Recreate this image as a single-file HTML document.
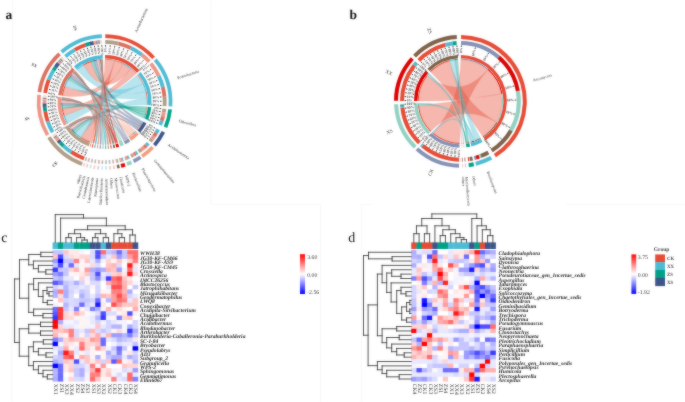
<!DOCTYPE html><html><head><meta charset="utf-8"><style>html,body{margin:0;padding:0;background:#fff;}svg{display:block;will-change:transform;}text{font-family:"Liberation Serif",serif;text-rendering:geometricPrecision;}</style></head><body><svg width="685" height="402" viewBox="0 0 685 402" font-family="Liberation Serif, serif">
<rect width="685" height="402" fill="#fff"/>
<defs><filter id="soft" x="-2%" y="-2%" width="104%" height="104%" color-interpolation-filters="sRGB"><feGaussianBlur in="SourceGraphic" stdDeviation="1" result="b"/><feComposite in="SourceGraphic" in2="b" operator="arithmetic" k1="0" k2="0.55" k3="0.45" k4="0"/></filter></defs>
<g filter="url(#soft)">
<rect width="685" height="402" fill="#fff"/>
<line x1="12.6" y1="0" x2="12.6" y2="150" stroke="#f7f7f7" stroke-width="1"/>
<line x1="11.8" y1="150" x2="11.8" y2="402" stroke="#f7f7f7" stroke-width="1"/>
<line x1="211" y1="0" x2="211" y2="204.3" stroke="#f7f7f7" stroke-width="1"/>
<line x1="211" y1="204.3" x2="320.6" y2="204.3" stroke="#f7f7f7" stroke-width="1"/>
<line x1="320.6" y1="204.3" x2="320.6" y2="402" stroke="#f7f7f7" stroke-width="1"/>
<line x1="361.3" y1="204.3" x2="361.3" y2="402" stroke="#f7f7f7" stroke-width="1"/>
<line x1="361.3" y1="204.3" x2="372" y2="204.3" stroke="#f7f7f7" stroke-width="1"/>
<line x1="566" y1="204.3" x2="685" y2="204.3" stroke="#f7f7f7" stroke-width="1"/>
<path d="M105.04,59.70A42.300000000000004,42.300000000000004 0 0 1 114.48,60.87Q104.60,102.00 90.20,141.77A42.300000000000004,42.300000000000004 0 0 1 81.05,137.14Q104.60,102.00 105.04,59.70Z" fill="#E64B35" fill-opacity="0.4" stroke="#E64B35" stroke-width="0.35" stroke-opacity="0.4"/>
<path d="M130.77,68.77A42.300000000000004,42.300000000000004 0 0 1 136.04,73.70Q104.60,102.00 64.57,115.67A42.300000000000004,42.300000000000004 0 0 1 62.81,108.53Q104.60,102.00 130.77,68.77Z" fill="#E64B35" fill-opacity="0.4" stroke="#E64B35" stroke-width="0.35" stroke-opacity="0.4"/>
<path d="M114.48,60.87A42.300000000000004,42.300000000000004 0 0 1 123.09,63.95Q104.60,102.00 62.78,95.67A42.300000000000004,42.300000000000004 0 0 1 65.29,86.38Q104.60,102.00 114.48,60.87Z" fill="#E64B35" fill-opacity="0.4" stroke="#E64B35" stroke-width="0.35" stroke-opacity="0.4"/>
<path d="M123.09,63.95A42.300000000000004,42.300000000000004 0 0 1 130.77,68.77Q104.60,102.00 83.65,65.25A42.300000000000004,42.300000000000004 0 0 1 91.13,61.90Q104.60,102.00 123.09,63.95Z" fill="#E64B35" fill-opacity="0.4" stroke="#E64B35" stroke-width="0.35" stroke-opacity="0.4"/>
<path d="M146.74,98.28A42.300000000000004,42.300000000000004 0 0 1 146.80,104.88Q104.60,102.00 81.05,137.14A42.300000000000004,42.300000000000004 0 0 1 75.62,132.81Q104.60,102.00 146.74,98.28Z" fill="#4DBBD5" fill-opacity="0.4" stroke="#4DBBD5" stroke-width="0.35" stroke-opacity="0.4"/>
<path d="M137.10,74.92A42.300000000000004,42.300000000000004 0 0 1 142.78,83.79Q104.60,102.00 68.04,123.28A42.300000000000004,42.300000000000004 0 0 1 64.57,115.67Q104.60,102.00 137.10,74.92Z" fill="#4DBBD5" fill-opacity="0.4" stroke="#4DBBD5" stroke-width="0.35" stroke-opacity="0.4"/>
<path d="M145.56,91.43A42.300000000000004,42.300000000000004 0 0 1 146.74,98.28Q104.60,102.00 65.29,86.38A42.300000000000004,42.300000000000004 0 0 1 68.60,79.79Q104.60,102.00 145.56,91.43Z" fill="#4DBBD5" fill-opacity="0.4" stroke="#4DBBD5" stroke-width="0.35" stroke-opacity="0.4"/>
<path d="M142.78,83.79A42.300000000000004,42.300000000000004 0 0 1 145.56,91.43Q104.60,102.00 77.02,69.93A42.300000000000004,42.300000000000004 0 0 1 83.65,65.25Q104.60,102.00 142.78,83.79Z" fill="#4DBBD5" fill-opacity="0.4" stroke="#4DBBD5" stroke-width="0.35" stroke-opacity="0.4"/>
<path d="M146.64,106.72A42.300000000000004,42.300000000000004 0 0 1 146.28,109.24Q104.60,102.00 75.62,132.81A42.300000000000004,42.300000000000004 0 0 1 73.33,130.49Q104.60,102.00 146.64,106.72Z" fill="#00A087" fill-opacity="0.4" stroke="#00A087" stroke-width="0.35" stroke-opacity="0.4"/>
<path d="M146.28,109.24A42.300000000000004,42.300000000000004 0 0 1 145.65,112.21Q104.60,102.00 62.81,108.53A42.300000000000004,42.300000000000004 0 0 1 62.44,105.40Q104.60,102.00 146.28,109.24Z" fill="#00A087" fill-opacity="0.4" stroke="#00A087" stroke-width="0.35" stroke-opacity="0.4"/>
<path d="M145.65,112.21A42.300000000000004,42.300000000000004 0 0 1 144.79,115.20Q104.60,102.00 68.60,79.79A42.300000000000004,42.300000000000004 0 0 1 70.09,77.55Q104.60,102.00 145.65,112.21Z" fill="#00A087" fill-opacity="0.4" stroke="#00A087" stroke-width="0.35" stroke-opacity="0.4"/>
<path d="M144.79,115.20A42.300000000000004,42.300000000000004 0 0 1 143.68,118.19Q104.60,102.00 91.13,61.90A42.300000000000004,42.300000000000004 0 0 1 93.91,61.07Q104.60,102.00 144.79,115.20Z" fill="#00A087" fill-opacity="0.4" stroke="#00A087" stroke-width="0.35" stroke-opacity="0.4"/>
<path d="M137.92,128.06A42.300000000000004,42.300000000000004 0 0 1 136.57,129.70Q104.60,102.00 73.33,130.49A42.300000000000004,42.300000000000004 0 0 1 71.96,128.91Q104.60,102.00 137.92,128.06Z" fill="#3C5488" fill-opacity="0.4" stroke="#3C5488" stroke-width="0.35" stroke-opacity="0.4"/>
<path d="M139.39,126.06A42.300000000000004,42.300000000000004 0 0 1 137.92,128.06Q104.60,102.00 62.44,105.40A42.300000000000004,42.300000000000004 0 0 1 62.31,102.90Q104.60,102.00 139.39,126.06Z" fill="#3C5488" fill-opacity="0.4" stroke="#3C5488" stroke-width="0.35" stroke-opacity="0.4"/>
<path d="M140.92,123.68A42.300000000000004,42.300000000000004 0 0 1 139.39,126.06Q104.60,102.00 70.09,77.55A42.300000000000004,42.300000000000004 0 0 1 72.21,74.79Q104.60,102.00 140.92,123.68Z" fill="#3C5488" fill-opacity="0.4" stroke="#3C5488" stroke-width="0.35" stroke-opacity="0.4"/>
<path d="M142.29,121.20A42.300000000000004,42.300000000000004 0 0 1 140.92,123.68Q104.60,102.00 93.91,61.07A42.300000000000004,42.300000000000004 0 0 1 96.95,60.40Q104.60,102.00 142.29,121.20Z" fill="#3C5488" fill-opacity="0.4" stroke="#3C5488" stroke-width="0.35" stroke-opacity="0.4"/>
<path d="M130.47,135.46A42.300000000000004,42.300000000000004 0 0 1 128.62,136.82Q104.60,102.00 71.96,128.91A42.300000000000004,42.300000000000004 0 0 1 70.72,127.33Q104.60,102.00 130.47,135.46Z" fill="#F39B7F" fill-opacity="0.4" stroke="#F39B7F" stroke-width="0.35" stroke-opacity="0.4"/>
<path d="M132.45,133.84A42.300000000000004,42.300000000000004 0 0 1 130.47,135.46Q104.60,102.00 62.31,102.90A42.300000000000004,42.300000000000004 0 0 1 62.31,100.97Q104.60,102.00 132.45,133.84Z" fill="#F39B7F" fill-opacity="0.4" stroke="#F39B7F" stroke-width="0.35" stroke-opacity="0.4"/>
<path d="M133.95,132.46A42.300000000000004,42.300000000000004 0 0 1 132.45,133.84Q104.60,102.00 72.21,74.79A42.300000000000004,42.300000000000004 0 0 1 73.00,73.88Q104.60,102.00 133.95,132.46Z" fill="#F39B7F" fill-opacity="0.4" stroke="#F39B7F" stroke-width="0.35" stroke-opacity="0.4"/>
<path d="M135.38,131.01A42.300000000000004,42.300000000000004 0 0 1 133.95,132.46Q104.60,102.00 96.95,60.40A42.300000000000004,42.300000000000004 0 0 1 98.53,60.14Q104.60,102.00 135.38,131.01Z" fill="#F39B7F" fill-opacity="0.4" stroke="#F39B7F" stroke-width="0.35" stroke-opacity="0.4"/>
<path d="M124.35,139.41A42.300000000000004,42.300000000000004 0 0 1 123.14,140.02Q104.60,102.00 70.72,127.33A42.300000000000004,42.300000000000004 0 0 1 70.31,126.77Q104.60,102.00 124.35,139.41Z" fill="#8491B4" fill-opacity="0.52" stroke="#8491B4" stroke-width="0.35" stroke-opacity="0.52"/>
<path d="M125.33,138.87A42.300000000000004,42.300000000000004 0 0 1 124.35,139.41Q104.60,102.00 62.31,100.97A42.300000000000004,42.300000000000004 0 0 1 62.33,100.32Q104.60,102.00 125.33,138.87Z" fill="#8491B4" fill-opacity="0.52" stroke="#8491B4" stroke-width="0.35" stroke-opacity="0.52"/>
<path d="M126.50,138.19A42.300000000000004,42.300000000000004 0 0 1 125.33,138.87Q104.60,102.00 73.00,73.88A42.300000000000004,42.300000000000004 0 0 1 73.72,73.10Q104.60,102.00 126.50,138.19Z" fill="#8491B4" fill-opacity="0.52" stroke="#8491B4" stroke-width="0.35" stroke-opacity="0.52"/>
<path d="M127.64,137.48A42.300000000000004,42.300000000000004 0 0 1 126.50,138.19Q104.60,102.00 98.53,60.14A42.300000000000004,42.300000000000004 0 0 1 99.83,59.97Q104.60,102.00 127.64,137.48Z" fill="#8491B4" fill-opacity="0.52" stroke="#8491B4" stroke-width="0.35" stroke-opacity="0.52"/>
<path d="M119.66,141.53A42.300000000000004,42.300000000000004 0 0 1 118.93,141.80Q104.60,102.00 70.31,126.77A42.300000000000004,42.300000000000004 0 0 1 70.11,126.48Q104.60,102.00 119.66,141.53Z" fill="#91D1C2" fill-opacity="0.52" stroke="#91D1C2" stroke-width="0.35" stroke-opacity="0.52"/>
<path d="M120.38,141.25A42.300000000000004,42.300000000000004 0 0 1 119.66,141.53Q104.60,102.00 62.33,100.32A42.300000000000004,42.300000000000004 0 0 1 62.36,99.75Q104.60,102.00 120.38,141.25Z" fill="#91D1C2" fill-opacity="0.52" stroke="#91D1C2" stroke-width="0.35" stroke-opacity="0.52"/>
<path d="M121.09,140.95A42.300000000000004,42.300000000000004 0 0 1 120.38,141.25Q104.60,102.00 73.72,73.10A42.300000000000004,42.300000000000004 0 0 1 74.11,72.68Q104.60,102.00 121.09,140.95Z" fill="#91D1C2" fill-opacity="0.52" stroke="#91D1C2" stroke-width="0.35" stroke-opacity="0.52"/>
<path d="M121.80,140.64A42.300000000000004,42.300000000000004 0 0 1 121.09,140.95Q104.60,102.00 99.83,59.97A42.300000000000004,42.300000000000004 0 0 1 100.40,59.91Q104.60,102.00 121.80,140.64Z" fill="#91D1C2" fill-opacity="0.52" stroke="#91D1C2" stroke-width="0.35" stroke-opacity="0.52"/>
<path d="M115.76,142.80A42.300000000000004,42.300000000000004 0 0 1 115.12,142.97Q104.60,102.00 70.11,126.48A42.300000000000004,42.300000000000004 0 0 1 69.91,126.20Q104.60,102.00 115.76,142.80Z" fill="#DC0000" fill-opacity="0.52" stroke="#DC0000" stroke-width="0.35" stroke-opacity="0.52"/>
<path d="M116.40,142.62A42.300000000000004,42.300000000000004 0 0 1 115.76,142.80Q104.60,102.00 62.36,99.75A42.300000000000004,42.300000000000004 0 0 1 62.38,99.39Q104.60,102.00 116.40,142.62Z" fill="#DC0000" fill-opacity="0.52" stroke="#DC0000" stroke-width="0.35" stroke-opacity="0.52"/>
<path d="M117.04,142.43A42.300000000000004,42.300000000000004 0 0 1 116.40,142.62Q104.60,102.00 74.11,72.68A42.300000000000004,42.300000000000004 0 0 1 74.35,72.43Q104.60,102.00 117.04,142.43Z" fill="#DC0000" fill-opacity="0.52" stroke="#DC0000" stroke-width="0.35" stroke-opacity="0.52"/>
<path d="M117.67,142.23A42.300000000000004,42.300000000000004 0 0 1 117.04,142.43Q104.60,102.00 100.40,59.91A42.300000000000004,42.300000000000004 0 0 1 100.84,59.87Q104.60,102.00 117.67,142.23Z" fill="#DC0000" fill-opacity="0.52" stroke="#DC0000" stroke-width="0.35" stroke-opacity="0.52"/>
<path d="M112.92,143.47A42.300000000000004,42.300000000000004 0 0 1 112.53,143.55Q104.60,102.00 69.91,126.20A42.300000000000004,42.300000000000004 0 0 1 69.75,125.97Q104.60,102.00 112.92,143.47Z" fill="#7E6148" fill-opacity="0.52" stroke="#7E6148" stroke-width="0.35" stroke-opacity="0.52"/>
<path d="M113.32,143.39A42.300000000000004,42.300000000000004 0 0 1 112.92,143.47Q104.60,102.00 62.38,99.39A42.300000000000004,42.300000000000004 0 0 1 62.40,99.04Q104.60,102.00 113.32,143.39Z" fill="#7E6148" fill-opacity="0.52" stroke="#7E6148" stroke-width="0.35" stroke-opacity="0.52"/>
<path d="M113.72,143.31A42.300000000000004,42.300000000000004 0 0 1 113.32,143.39Q104.60,102.00 74.35,72.43A42.300000000000004,42.300000000000004 0 0 1 74.55,72.23Q104.60,102.00 113.72,143.31Z" fill="#7E6148" fill-opacity="0.52" stroke="#7E6148" stroke-width="0.35" stroke-opacity="0.52"/>
<path d="M114.12,143.22A42.300000000000004,42.300000000000004 0 0 1 113.72,143.31Q104.60,102.00 100.84,59.87A42.300000000000004,42.300000000000004 0 0 1 101.20,59.84Q104.60,102.00 114.12,143.22Z" fill="#7E6148" fill-opacity="0.52" stroke="#7E6148" stroke-width="0.35" stroke-opacity="0.52"/>
<path d="M110.30,143.91A42.300000000000004,42.300000000000004 0 0 1 110.05,143.95Q104.60,102.00 69.75,125.97A42.300000000000004,42.300000000000004 0 0 1 69.65,125.83Q104.60,102.00 110.30,143.91Z" fill="#E64B35" fill-opacity="0.52" stroke="#E64B35" stroke-width="0.35" stroke-opacity="0.52"/>
<path d="M110.56,143.88A42.300000000000004,42.300000000000004 0 0 1 110.30,143.91Q104.60,102.00 62.40,99.04A42.300000000000004,42.300000000000004 0 0 1 62.42,98.86Q104.60,102.00 110.56,143.88Z" fill="#E64B35" fill-opacity="0.52" stroke="#E64B35" stroke-width="0.35" stroke-opacity="0.52"/>
<path d="M110.82,143.84A42.300000000000004,42.300000000000004 0 0 1 110.56,143.88Q104.60,102.00 74.55,72.23A42.300000000000004,42.300000000000004 0 0 1 74.68,72.10Q104.60,102.00 110.82,143.84Z" fill="#E64B35" fill-opacity="0.52" stroke="#E64B35" stroke-width="0.35" stroke-opacity="0.52"/>
<path d="M111.07,143.80A42.300000000000004,42.300000000000004 0 0 1 110.82,143.84Q104.60,102.00 101.20,59.84A42.300000000000004,42.300000000000004 0 0 1 101.38,59.82Q104.60,102.00 111.07,143.80Z" fill="#E64B35" fill-opacity="0.52" stroke="#E64B35" stroke-width="0.35" stroke-opacity="0.52"/>
<path d="M107.81,144.18A42.300000000000004,42.300000000000004 0 0 1 107.55,144.20Q104.60,102.00 69.65,125.83A42.300000000000004,42.300000000000004 0 0 1 69.55,125.68Q104.60,102.00 107.81,144.18Z" fill="#B09C85" fill-opacity="0.52" stroke="#B09C85" stroke-width="0.35" stroke-opacity="0.52"/>
<path d="M108.07,144.16A42.300000000000004,42.300000000000004 0 0 1 107.81,144.18Q104.60,102.00 62.42,98.86A42.300000000000004,42.300000000000004 0 0 1 62.43,98.68Q104.60,102.00 108.07,144.16Z" fill="#B09C85" fill-opacity="0.52" stroke="#B09C85" stroke-width="0.35" stroke-opacity="0.52"/>
<path d="M108.32,144.14A42.300000000000004,42.300000000000004 0 0 1 108.07,144.16Q104.60,102.00 74.68,72.10A42.300000000000004,42.300000000000004 0 0 1 74.80,71.98Q104.60,102.00 108.32,144.14Z" fill="#B09C85" fill-opacity="0.52" stroke="#B09C85" stroke-width="0.35" stroke-opacity="0.52"/>
<path d="M108.58,144.11A42.300000000000004,42.300000000000004 0 0 1 108.32,144.14Q104.60,102.00 101.38,59.82A42.300000000000004,42.300000000000004 0 0 1 101.56,59.81Q104.60,102.00 108.58,144.11Z" fill="#B09C85" fill-opacity="0.52" stroke="#B09C85" stroke-width="0.35" stroke-opacity="0.52"/>
<path d="M105.30,144.29A42.300000000000004,42.300000000000004 0 0 1 105.04,144.30Q104.60,102.00 69.55,125.68A42.300000000000004,42.300000000000004 0 0 1 69.45,125.54Q104.60,102.00 105.30,144.29Z" fill="#4DBBD5" fill-opacity="0.52" stroke="#4DBBD5" stroke-width="0.35" stroke-opacity="0.52"/>
<path d="M105.56,144.29A42.300000000000004,42.300000000000004 0 0 1 105.30,144.29Q104.60,102.00 62.43,98.68A42.300000000000004,42.300000000000004 0 0 1 62.45,98.50Q104.60,102.00 105.56,144.29Z" fill="#4DBBD5" fill-opacity="0.52" stroke="#4DBBD5" stroke-width="0.35" stroke-opacity="0.52"/>
<path d="M105.82,144.28A42.300000000000004,42.300000000000004 0 0 1 105.56,144.29Q104.60,102.00 74.80,71.98A42.300000000000004,42.300000000000004 0 0 1 74.93,71.85Q104.60,102.00 105.82,144.28Z" fill="#4DBBD5" fill-opacity="0.52" stroke="#4DBBD5" stroke-width="0.35" stroke-opacity="0.52"/>
<path d="M106.08,144.27A42.300000000000004,42.300000000000004 0 0 1 105.82,144.28Q104.60,102.00 101.56,59.81A42.300000000000004,42.300000000000004 0 0 1 101.74,59.80Q104.60,102.00 106.08,144.27Z" fill="#4DBBD5" fill-opacity="0.52" stroke="#4DBBD5" stroke-width="0.35" stroke-opacity="0.52"/>
<path d="M102.79,144.26A42.300000000000004,42.300000000000004 0 0 1 102.53,144.25Q104.60,102.00 69.45,125.54A42.300000000000004,42.300000000000004 0 0 1 69.36,125.39Q104.60,102.00 102.79,144.26Z" fill="#91D1C2" fill-opacity="0.52" stroke="#91D1C2" stroke-width="0.35" stroke-opacity="0.52"/>
<path d="M103.05,144.27A42.300000000000004,42.300000000000004 0 0 1 102.79,144.26Q104.60,102.00 62.45,98.50A42.300000000000004,42.300000000000004 0 0 1 62.46,98.32Q104.60,102.00 103.05,144.27Z" fill="#91D1C2" fill-opacity="0.52" stroke="#91D1C2" stroke-width="0.35" stroke-opacity="0.52"/>
<path d="M103.31,144.28A42.300000000000004,42.300000000000004 0 0 1 103.05,144.27Q104.60,102.00 74.93,71.85A42.300000000000004,42.300000000000004 0 0 1 75.06,71.73Q104.60,102.00 103.31,144.28Z" fill="#91D1C2" fill-opacity="0.52" stroke="#91D1C2" stroke-width="0.35" stroke-opacity="0.52"/>
<path d="M103.57,144.29A42.300000000000004,42.300000000000004 0 0 1 103.31,144.28Q104.60,102.00 101.74,59.80A42.300000000000004,42.300000000000004 0 0 1 101.92,59.78Q104.60,102.00 103.57,144.29Z" fill="#91D1C2" fill-opacity="0.52" stroke="#91D1C2" stroke-width="0.35" stroke-opacity="0.52"/>
<path d="M100.29,144.08A42.300000000000004,42.300000000000004 0 0 1 100.03,144.05Q104.60,102.00 69.36,125.39A42.300000000000004,42.300000000000004 0 0 1 69.26,125.25Q104.60,102.00 100.29,144.08Z" fill="#8491B4" fill-opacity="0.52" stroke="#8491B4" stroke-width="0.35" stroke-opacity="0.52"/>
<path d="M100.55,144.11A42.300000000000004,42.300000000000004 0 0 1 100.29,144.08Q104.60,102.00 62.46,98.32A42.300000000000004,42.300000000000004 0 0 1 62.48,98.14Q104.60,102.00 100.55,144.11Z" fill="#8491B4" fill-opacity="0.52" stroke="#8491B4" stroke-width="0.35" stroke-opacity="0.52"/>
<path d="M100.80,144.13A42.300000000000004,42.300000000000004 0 0 1 100.55,144.11Q104.60,102.00 75.06,71.73A42.300000000000004,42.300000000000004 0 0 1 75.18,71.60Q104.60,102.00 100.80,144.13Z" fill="#8491B4" fill-opacity="0.52" stroke="#8491B4" stroke-width="0.35" stroke-opacity="0.52"/>
<path d="M101.06,144.15A42.300000000000004,42.300000000000004 0 0 1 100.80,144.13Q104.60,102.00 101.92,59.78A42.300000000000004,42.300000000000004 0 0 1 102.10,59.77Q104.60,102.00 101.06,144.15Z" fill="#8491B4" fill-opacity="0.52" stroke="#8491B4" stroke-width="0.35" stroke-opacity="0.52"/>
<path d="M97.80,143.75A42.300000000000004,42.300000000000004 0 0 1 97.55,143.71Q104.60,102.00 69.26,125.25A42.300000000000004,42.300000000000004 0 0 1 69.17,125.10Q104.60,102.00 97.80,143.75Z" fill="#F39B7F" fill-opacity="0.52" stroke="#F39B7F" stroke-width="0.35" stroke-opacity="0.52"/>
<path d="M98.06,143.79A42.300000000000004,42.300000000000004 0 0 1 97.80,143.75Q104.60,102.00 62.48,98.14A42.300000000000004,42.300000000000004 0 0 1 62.49,97.97Q104.60,102.00 98.06,143.79Z" fill="#F39B7F" fill-opacity="0.52" stroke="#F39B7F" stroke-width="0.35" stroke-opacity="0.52"/>
<path d="M98.31,143.83A42.300000000000004,42.300000000000004 0 0 1 98.06,143.79Q104.60,102.00 75.18,71.60A42.300000000000004,42.300000000000004 0 0 1 75.31,71.48Q104.60,102.00 98.31,143.83Z" fill="#F39B7F" fill-opacity="0.52" stroke="#F39B7F" stroke-width="0.35" stroke-opacity="0.52"/>
<path d="M98.57,143.87A42.300000000000004,42.300000000000004 0 0 1 98.31,143.83Q104.60,102.00 102.10,59.77A42.300000000000004,42.300000000000004 0 0 1 102.28,59.76Q104.60,102.00 98.57,143.87Z" fill="#F39B7F" fill-opacity="0.52" stroke="#F39B7F" stroke-width="0.35" stroke-opacity="0.52"/>
<path d="M95.41,143.29A42.300000000000004,42.300000000000004 0 0 1 95.16,143.23Q104.60,102.00 69.17,125.10A42.300000000000004,42.300000000000004 0 0 1 69.07,124.96Q104.60,102.00 95.41,143.29Z" fill="#4DBBD5" fill-opacity="0.52" stroke="#4DBBD5" stroke-width="0.35" stroke-opacity="0.52"/>
<path d="M95.66,143.34A42.300000000000004,42.300000000000004 0 0 1 95.41,143.29Q104.60,102.00 62.49,97.97A42.300000000000004,42.300000000000004 0 0 1 62.51,97.79Q104.60,102.00 95.66,143.34Z" fill="#4DBBD5" fill-opacity="0.52" stroke="#4DBBD5" stroke-width="0.35" stroke-opacity="0.52"/>
<path d="M95.91,143.40A42.300000000000004,42.300000000000004 0 0 1 95.66,143.34Q104.60,102.00 75.31,71.48A42.300000000000004,42.300000000000004 0 0 1 75.44,71.36Q104.60,102.00 95.91,143.40Z" fill="#4DBBD5" fill-opacity="0.52" stroke="#4DBBD5" stroke-width="0.35" stroke-opacity="0.52"/>
<path d="M96.17,143.45A42.300000000000004,42.300000000000004 0 0 1 95.91,143.40Q104.60,102.00 102.28,59.76A42.300000000000004,42.300000000000004 0 0 1 102.47,59.75Q104.60,102.00 96.17,143.45Z" fill="#4DBBD5" fill-opacity="0.52" stroke="#4DBBD5" stroke-width="0.35" stroke-opacity="0.52"/>
<path d="M93.19,142.73A42.300000000000004,42.300000000000004 0 0 1 92.94,142.66Q104.60,102.00 69.07,124.96A42.300000000000004,42.300000000000004 0 0 1 68.98,124.81Q104.60,102.00 93.19,142.73Z" fill="#E64B35" fill-opacity="0.52" stroke="#E64B35" stroke-width="0.35" stroke-opacity="0.52"/>
<path d="M93.44,142.80A42.300000000000004,42.300000000000004 0 0 1 93.19,142.73Q104.60,102.00 62.51,97.79A42.300000000000004,42.300000000000004 0 0 1 62.53,97.61Q104.60,102.00 93.44,142.80Z" fill="#E64B35" fill-opacity="0.52" stroke="#E64B35" stroke-width="0.35" stroke-opacity="0.52"/>
<path d="M93.69,142.87A42.300000000000004,42.300000000000004 0 0 1 93.44,142.80Q104.60,102.00 75.44,71.36A42.300000000000004,42.300000000000004 0 0 1 75.57,71.24Q104.60,102.00 93.69,142.87Z" fill="#E64B35" fill-opacity="0.52" stroke="#E64B35" stroke-width="0.35" stroke-opacity="0.52"/>
<path d="M93.94,142.93A42.300000000000004,42.300000000000004 0 0 1 93.69,142.87Q104.60,102.00 102.47,59.75A42.300000000000004,42.300000000000004 0 0 1 102.65,59.75Q104.60,102.00 93.94,142.93Z" fill="#E64B35" fill-opacity="0.52" stroke="#E64B35" stroke-width="0.35" stroke-opacity="0.52"/>
<path d="M91.21,142.13A42.300000000000004,42.300000000000004 0 0 1 90.97,142.04Q104.60,102.00 68.98,124.81A42.300000000000004,42.300000000000004 0 0 1 68.88,124.67Q104.60,102.00 91.21,142.13Z" fill="#F39B7F" fill-opacity="0.52" stroke="#F39B7F" stroke-width="0.35" stroke-opacity="0.52"/>
<path d="M91.46,142.21A42.300000000000004,42.300000000000004 0 0 1 91.21,142.13Q104.60,102.00 62.53,97.61A42.300000000000004,42.300000000000004 0 0 1 62.55,97.43Q104.60,102.00 91.46,142.21Z" fill="#F39B7F" fill-opacity="0.52" stroke="#F39B7F" stroke-width="0.35" stroke-opacity="0.52"/>
<path d="M91.70,142.29A42.300000000000004,42.300000000000004 0 0 1 91.46,142.21Q104.60,102.00 75.57,71.24A42.300000000000004,42.300000000000004 0 0 1 75.70,71.11Q104.60,102.00 91.70,142.29Z" fill="#F39B7F" fill-opacity="0.52" stroke="#F39B7F" stroke-width="0.35" stroke-opacity="0.52"/>
<path d="M91.95,142.36A42.300000000000004,42.300000000000004 0 0 1 91.70,142.29Q104.60,102.00 102.65,59.75A42.300000000000004,42.300000000000004 0 0 1 102.83,59.74Q104.60,102.00 91.95,142.36Z" fill="#F39B7F" fill-opacity="0.52" stroke="#F39B7F" stroke-width="0.35" stroke-opacity="0.52"/>
<path d="M105.05,58.70A43.300000000000004,43.300000000000004 0 0 1 114.71,59.90L114.48,60.87A42.300000000000004,42.300000000000004 0 0 0 105.04,59.70Z" fill="#B09C85" />
<path d="M89.86,142.71A43.300000000000004,43.300000000000004 0 0 1 80.49,137.97L81.05,137.14A42.300000000000004,42.300000000000004 0 0 0 90.20,141.77Z" fill="#E64B35" />
<path d="M131.39,67.98A43.300000000000004,43.300000000000004 0 0 1 136.78,73.03L136.04,73.70A42.300000000000004,42.300000000000004 0 0 0 130.77,68.77Z" fill="#EC9585" />
<path d="M63.62,116.00A43.300000000000004,43.300000000000004 0 0 1 61.82,108.68L62.81,108.53A42.300000000000004,42.300000000000004 0 0 0 64.57,115.67Z" fill="#E64B35" />
<path d="M114.71,59.90A43.300000000000004,43.300000000000004 0 0 1 123.52,63.05L123.09,63.95A42.300000000000004,42.300000000000004 0 0 0 114.48,60.87Z" fill="#D9705E" />
<path d="M61.79,95.53A43.300000000000004,43.300000000000004 0 0 1 64.36,86.01L65.29,86.38A42.300000000000004,42.300000000000004 0 0 0 62.78,95.67Z" fill="#E64B35" />
<path d="M123.52,63.05A43.300000000000004,43.300000000000004 0 0 1 131.39,67.98L130.77,68.77A42.300000000000004,42.300000000000004 0 0 0 123.09,63.95Z" fill="#4DBBD5" />
<path d="M83.16,64.38A43.300000000000004,43.300000000000004 0 0 1 90.81,60.96L91.13,61.90A42.300000000000004,42.300000000000004 0 0 0 83.65,65.25Z" fill="#E64B35" />
<path d="M147.73,98.20A43.300000000000004,43.300000000000004 0 0 1 147.80,104.95L146.80,104.88A42.300000000000004,42.300000000000004 0 0 0 146.74,98.28Z" fill="#B09C85" />
<path d="M80.49,137.97A43.300000000000004,43.300000000000004 0 0 1 74.93,133.54L75.62,132.81A42.300000000000004,42.300000000000004 0 0 0 81.05,137.14Z" fill="#4DBBD5" />
<path d="M137.87,74.28A43.300000000000004,43.300000000000004 0 0 1 143.68,83.36L142.78,83.79A42.300000000000004,42.300000000000004 0 0 0 137.10,74.92Z" fill="#EC9585" />
<path d="M67.18,123.78A43.300000000000004,43.300000000000004 0 0 1 63.62,116.00L64.57,115.67A42.300000000000004,42.300000000000004 0 0 0 68.04,123.28Z" fill="#4DBBD5" />
<path d="M146.53,91.18A43.300000000000004,43.300000000000004 0 0 1 147.73,98.20L146.74,98.28A42.300000000000004,42.300000000000004 0 0 0 145.56,91.43Z" fill="#D9705E" />
<path d="M64.36,86.01A43.300000000000004,43.300000000000004 0 0 1 67.75,79.27L68.60,79.79A42.300000000000004,42.300000000000004 0 0 0 65.29,86.38Z" fill="#4DBBD5" />
<path d="M143.68,83.36A43.300000000000004,43.300000000000004 0 0 1 146.53,91.18L145.56,91.43A42.300000000000004,42.300000000000004 0 0 0 142.78,83.79Z" fill="#4DBBD5" />
<path d="M76.36,69.17A43.300000000000004,43.300000000000004 0 0 1 83.16,64.38L83.65,65.25A42.300000000000004,42.300000000000004 0 0 0 77.02,69.93Z" fill="#4DBBD5" />
<path d="M147.63,106.83A43.300000000000004,43.300000000000004 0 0 1 147.26,109.41L146.28,109.24A42.300000000000004,42.300000000000004 0 0 0 146.64,106.72Z" fill="#B09C85" />
<path d="M74.93,133.54A43.300000000000004,43.300000000000004 0 0 1 72.59,131.16L73.33,130.49A42.300000000000004,42.300000000000004 0 0 0 75.62,132.81Z" fill="#00A087" />
<path d="M147.26,109.41A43.300000000000004,43.300000000000004 0 0 1 146.62,112.45L145.65,112.21A42.300000000000004,42.300000000000004 0 0 0 146.28,109.24Z" fill="#EC9585" />
<path d="M61.82,108.68A43.300000000000004,43.300000000000004 0 0 1 61.44,105.48L62.44,105.40A42.300000000000004,42.300000000000004 0 0 0 62.81,108.53Z" fill="#00A087" />
<path d="M146.62,112.45A43.300000000000004,43.300000000000004 0 0 1 145.74,115.52L144.79,115.20A42.300000000000004,42.300000000000004 0 0 0 145.65,112.21Z" fill="#D9705E" />
<path d="M67.75,79.27A43.300000000000004,43.300000000000004 0 0 1 69.27,76.97L70.09,77.55A42.300000000000004,42.300000000000004 0 0 0 68.60,79.79Z" fill="#00A087" />
<path d="M145.74,115.52A43.300000000000004,43.300000000000004 0 0 1 144.60,118.57L143.68,118.19A42.300000000000004,42.300000000000004 0 0 0 144.79,115.20Z" fill="#4DBBD5" />
<path d="M90.81,60.96A43.300000000000004,43.300000000000004 0 0 1 93.65,60.11L93.91,61.07A42.300000000000004,42.300000000000004 0 0 0 91.13,61.90Z" fill="#00A087" />
<path d="M138.71,128.67A43.300000000000004,43.300000000000004 0 0 1 137.33,130.35L136.57,129.70A42.300000000000004,42.300000000000004 0 0 0 137.92,128.06Z" fill="#B09C85" />
<path d="M72.59,131.16A43.300000000000004,43.300000000000004 0 0 1 71.19,129.55L71.96,128.91A42.300000000000004,42.300000000000004 0 0 0 73.33,130.49Z" fill="#3C5488" />
<path d="M140.21,126.63A43.300000000000004,43.300000000000004 0 0 1 138.71,128.67L137.92,128.06A42.300000000000004,42.300000000000004 0 0 0 139.39,126.06Z" fill="#EC9585" />
<path d="M61.44,105.48A43.300000000000004,43.300000000000004 0 0 1 61.31,102.92L62.31,102.90A42.300000000000004,42.300000000000004 0 0 0 62.44,105.40Z" fill="#3C5488" />
<path d="M141.78,124.19A43.300000000000004,43.300000000000004 0 0 1 140.21,126.63L139.39,126.06A42.300000000000004,42.300000000000004 0 0 0 140.92,123.68Z" fill="#D9705E" />
<path d="M69.27,76.97A43.300000000000004,43.300000000000004 0 0 1 71.44,74.15L72.21,74.79A42.300000000000004,42.300000000000004 0 0 0 70.09,77.55Z" fill="#3C5488" />
<path d="M143.18,121.66A43.300000000000004,43.300000000000004 0 0 1 141.78,124.19L140.92,123.68A42.300000000000004,42.300000000000004 0 0 0 142.29,121.20Z" fill="#4DBBD5" />
<path d="M93.65,60.11A43.300000000000004,43.300000000000004 0 0 1 96.77,59.41L96.95,60.40A42.300000000000004,42.300000000000004 0 0 0 93.91,61.07Z" fill="#3C5488" />
<path d="M131.09,136.25A43.300000000000004,43.300000000000004 0 0 1 129.19,137.64L128.62,136.82A42.300000000000004,42.300000000000004 0 0 0 130.47,135.46Z" fill="#B09C85" />
<path d="M71.19,129.55A43.300000000000004,43.300000000000004 0 0 1 69.92,127.92L70.72,127.33A42.300000000000004,42.300000000000004 0 0 0 71.96,128.91Z" fill="#F39B7F" />
<path d="M133.10,134.60A43.300000000000004,43.300000000000004 0 0 1 131.09,136.25L130.47,135.46A42.300000000000004,42.300000000000004 0 0 0 132.45,133.84Z" fill="#EC9585" />
<path d="M61.31,102.92A43.300000000000004,43.300000000000004 0 0 1 61.31,100.94L62.31,100.97A42.300000000000004,42.300000000000004 0 0 0 62.31,102.90Z" fill="#F39B7F" />
<path d="M134.64,133.18A43.300000000000004,43.300000000000004 0 0 1 133.10,134.60L132.45,133.84A42.300000000000004,42.300000000000004 0 0 0 133.95,132.46Z" fill="#D9705E" />
<path d="M71.44,74.15A43.300000000000004,43.300000000000004 0 0 1 72.25,73.22L73.00,73.88A42.300000000000004,42.300000000000004 0 0 0 72.21,74.79Z" fill="#F39B7F" />
<path d="M136.11,131.70A43.300000000000004,43.300000000000004 0 0 1 134.64,133.18L133.95,132.46A42.300000000000004,42.300000000000004 0 0 0 135.38,131.01Z" fill="#4DBBD5" />
<path d="M96.77,59.41A43.300000000000004,43.300000000000004 0 0 1 98.39,59.15L98.53,60.14A42.300000000000004,42.300000000000004 0 0 0 96.95,60.40Z" fill="#F39B7F" />
<path d="M124.81,140.29A43.300000000000004,43.300000000000004 0 0 1 123.58,140.92L123.14,140.02A42.300000000000004,42.300000000000004 0 0 0 124.35,139.41Z" fill="#B09C85" />
<path d="M69.92,127.92A43.300000000000004,43.300000000000004 0 0 1 69.50,127.35L70.31,126.77A42.300000000000004,42.300000000000004 0 0 0 70.72,127.33Z" fill="#8491B4" />
<path d="M125.82,139.74A43.300000000000004,43.300000000000004 0 0 1 124.81,140.29L124.35,139.41A42.300000000000004,42.300000000000004 0 0 0 125.33,138.87Z" fill="#EC9585" />
<path d="M61.31,100.94A43.300000000000004,43.300000000000004 0 0 1 61.33,100.28L62.33,100.32A42.300000000000004,42.300000000000004 0 0 0 62.31,100.97Z" fill="#8491B4" />
<path d="M127.01,139.05A43.300000000000004,43.300000000000004 0 0 1 125.82,139.74L125.33,138.87A42.300000000000004,42.300000000000004 0 0 0 126.50,138.19Z" fill="#D9705E" />
<path d="M72.25,73.22A43.300000000000004,43.300000000000004 0 0 1 72.99,72.41L73.72,73.10A42.300000000000004,42.300000000000004 0 0 0 73.00,73.88Z" fill="#8491B4" />
<path d="M128.18,138.31A43.300000000000004,43.300000000000004 0 0 1 127.01,139.05L126.50,138.19A42.300000000000004,42.300000000000004 0 0 0 127.64,137.48Z" fill="#4DBBD5" />
<path d="M98.39,59.15A43.300000000000004,43.300000000000004 0 0 1 99.71,58.98L99.83,59.97A42.300000000000004,42.300000000000004 0 0 0 98.53,60.14Z" fill="#8491B4" />
<path d="M120.01,142.46A43.300000000000004,43.300000000000004 0 0 1 119.27,142.74L118.93,141.80A42.300000000000004,42.300000000000004 0 0 0 119.66,141.53Z" fill="#B09C85" />
<path d="M69.50,127.35A43.300000000000004,43.300000000000004 0 0 1 69.29,127.06L70.11,126.48A42.300000000000004,42.300000000000004 0 0 0 70.31,126.77Z" fill="#91D1C2" />
<path d="M120.75,142.18A43.300000000000004,43.300000000000004 0 0 1 120.01,142.46L119.66,141.53A42.300000000000004,42.300000000000004 0 0 0 120.38,141.25Z" fill="#EC9585" />
<path d="M61.33,100.28A43.300000000000004,43.300000000000004 0 0 1 61.36,99.70L62.36,99.75A42.300000000000004,42.300000000000004 0 0 0 62.33,100.32Z" fill="#91D1C2" />
<path d="M121.48,141.87A43.300000000000004,43.300000000000004 0 0 1 120.75,142.18L120.38,141.25A42.300000000000004,42.300000000000004 0 0 0 121.09,140.95Z" fill="#D9705E" />
<path d="M72.99,72.41A43.300000000000004,43.300000000000004 0 0 1 73.39,71.99L74.11,72.68A42.300000000000004,42.300000000000004 0 0 0 73.72,73.10Z" fill="#91D1C2" />
<path d="M122.21,141.56A43.300000000000004,43.300000000000004 0 0 1 121.48,141.87L121.09,140.95A42.300000000000004,42.300000000000004 0 0 0 121.80,140.64Z" fill="#4DBBD5" />
<path d="M99.71,58.98A43.300000000000004,43.300000000000004 0 0 1 100.30,58.91L100.40,59.91A42.300000000000004,42.300000000000004 0 0 0 99.83,59.97Z" fill="#91D1C2" />
<path d="M116.03,143.77A43.300000000000004,43.300000000000004 0 0 1 115.37,143.94L115.12,142.97A42.300000000000004,42.300000000000004 0 0 0 115.76,142.80Z" fill="#B09C85" />
<path d="M69.29,127.06A43.300000000000004,43.300000000000004 0 0 1 69.09,126.77L69.91,126.20A42.300000000000004,42.300000000000004 0 0 0 70.11,126.48Z" fill="#DC0000" />
<path d="M116.68,143.58A43.300000000000004,43.300000000000004 0 0 1 116.03,143.77L115.76,142.80A42.300000000000004,42.300000000000004 0 0 0 116.40,142.62Z" fill="#EC9585" />
<path d="M61.36,99.70A43.300000000000004,43.300000000000004 0 0 1 61.38,99.33L62.38,99.39A42.300000000000004,42.300000000000004 0 0 0 62.36,99.75Z" fill="#DC0000" />
<path d="M117.33,143.39A43.300000000000004,43.300000000000004 0 0 1 116.68,143.58L116.40,142.62A42.300000000000004,42.300000000000004 0 0 0 117.04,142.43Z" fill="#D9705E" />
<path d="M73.39,71.99A43.300000000000004,43.300000000000004 0 0 1 73.64,71.73L74.35,72.43A42.300000000000004,42.300000000000004 0 0 0 74.11,72.68Z" fill="#DC0000" />
<path d="M117.98,143.18A43.300000000000004,43.300000000000004 0 0 1 117.33,143.39L117.04,142.43A42.300000000000004,42.300000000000004 0 0 0 117.67,142.23Z" fill="#4DBBD5" />
<path d="M100.30,58.91A43.300000000000004,43.300000000000004 0 0 1 100.75,58.87L100.84,59.87A42.300000000000004,42.300000000000004 0 0 0 100.40,59.91Z" fill="#DC0000" />
<path d="M113.12,144.45A43.300000000000004,43.300000000000004 0 0 1 112.71,144.53L112.53,143.55A42.300000000000004,42.300000000000004 0 0 0 112.92,143.47Z" fill="#B09C85" />
<path d="M69.09,126.77A43.300000000000004,43.300000000000004 0 0 1 68.92,126.54L69.75,125.97A42.300000000000004,42.300000000000004 0 0 0 69.91,126.20Z" fill="#7E6148" />
<path d="M113.53,144.37A43.300000000000004,43.300000000000004 0 0 1 113.12,144.45L112.92,143.47A42.300000000000004,42.300000000000004 0 0 0 113.32,143.39Z" fill="#EC9585" />
<path d="M61.38,99.33A43.300000000000004,43.300000000000004 0 0 1 61.41,98.97L62.40,99.04A42.300000000000004,42.300000000000004 0 0 0 62.38,99.39Z" fill="#7E6148" />
<path d="M113.93,144.28A43.300000000000004,43.300000000000004 0 0 1 113.53,144.37L113.32,143.39A42.300000000000004,42.300000000000004 0 0 0 113.72,143.31Z" fill="#D9705E" />
<path d="M73.64,71.73A43.300000000000004,43.300000000000004 0 0 1 73.84,71.52L74.55,72.23A42.300000000000004,42.300000000000004 0 0 0 74.35,72.43Z" fill="#7E6148" />
<path d="M114.34,144.19A43.300000000000004,43.300000000000004 0 0 1 113.93,144.28L113.72,143.31A42.300000000000004,42.300000000000004 0 0 0 114.12,143.22Z" fill="#4DBBD5" />
<path d="M100.75,58.87A43.300000000000004,43.300000000000004 0 0 1 101.12,58.84L101.20,59.84A42.300000000000004,42.300000000000004 0 0 0 100.84,59.87Z" fill="#7E6148" />
<path d="M110.44,144.90A43.300000000000004,43.300000000000004 0 0 1 110.18,144.94L110.05,143.95A42.300000000000004,42.300000000000004 0 0 0 110.30,143.91Z" fill="#B09C85" />
<path d="M68.92,126.54A43.300000000000004,43.300000000000004 0 0 1 68.82,126.39L69.65,125.83A42.300000000000004,42.300000000000004 0 0 0 69.75,125.97Z" fill="#E64B35" />
<path d="M110.70,144.87A43.300000000000004,43.300000000000004 0 0 1 110.44,144.90L110.30,143.91A42.300000000000004,42.300000000000004 0 0 0 110.56,143.88Z" fill="#EC9585" />
<path d="M61.41,98.97A43.300000000000004,43.300000000000004 0 0 1 61.42,98.78L62.42,98.86A42.300000000000004,42.300000000000004 0 0 0 62.40,99.04Z" fill="#E64B35" />
<path d="M110.96,144.83A43.300000000000004,43.300000000000004 0 0 1 110.70,144.87L110.56,143.88A42.300000000000004,42.300000000000004 0 0 0 110.82,143.84Z" fill="#D9705E" />
<path d="M73.84,71.52A43.300000000000004,43.300000000000004 0 0 1 73.97,71.39L74.68,72.10A42.300000000000004,42.300000000000004 0 0 0 74.55,72.23Z" fill="#E64B35" />
<path d="M111.22,144.79A43.300000000000004,43.300000000000004 0 0 1 110.96,144.83L110.82,143.84A42.300000000000004,42.300000000000004 0 0 0 111.07,143.80Z" fill="#4DBBD5" />
<path d="M101.12,58.84A43.300000000000004,43.300000000000004 0 0 1 101.30,58.83L101.38,59.82A42.300000000000004,42.300000000000004 0 0 0 101.20,59.84Z" fill="#E64B35" />
<path d="M107.88,145.18A43.300000000000004,43.300000000000004 0 0 1 107.62,145.19L107.55,144.20A42.300000000000004,42.300000000000004 0 0 0 107.81,144.18Z" fill="#B09C85" />
<path d="M68.82,126.39A43.300000000000004,43.300000000000004 0 0 1 68.72,126.24L69.55,125.68A42.300000000000004,42.300000000000004 0 0 0 69.65,125.83Z" fill="#B09C85" />
<path d="M108.15,145.15A43.300000000000004,43.300000000000004 0 0 1 107.88,145.18L107.81,144.18A42.300000000000004,42.300000000000004 0 0 0 108.07,144.16Z" fill="#EC9585" />
<path d="M61.42,98.78A43.300000000000004,43.300000000000004 0 0 1 61.43,98.60L62.43,98.68A42.300000000000004,42.300000000000004 0 0 0 62.42,98.86Z" fill="#B09C85" />
<path d="M108.41,145.13A43.300000000000004,43.300000000000004 0 0 1 108.15,145.15L108.07,144.16A42.300000000000004,42.300000000000004 0 0 0 108.32,144.14Z" fill="#D9705E" />
<path d="M73.97,71.39A43.300000000000004,43.300000000000004 0 0 1 74.10,71.27L74.80,71.98A42.300000000000004,42.300000000000004 0 0 0 74.68,72.10Z" fill="#B09C85" />
<path d="M108.67,145.11A43.300000000000004,43.300000000000004 0 0 1 108.41,145.13L108.32,144.14A42.300000000000004,42.300000000000004 0 0 0 108.58,144.11Z" fill="#4DBBD5" />
<path d="M101.30,58.83A43.300000000000004,43.300000000000004 0 0 1 101.49,58.81L101.56,59.81A42.300000000000004,42.300000000000004 0 0 0 101.38,59.82Z" fill="#B09C85" />
<path d="M105.32,145.29A43.300000000000004,43.300000000000004 0 0 1 105.05,145.30L105.04,144.30A42.300000000000004,42.300000000000004 0 0 0 105.30,144.29Z" fill="#B09C85" />
<path d="M68.72,126.24A43.300000000000004,43.300000000000004 0 0 1 68.62,126.10L69.45,125.54A42.300000000000004,42.300000000000004 0 0 0 69.55,125.68Z" fill="#4DBBD5" />
<path d="M105.58,145.29A43.300000000000004,43.300000000000004 0 0 1 105.32,145.29L105.30,144.29A42.300000000000004,42.300000000000004 0 0 0 105.56,144.29Z" fill="#EC9585" />
<path d="M61.43,98.60A43.300000000000004,43.300000000000004 0 0 1 61.45,98.42L62.45,98.50A42.300000000000004,42.300000000000004 0 0 0 62.43,98.68Z" fill="#4DBBD5" />
<path d="M105.85,145.28A43.300000000000004,43.300000000000004 0 0 1 105.58,145.29L105.56,144.29A42.300000000000004,42.300000000000004 0 0 0 105.82,144.28Z" fill="#D9705E" />
<path d="M74.10,71.27A43.300000000000004,43.300000000000004 0 0 1 74.23,71.14L74.93,71.85A42.300000000000004,42.300000000000004 0 0 0 74.80,71.98Z" fill="#4DBBD5" />
<path d="M106.11,145.27A43.300000000000004,43.300000000000004 0 0 1 105.85,145.28L105.82,144.28A42.300000000000004,42.300000000000004 0 0 0 106.08,144.27Z" fill="#4DBBD5" />
<path d="M101.49,58.81A43.300000000000004,43.300000000000004 0 0 1 101.67,58.80L101.74,59.80A42.300000000000004,42.300000000000004 0 0 0 101.56,59.81Z" fill="#4DBBD5" />
<path d="M102.75,145.26A43.300000000000004,43.300000000000004 0 0 1 102.48,145.25L102.53,144.25A42.300000000000004,42.300000000000004 0 0 0 102.79,144.26Z" fill="#B09C85" />
<path d="M68.62,126.10A43.300000000000004,43.300000000000004 0 0 1 68.52,125.95L69.36,125.39A42.300000000000004,42.300000000000004 0 0 0 69.45,125.54Z" fill="#91D1C2" />
<path d="M103.01,145.27A43.300000000000004,43.300000000000004 0 0 1 102.75,145.26L102.79,144.26A42.300000000000004,42.300000000000004 0 0 0 103.05,144.27Z" fill="#EC9585" />
<path d="M61.45,98.42A43.300000000000004,43.300000000000004 0 0 1 61.46,98.23L62.46,98.32A42.300000000000004,42.300000000000004 0 0 0 62.45,98.50Z" fill="#91D1C2" />
<path d="M103.28,145.28A43.300000000000004,43.300000000000004 0 0 1 103.01,145.27L103.05,144.27A42.300000000000004,42.300000000000004 0 0 0 103.31,144.28Z" fill="#D9705E" />
<path d="M74.23,71.14A43.300000000000004,43.300000000000004 0 0 1 74.36,71.01L75.06,71.73A42.300000000000004,42.300000000000004 0 0 0 74.93,71.85Z" fill="#91D1C2" />
<path d="M103.54,145.29A43.300000000000004,43.300000000000004 0 0 1 103.28,145.28L103.31,144.28A42.300000000000004,42.300000000000004 0 0 0 103.57,144.29Z" fill="#4DBBD5" />
<path d="M101.67,58.80A43.300000000000004,43.300000000000004 0 0 1 101.86,58.79L101.92,59.78A42.300000000000004,42.300000000000004 0 0 0 101.74,59.80Z" fill="#91D1C2" />
<path d="M100.19,145.07A43.300000000000004,43.300000000000004 0 0 1 99.92,145.05L100.03,144.05A42.300000000000004,42.300000000000004 0 0 0 100.29,144.08Z" fill="#B09C85" />
<path d="M68.52,125.95A43.300000000000004,43.300000000000004 0 0 1 68.43,125.80L69.26,125.25A42.300000000000004,42.300000000000004 0 0 0 69.36,125.39Z" fill="#8491B4" />
<path d="M100.45,145.10A43.300000000000004,43.300000000000004 0 0 1 100.19,145.07L100.29,144.08A42.300000000000004,42.300000000000004 0 0 0 100.55,144.11Z" fill="#EC9585" />
<path d="M61.46,98.23A43.300000000000004,43.300000000000004 0 0 1 61.48,98.05L62.48,98.14A42.300000000000004,42.300000000000004 0 0 0 62.46,98.32Z" fill="#8491B4" />
<path d="M100.71,145.13A43.300000000000004,43.300000000000004 0 0 1 100.45,145.10L100.55,144.11A42.300000000000004,42.300000000000004 0 0 0 100.80,144.13Z" fill="#D9705E" />
<path d="M74.36,71.01A43.300000000000004,43.300000000000004 0 0 1 74.49,70.88L75.18,71.60A42.300000000000004,42.300000000000004 0 0 0 75.06,71.73Z" fill="#8491B4" />
<path d="M100.98,145.15A43.300000000000004,43.300000000000004 0 0 1 100.71,145.13L100.80,144.13A42.300000000000004,42.300000000000004 0 0 0 101.06,144.15Z" fill="#4DBBD5" />
<path d="M101.86,58.79A43.300000000000004,43.300000000000004 0 0 1 102.04,58.78L102.10,59.77A42.300000000000004,42.300000000000004 0 0 0 101.92,59.78Z" fill="#8491B4" />
<path d="M97.64,144.74A43.300000000000004,43.300000000000004 0 0 1 97.38,144.69L97.55,143.71A42.300000000000004,42.300000000000004 0 0 0 97.80,143.75Z" fill="#B09C85" />
<path d="M68.43,125.80A43.300000000000004,43.300000000000004 0 0 1 68.33,125.65L69.17,125.10A42.300000000000004,42.300000000000004 0 0 0 69.26,125.25Z" fill="#F39B7F" />
<path d="M97.90,144.78A43.300000000000004,43.300000000000004 0 0 1 97.64,144.74L97.80,143.75A42.300000000000004,42.300000000000004 0 0 0 98.06,143.79Z" fill="#EC9585" />
<path d="M61.48,98.05A43.300000000000004,43.300000000000004 0 0 1 61.50,97.87L62.49,97.97A42.300000000000004,42.300000000000004 0 0 0 62.48,98.14Z" fill="#F39B7F" />
<path d="M98.16,144.82A43.300000000000004,43.300000000000004 0 0 1 97.90,144.78L98.06,143.79A42.300000000000004,42.300000000000004 0 0 0 98.31,143.83Z" fill="#D9705E" />
<path d="M74.49,70.88A43.300000000000004,43.300000000000004 0 0 1 74.62,70.76L75.31,71.48A42.300000000000004,42.300000000000004 0 0 0 75.18,71.60Z" fill="#F39B7F" />
<path d="M98.42,144.86A43.300000000000004,43.300000000000004 0 0 1 98.16,144.82L98.31,143.83A42.300000000000004,42.300000000000004 0 0 0 98.57,143.87Z" fill="#4DBBD5" />
<path d="M102.04,58.78A43.300000000000004,43.300000000000004 0 0 1 102.23,58.76L102.28,59.76A42.300000000000004,42.300000000000004 0 0 0 102.10,59.77Z" fill="#F39B7F" />
<path d="M95.19,144.27A43.300000000000004,43.300000000000004 0 0 1 94.93,144.21L95.16,143.23A42.300000000000004,42.300000000000004 0 0 0 95.41,143.29Z" fill="#B09C85" />
<path d="M68.33,125.65A43.300000000000004,43.300000000000004 0 0 1 68.23,125.50L69.07,124.96A42.300000000000004,42.300000000000004 0 0 0 69.17,125.10Z" fill="#4DBBD5" />
<path d="M95.45,144.32A43.300000000000004,43.300000000000004 0 0 1 95.19,144.27L95.41,143.29A42.300000000000004,42.300000000000004 0 0 0 95.66,143.34Z" fill="#EC9585" />
<path d="M61.50,97.87A43.300000000000004,43.300000000000004 0 0 1 61.52,97.69L62.51,97.79A42.300000000000004,42.300000000000004 0 0 0 62.49,97.97Z" fill="#4DBBD5" />
<path d="M95.71,144.38A43.300000000000004,43.300000000000004 0 0 1 95.45,144.32L95.66,143.34A42.300000000000004,42.300000000000004 0 0 0 95.91,143.40Z" fill="#D9705E" />
<path d="M74.62,70.76A43.300000000000004,43.300000000000004 0 0 1 74.75,70.63L75.44,71.36A42.300000000000004,42.300000000000004 0 0 0 75.31,71.48Z" fill="#4DBBD5" />
<path d="M95.97,144.43A43.300000000000004,43.300000000000004 0 0 1 95.71,144.38L95.91,143.40A42.300000000000004,42.300000000000004 0 0 0 96.17,143.45Z" fill="#4DBBD5" />
<path d="M102.23,58.76A43.300000000000004,43.300000000000004 0 0 1 102.42,58.76L102.47,59.75A42.300000000000004,42.300000000000004 0 0 0 102.28,59.76Z" fill="#4DBBD5" />
<path d="M92.92,143.69A43.300000000000004,43.300000000000004 0 0 1 92.66,143.62L92.94,142.66A42.300000000000004,42.300000000000004 0 0 0 93.19,142.73Z" fill="#B09C85" />
<path d="M68.23,125.50A43.300000000000004,43.300000000000004 0 0 1 68.14,125.35L68.98,124.81A42.300000000000004,42.300000000000004 0 0 0 69.07,124.96Z" fill="#E64B35" />
<path d="M93.17,143.77A43.300000000000004,43.300000000000004 0 0 1 92.92,143.69L93.19,142.73A42.300000000000004,42.300000000000004 0 0 0 93.44,142.80Z" fill="#EC9585" />
<path d="M61.52,97.69A43.300000000000004,43.300000000000004 0 0 1 61.53,97.51L62.53,97.61A42.300000000000004,42.300000000000004 0 0 0 62.51,97.79Z" fill="#E64B35" />
<path d="M93.43,143.83A43.300000000000004,43.300000000000004 0 0 1 93.17,143.77L93.44,142.80A42.300000000000004,42.300000000000004 0 0 0 93.69,142.87Z" fill="#D9705E" />
<path d="M74.75,70.63A43.300000000000004,43.300000000000004 0 0 1 74.88,70.51L75.57,71.24A42.300000000000004,42.300000000000004 0 0 0 75.44,71.36Z" fill="#E64B35" />
<path d="M93.69,143.90A43.300000000000004,43.300000000000004 0 0 1 93.43,143.83L93.69,142.87A42.300000000000004,42.300000000000004 0 0 0 93.94,142.93Z" fill="#4DBBD5" />
<path d="M102.42,58.76A43.300000000000004,43.300000000000004 0 0 1 102.60,58.75L102.65,59.75A42.300000000000004,42.300000000000004 0 0 0 102.47,59.75Z" fill="#E64B35" />
<path d="M90.90,143.07A43.300000000000004,43.300000000000004 0 0 1 90.65,142.99L90.97,142.04A42.300000000000004,42.300000000000004 0 0 0 91.21,142.13Z" fill="#B09C85" />
<path d="M68.14,125.35A43.300000000000004,43.300000000000004 0 0 1 68.04,125.20L68.88,124.67A42.300000000000004,42.300000000000004 0 0 0 68.98,124.81Z" fill="#F39B7F" />
<path d="M91.15,143.16A43.300000000000004,43.300000000000004 0 0 1 90.90,143.07L91.21,142.13A42.300000000000004,42.300000000000004 0 0 0 91.46,142.21Z" fill="#EC9585" />
<path d="M61.53,97.51A43.300000000000004,43.300000000000004 0 0 1 61.55,97.32L62.55,97.43A42.300000000000004,42.300000000000004 0 0 0 62.53,97.61Z" fill="#F39B7F" />
<path d="M91.40,143.24A43.300000000000004,43.300000000000004 0 0 1 91.15,143.16L91.46,142.21A42.300000000000004,42.300000000000004 0 0 0 91.70,142.29Z" fill="#D9705E" />
<path d="M74.88,70.51A43.300000000000004,43.300000000000004 0 0 1 75.01,70.38L75.70,71.11A42.300000000000004,42.300000000000004 0 0 0 75.57,71.24Z" fill="#F39B7F" />
<path d="M91.65,143.32A43.300000000000004,43.300000000000004 0 0 1 91.40,143.24L91.70,142.29A42.300000000000004,42.300000000000004 0 0 0 91.95,142.36Z" fill="#4DBBD5" />
<path d="M102.60,58.75A43.300000000000004,43.300000000000004 0 0 1 102.79,58.74L102.83,59.74A42.300000000000004,42.300000000000004 0 0 0 102.65,59.75Z" fill="#F39B7F" />
<path d="M105.09,55.00A47.0,47.0 0 0 1 139.53,70.55L137.00,72.83A43.6,43.6 0 0 0 105.06,58.40Z" fill="#E64B35" />
<path d="M140.71,71.91A47.0,47.0 0 0 1 151.49,105.20L148.10,104.97A43.6,43.6 0 0 0 138.10,74.09Z" fill="#4DBBD5" />
<path d="M151.31,107.24A47.0,47.0 0 0 1 148.02,119.99L144.88,118.68A43.6,43.6 0 0 0 147.93,106.86Z" fill="#00A087" />
<path d="M146.48,123.34A47.0,47.0 0 0 1 140.13,132.77L137.56,130.55A43.6,43.6 0 0 0 143.45,121.79Z" fill="#3C5488" />
<path d="M138.81,134.23A47.0,47.0 0 0 1 131.29,140.69L129.36,137.89A43.6,43.6 0 0 0 136.33,131.90Z" fill="#F39B7F" />
<path d="M130.20,141.42A47.0,47.0 0 0 1 125.20,144.24L123.71,141.19A43.6,43.6 0 0 0 128.35,138.57Z" fill="#8491B4" />
<path d="M123.72,144.94A47.0,47.0 0 0 1 120.52,146.22L119.37,143.02A43.6,43.6 0 0 0 122.33,141.83Z" fill="#91D1C2" />
<path d="M119.12,146.70A47.0,47.0 0 0 1 116.29,147.52L115.44,144.23A43.6,43.6 0 0 0 118.07,143.47Z" fill="#DC0000" />
<path d="M115.17,147.80A47.0,47.0 0 0 1 113.41,148.17L112.77,144.83A43.6,43.6 0 0 0 114.41,144.48Z" fill="#7E6148" />
<path d="M111.79,148.45A47.0,47.0 0 0 1 110.65,148.61L110.22,145.24A43.6,43.6 0 0 0 111.27,145.09Z" fill="#E64B35" />
<path d="M109.02,148.79A47.0,47.0 0 0 1 107.88,148.89L107.64,145.49A43.6,43.6 0 0 0 108.70,145.41Z" fill="#B09C85" />
<path d="M106.24,148.97A47.0,47.0 0 0 1 105.09,149.00L105.06,145.60A43.6,43.6 0 0 0 106.12,145.57Z" fill="#4DBBD5" />
<path d="M103.45,148.99A47.0,47.0 0 0 1 102.30,148.94L102.47,145.55A43.6,43.6 0 0 0 103.53,145.59Z" fill="#91D1C2" />
<path d="M100.67,148.84A47.0,47.0 0 0 1 99.52,148.73L99.89,145.34A43.6,43.6 0 0 0 100.95,145.45Z" fill="#8491B4" />
<path d="M97.90,148.52A47.0,47.0 0 0 1 96.76,148.34L97.33,144.99A43.6,43.6 0 0 0 98.38,145.15Z" fill="#F39B7F" />
<path d="M95.23,148.06A47.0,47.0 0 0 1 94.11,147.81L94.87,144.50A43.6,43.6 0 0 0 95.91,144.72Z" fill="#4DBBD5" />
<path d="M92.75,147.48A47.0,47.0 0 0 1 91.65,147.18L92.58,143.91A43.6,43.6 0 0 0 93.61,144.19Z" fill="#E64B35" />
<path d="M90.55,146.85A47.0,47.0 0 0 1 89.45,146.49L90.55,143.27A43.6,43.6 0 0 0 91.56,143.60Z" fill="#F39B7F" />
<path d="M88.60,146.19A47.0,47.0 0 0 1 64.92,127.18L67.79,125.36A43.6,43.6 0 0 0 89.76,143.00Z" fill="#B09C85" />
<path d="M63.98,125.64A47.0,47.0 0 0 1 57.87,96.92L61.26,97.29A43.6,43.6 0 0 0 66.92,123.93Z" fill="#EC9585" />
<path d="M58.13,94.97A47.0,47.0 0 0 1 72.49,67.68L74.81,70.16A43.6,43.6 0 0 0 61.49,95.48Z" fill="#D9705E" />
<path d="M73.95,66.37A47.0,47.0 0 0 1 102.63,55.04L102.77,58.44A43.6,43.6 0 0 0 76.17,68.95Z" fill="#4DBBD5" />
<path d="M105.25,40.00A62.0,62.0 0 0 1 119.08,41.72L118.20,45.41A58.2,58.2 0 0 0 105.21,43.80Z" fill="#B09C85" />
<path d="M142.96,53.29A62.0,62.0 0 0 1 150.67,60.51L147.85,63.06A58.2,58.2 0 0 0 140.61,56.27Z" fill="#EC9585" />
<path d="M119.08,41.72A62.0,62.0 0 0 1 131.69,46.23L130.03,49.65A58.2,58.2 0 0 0 118.20,45.41Z" fill="#D9705E" />
<path d="M131.69,46.23A62.0,62.0 0 0 1 142.96,53.29L140.61,56.27A58.2,58.2 0 0 0 130.03,49.65Z" fill="#4DBBD5" />
<path d="M166.36,96.55A62.0,62.0 0 0 1 166.46,106.22L162.67,105.96A58.2,58.2 0 0 0 162.58,96.89Z" fill="#B09C85" />
<path d="M152.23,62.31A62.0,62.0 0 0 1 160.56,75.31L157.13,76.95A58.2,58.2 0 0 0 149.31,64.75Z" fill="#EC9585" />
<path d="M164.63,86.50A62.0,62.0 0 0 1 166.36,96.55L162.58,96.89A58.2,58.2 0 0 0 160.95,87.45Z" fill="#D9705E" />
<path d="M160.56,75.31A62.0,62.0 0 0 1 164.63,86.50L160.95,87.45A58.2,58.2 0 0 0 157.13,76.95Z" fill="#4DBBD5" />
<path d="M166.21,108.91A62.0,62.0 0 0 1 165.69,112.61L161.94,111.96A58.2,58.2 0 0 0 162.44,108.49Z" fill="#B09C85" />
<path d="M165.69,112.61A62.0,62.0 0 0 1 164.77,116.97L161.08,116.05A58.2,58.2 0 0 0 161.94,111.96Z" fill="#EC9585" />
<path d="M164.77,116.97A62.0,62.0 0 0 1 163.50,121.35L159.89,120.17A58.2,58.2 0 0 0 161.08,116.05Z" fill="#D9705E" />
<path d="M163.50,121.35A62.0,62.0 0 0 1 161.88,125.73L158.37,124.27A58.2,58.2 0 0 0 159.89,120.17Z" fill="#4DBBD5" />
<path d="M153.44,140.19A62.0,62.0 0 0 1 151.46,142.59L148.59,140.11A58.2,58.2 0 0 0 150.45,137.85Z" fill="#B09C85" />
<path d="M155.59,137.27A62.0,62.0 0 0 1 153.44,140.19L150.45,137.85A58.2,58.2 0 0 0 152.47,135.11Z" fill="#EC9585" />
<path d="M157.84,133.78A62.0,62.0 0 0 1 155.59,137.27L152.47,135.11A58.2,58.2 0 0 0 154.57,131.83Z" fill="#D9705E" />
<path d="M159.84,130.15A62.0,62.0 0 0 1 157.84,133.78L154.57,131.83A58.2,58.2 0 0 0 156.46,128.42Z" fill="#4DBBD5" />
<path d="M142.52,151.05A62.0,62.0 0 0 1 139.81,153.03L137.65,149.91A58.2,58.2 0 0 0 140.20,148.04Z" fill="#B09C85" />
<path d="M145.41,148.67A62.0,62.0 0 0 1 142.52,151.05L140.20,148.04A58.2,58.2 0 0 0 142.91,145.81Z" fill="#EC9585" />
<path d="M147.62,146.65A62.0,62.0 0 0 1 145.41,148.67L142.91,145.81A58.2,58.2 0 0 0 144.98,143.91Z" fill="#D9705E" />
<path d="M149.72,144.52A62.0,62.0 0 0 1 147.62,146.65L144.98,143.91A58.2,58.2 0 0 0 146.96,141.91Z" fill="#4DBBD5" />
<path d="M133.54,156.83A62.0,62.0 0 0 1 131.78,157.73L130.11,154.31A58.2,58.2 0 0 0 131.77,153.47Z" fill="#B09C85" />
<path d="M134.99,156.04A62.0,62.0 0 0 1 133.54,156.83L131.77,153.47A58.2,58.2 0 0 0 133.12,152.73Z" fill="#EC9585" />
<path d="M136.69,155.05A62.0,62.0 0 0 1 134.99,156.04L133.12,152.73A58.2,58.2 0 0 0 134.73,151.80Z" fill="#D9705E" />
<path d="M138.37,154.00A62.0,62.0 0 0 1 136.69,155.05L134.73,151.80A58.2,58.2 0 0 0 136.30,150.81Z" fill="#4DBBD5" />
<path d="M126.67,159.94A62.0,62.0 0 0 1 125.60,160.33L124.31,156.76A58.2,58.2 0 0 0 125.31,156.39Z" fill="#B09C85" />
<path d="M127.73,159.53A62.0,62.0 0 0 1 126.67,159.94L125.31,156.39A58.2,58.2 0 0 0 126.31,156.00Z" fill="#EC9585" />
<path d="M128.78,159.09A62.0,62.0 0 0 1 127.73,159.53L126.31,156.00A58.2,58.2 0 0 0 127.29,155.59Z" fill="#D9705E" />
<path d="M129.82,158.64A62.0,62.0 0 0 1 128.78,159.09L127.29,155.59A58.2,58.2 0 0 0 128.27,155.17Z" fill="#4DBBD5" />
<path d="M120.96,161.80A62.0,62.0 0 0 1 120.02,162.05L119.07,158.37A58.2,58.2 0 0 0 119.96,158.14Z" fill="#B09C85" />
<path d="M121.90,161.54A62.0,62.0 0 0 1 120.96,161.80L119.96,158.14A58.2,58.2 0 0 0 120.84,157.89Z" fill="#EC9585" />
<path d="M122.83,161.26A62.0,62.0 0 0 1 121.90,161.54L120.84,157.89A58.2,58.2 0 0 0 121.71,157.63Z" fill="#D9705E" />
<path d="M123.76,160.97A62.0,62.0 0 0 1 122.83,161.26L121.71,157.63A58.2,58.2 0 0 0 122.58,157.35Z" fill="#4DBBD5" />
<path d="M116.80,162.79A62.0,62.0 0 0 1 116.22,162.90L115.51,159.17A58.2,58.2 0 0 0 116.05,159.06Z" fill="#B09C85" />
<path d="M117.38,162.67A62.0,62.0 0 0 1 116.80,162.79L116.05,159.06A58.2,58.2 0 0 0 116.60,158.95Z" fill="#EC9585" />
<path d="M117.97,162.54A62.0,62.0 0 0 1 117.38,162.67L116.60,158.95A58.2,58.2 0 0 0 117.15,158.83Z" fill="#D9705E" />
<path d="M118.55,162.41A62.0,62.0 0 0 1 117.97,162.54L117.15,158.83A58.2,58.2 0 0 0 117.69,158.71Z" fill="#4DBBD5" />
<path d="M112.96,163.43A62.0,62.0 0 0 1 112.59,163.48L112.10,159.72A58.2,58.2 0 0 0 112.45,159.67Z" fill="#B09C85" />
<path d="M113.34,163.38A62.0,62.0 0 0 1 112.96,163.43L112.45,159.67A58.2,58.2 0 0 0 112.80,159.62Z" fill="#EC9585" />
<path d="M113.71,163.33A62.0,62.0 0 0 1 113.34,163.38L112.80,159.62A58.2,58.2 0 0 0 113.15,159.57Z" fill="#D9705E" />
<path d="M114.09,163.27A62.0,62.0 0 0 1 113.71,163.33L113.15,159.57A58.2,58.2 0 0 0 113.50,159.51Z" fill="#4DBBD5" />
<path d="M109.30,163.82A62.0,62.0 0 0 1 108.92,163.85L108.66,160.06A58.2,58.2 0 0 0 109.01,160.03Z" fill="#B09C85" />
<path d="M109.68,163.79A62.0,62.0 0 0 1 109.30,163.82L109.01,160.03A58.2,58.2 0 0 0 109.37,160.00Z" fill="#EC9585" />
<path d="M110.06,163.76A62.0,62.0 0 0 1 109.68,163.79L109.37,160.00A58.2,58.2 0 0 0 109.72,159.97Z" fill="#D9705E" />
<path d="M110.43,163.72A62.0,62.0 0 0 1 110.06,163.76L109.72,159.97A58.2,58.2 0 0 0 110.08,159.94Z" fill="#4DBBD5" />
<path d="M105.63,163.99A62.0,62.0 0 0 1 105.25,164.00L105.21,160.20A58.2,58.2 0 0 0 105.56,160.19Z" fill="#B09C85" />
<path d="M106.01,163.98A62.0,62.0 0 0 1 105.63,163.99L105.56,160.19A58.2,58.2 0 0 0 105.92,160.19Z" fill="#EC9585" />
<path d="M106.39,163.97A62.0,62.0 0 0 1 106.01,163.98L105.92,160.19A58.2,58.2 0 0 0 106.28,160.18Z" fill="#D9705E" />
<path d="M106.76,163.96A62.0,62.0 0 0 1 106.39,163.97L106.28,160.18A58.2,58.2 0 0 0 106.63,160.16Z" fill="#4DBBD5" />
<path d="M101.95,163.94A62.0,62.0 0 0 1 101.57,163.93L101.76,160.13A58.2,58.2 0 0 0 102.11,160.15Z" fill="#B09C85" />
<path d="M102.33,163.96A62.0,62.0 0 0 1 101.95,163.94L102.11,160.15A58.2,58.2 0 0 0 102.47,160.16Z" fill="#EC9585" />
<path d="M102.71,163.97A62.0,62.0 0 0 1 102.33,163.96L102.47,160.16A58.2,58.2 0 0 0 102.82,160.17Z" fill="#D9705E" />
<path d="M103.09,163.98A62.0,62.0 0 0 1 102.71,163.97L102.82,160.17A58.2,58.2 0 0 0 103.18,160.18Z" fill="#4DBBD5" />
<path d="M98.28,163.68A62.0,62.0 0 0 1 97.90,163.64L98.31,159.86A58.2,58.2 0 0 0 98.67,159.90Z" fill="#B09C85" />
<path d="M98.66,163.71A62.0,62.0 0 0 1 98.28,163.68L98.67,159.90A58.2,58.2 0 0 0 99.02,159.93Z" fill="#EC9585" />
<path d="M99.03,163.75A62.0,62.0 0 0 1 98.66,163.71L99.02,159.93A58.2,58.2 0 0 0 99.38,159.97Z" fill="#D9705E" />
<path d="M99.41,163.78A62.0,62.0 0 0 1 99.03,163.75L99.38,159.97A58.2,58.2 0 0 0 99.73,160.00Z" fill="#4DBBD5" />
<path d="M94.63,163.19A62.0,62.0 0 0 1 94.26,163.13L94.89,159.38A58.2,58.2 0 0 0 95.24,159.44Z" fill="#B09C85" />
<path d="M95.01,163.25A62.0,62.0 0 0 1 94.63,163.19L95.24,159.44A58.2,58.2 0 0 0 95.60,159.50Z" fill="#EC9585" />
<path d="M95.38,163.31A62.0,62.0 0 0 1 95.01,163.25L95.60,159.50A58.2,58.2 0 0 0 95.95,159.55Z" fill="#D9705E" />
<path d="M95.76,163.37A62.0,62.0 0 0 1 95.38,163.31L95.95,159.55A58.2,58.2 0 0 0 96.30,159.60Z" fill="#4DBBD5" />
<path d="M91.13,162.52A62.0,62.0 0 0 1 90.76,162.44L91.61,158.73A58.2,58.2 0 0 0 91.95,158.81Z" fill="#B09C85" />
<path d="M91.50,162.60A62.0,62.0 0 0 1 91.13,162.52L91.95,158.81A58.2,58.2 0 0 0 92.30,158.89Z" fill="#EC9585" />
<path d="M91.87,162.68A62.0,62.0 0 0 1 91.50,162.60L92.30,158.89A58.2,58.2 0 0 0 92.65,158.96Z" fill="#D9705E" />
<path d="M92.24,162.76A62.0,62.0 0 0 1 91.87,162.68L92.65,158.96A58.2,58.2 0 0 0 93.00,159.03Z" fill="#4DBBD5" />
<path d="M87.87,161.70A62.0,62.0 0 0 1 87.51,161.60L88.56,157.95A58.2,58.2 0 0 0 88.90,158.04Z" fill="#B09C85" />
<path d="M88.24,161.80A62.0,62.0 0 0 1 87.87,161.70L88.90,158.04A58.2,58.2 0 0 0 89.24,158.14Z" fill="#EC9585" />
<path d="M88.61,161.90A62.0,62.0 0 0 1 88.24,161.80L89.24,158.14A58.2,58.2 0 0 0 89.59,158.23Z" fill="#D9705E" />
<path d="M88.97,162.00A62.0,62.0 0 0 1 88.61,161.90L89.59,158.23A58.2,58.2 0 0 0 89.93,158.32Z" fill="#4DBBD5" />
<path d="M84.98,160.81A62.0,62.0 0 0 1 84.62,160.69L85.84,157.09A58.2,58.2 0 0 0 86.18,157.21Z" fill="#B09C85" />
<path d="M85.34,160.93A62.0,62.0 0 0 1 84.98,160.81L86.18,157.21A58.2,58.2 0 0 0 86.52,157.32Z" fill="#EC9585" />
<path d="M85.70,161.05A62.0,62.0 0 0 1 85.34,160.93L86.52,157.32A58.2,58.2 0 0 0 86.86,157.43Z" fill="#D9705E" />
<path d="M86.06,161.16A62.0,62.0 0 0 1 85.70,161.05L86.86,157.43A58.2,58.2 0 0 0 87.20,157.54Z" fill="#4DBBD5" />
<path d="M83.50,160.30A62.0,62.0 0 0 1 70.08,153.50L72.20,150.35A58.2,58.2 0 0 0 84.79,156.72Z" fill="#E64B35" />
<path d="M70.08,153.50A62.0,62.0 0 0 1 62.12,147.16L64.73,144.39A58.2,58.2 0 0 0 72.20,150.35Z" fill="#4DBBD5" />
<path d="M62.12,147.16A62.0,62.0 0 0 1 58.77,143.75L61.57,141.19A58.2,58.2 0 0 0 64.73,144.39Z" fill="#00A087" />
<path d="M58.77,143.75A62.0,62.0 0 0 1 56.76,141.44L59.70,139.03A58.2,58.2 0 0 0 61.57,141.19Z" fill="#3C5488" />
<path d="M56.76,141.44A62.0,62.0 0 0 1 54.94,139.12L57.98,136.84A58.2,58.2 0 0 0 59.70,139.03Z" fill="#F39B7F" />
<path d="M54.94,139.12A62.0,62.0 0 0 1 54.34,138.30L57.42,136.07A58.2,58.2 0 0 0 57.98,136.84Z" fill="#8491B4" />
<path d="M54.34,138.30A62.0,62.0 0 0 1 54.04,137.88L57.14,135.69A58.2,58.2 0 0 0 57.42,136.07Z" fill="#91D1C2" />
<path d="M54.04,137.88A62.0,62.0 0 0 1 53.75,137.47L56.86,135.29A58.2,58.2 0 0 0 57.14,135.69Z" fill="#DC0000" />
<path d="M53.75,137.47A62.0,62.0 0 0 1 53.52,137.13L56.65,134.98A58.2,58.2 0 0 0 56.86,135.29Z" fill="#7E6148" />
<path d="M53.52,137.13A62.0,62.0 0 0 1 53.37,136.92L56.51,134.78A58.2,58.2 0 0 0 56.65,134.98Z" fill="#F2C4BB" />
<path d="M53.37,136.92A62.0,62.0 0 0 1 53.23,136.71L56.38,134.58A58.2,58.2 0 0 0 56.51,134.78Z" fill="#F0C8BE" />
<path d="M53.23,136.71A62.0,62.0 0 0 1 53.09,136.50L56.24,134.39A58.2,58.2 0 0 0 56.38,134.58Z" fill="#BFE3EC" />
<path d="M53.09,136.50A62.0,62.0 0 0 1 52.94,136.29L56.11,134.19A58.2,58.2 0 0 0 56.24,134.39Z" fill="#C9E8EF" />
<path d="M52.94,136.29A62.0,62.0 0 0 1 52.80,136.08L55.98,133.99A58.2,58.2 0 0 0 56.11,134.19Z" fill="#D9C9D6" />
<path d="M52.80,136.08A62.0,62.0 0 0 1 52.66,135.86L55.85,133.79A58.2,58.2 0 0 0 55.98,133.99Z" fill="#F2C9C0" />
<path d="M52.66,135.86A62.0,62.0 0 0 1 52.53,135.65L55.72,133.59A58.2,58.2 0 0 0 55.85,133.79Z" fill="#C4E4EC" />
<path d="M52.53,135.65A62.0,62.0 0 0 1 52.39,135.44L55.59,133.39A58.2,58.2 0 0 0 55.72,133.59Z" fill="#EFC7BD" />
<path d="M52.39,135.44A62.0,62.0 0 0 1 52.25,135.22L55.46,133.19A58.2,58.2 0 0 0 55.59,133.39Z" fill="#F4CFC4" />
<path d="M45.93,122.04A62.0,62.0 0 0 1 43.34,111.56L47.10,110.98A58.2,58.2 0 0 0 49.52,120.81Z" fill="#E64B35" />
<path d="M51.01,133.19A62.0,62.0 0 0 1 45.93,122.04L49.52,120.81A58.2,58.2 0 0 0 54.30,131.28Z" fill="#4DBBD5" />
<path d="M43.34,111.56A62.0,62.0 0 0 1 42.80,106.98L46.59,106.68A58.2,58.2 0 0 0 47.10,110.98Z" fill="#00A087" />
<path d="M42.80,106.98A62.0,62.0 0 0 1 42.61,103.32L46.41,103.23A58.2,58.2 0 0 0 46.59,106.68Z" fill="#3C5488" />
<path d="M42.61,103.32A62.0,62.0 0 0 1 42.62,100.48L46.42,100.58A58.2,58.2 0 0 0 46.41,103.23Z" fill="#F39B7F" />
<path d="M42.62,100.48A62.0,62.0 0 0 1 42.65,99.54L46.45,99.69A58.2,58.2 0 0 0 46.42,100.58Z" fill="#8491B4" />
<path d="M42.65,99.54A62.0,62.0 0 0 1 42.69,98.70L46.48,98.90A58.2,58.2 0 0 0 46.45,99.69Z" fill="#91D1C2" />
<path d="M42.69,98.70A62.0,62.0 0 0 1 42.72,98.18L46.51,98.41A58.2,58.2 0 0 0 46.48,98.90Z" fill="#DC0000" />
<path d="M42.72,98.18A62.0,62.0 0 0 1 42.75,97.65L46.54,97.92A58.2,58.2 0 0 0 46.51,98.41Z" fill="#7E6148" />
<path d="M42.75,97.65A62.0,62.0 0 0 1 42.77,97.39L46.56,97.68A58.2,58.2 0 0 0 46.54,97.92Z" fill="#F2C4BB" />
<path d="M42.77,97.39A62.0,62.0 0 0 1 42.79,97.13L46.58,97.43A58.2,58.2 0 0 0 46.56,97.68Z" fill="#F0C8BE" />
<path d="M42.79,97.13A62.0,62.0 0 0 1 42.81,96.87L46.60,97.18A58.2,58.2 0 0 0 46.58,97.43Z" fill="#BFE3EC" />
<path d="M42.81,96.87A62.0,62.0 0 0 1 42.83,96.61L46.62,96.94A58.2,58.2 0 0 0 46.60,97.18Z" fill="#C9E8EF" />
<path d="M42.83,96.61A62.0,62.0 0 0 1 42.86,96.35L46.64,96.69A58.2,58.2 0 0 0 46.62,96.94Z" fill="#D9C9D6" />
<path d="M42.86,96.35A62.0,62.0 0 0 1 42.88,96.09L46.67,96.45A58.2,58.2 0 0 0 46.64,96.69Z" fill="#F2C9C0" />
<path d="M42.88,96.09A62.0,62.0 0 0 1 42.91,95.83L46.69,96.20A58.2,58.2 0 0 0 46.67,96.45Z" fill="#C4E4EC" />
<path d="M42.91,95.83A62.0,62.0 0 0 1 42.93,95.56L46.71,95.96A58.2,58.2 0 0 0 46.69,96.20Z" fill="#EFC7BD" />
<path d="M42.93,95.56A62.0,62.0 0 0 1 42.96,95.30L46.74,95.71A58.2,58.2 0 0 0 46.71,95.96Z" fill="#F4CFC4" />
<path d="M43.30,92.73A62.0,62.0 0 0 1 46.98,79.10L50.51,80.51A58.2,58.2 0 0 0 47.05,93.30Z" fill="#E64B35" />
<path d="M46.98,79.10A62.0,62.0 0 0 1 51.83,69.45L55.06,71.45A58.2,58.2 0 0 0 50.51,80.51Z" fill="#4DBBD5" />
<path d="M51.83,69.45A62.0,62.0 0 0 1 54.01,66.16L57.11,68.35A58.2,58.2 0 0 0 55.06,71.45Z" fill="#00A087" />
<path d="M54.01,66.16A62.0,62.0 0 0 1 57.12,62.12L60.03,64.57A58.2,58.2 0 0 0 57.11,68.35Z" fill="#3C5488" />
<path d="M57.12,62.12A62.0,62.0 0 0 1 58.28,60.79L61.12,63.31A58.2,58.2 0 0 0 60.03,64.57Z" fill="#F39B7F" />
<path d="M58.28,60.79A62.0,62.0 0 0 1 59.33,59.63L62.11,62.23A58.2,58.2 0 0 0 61.12,63.31Z" fill="#8491B4" />
<path d="M59.33,59.63A62.0,62.0 0 0 1 59.91,59.03L62.64,61.66A58.2,58.2 0 0 0 62.11,62.23Z" fill="#91D1C2" />
<path d="M59.91,59.03A62.0,62.0 0 0 1 60.27,58.66L62.98,61.31A58.2,58.2 0 0 0 62.64,61.66Z" fill="#DC0000" />
<path d="M60.27,58.66A62.0,62.0 0 0 1 60.56,58.36L63.26,61.04A58.2,58.2 0 0 0 62.98,61.31Z" fill="#7E6148" />
<path d="M60.56,58.36A62.0,62.0 0 0 1 60.74,58.18L63.43,60.86A58.2,58.2 0 0 0 63.26,61.04Z" fill="#F2C4BB" />
<path d="M60.74,58.18A62.0,62.0 0 0 1 60.93,57.99L63.60,60.69A58.2,58.2 0 0 0 63.43,60.86Z" fill="#F0C8BE" />
<path d="M60.93,57.99A62.0,62.0 0 0 1 61.11,57.81L63.78,60.52A58.2,58.2 0 0 0 63.60,60.69Z" fill="#BFE3EC" />
<path d="M61.11,57.81A62.0,62.0 0 0 1 61.30,57.63L63.95,60.35A58.2,58.2 0 0 0 63.78,60.52Z" fill="#C9E8EF" />
<path d="M61.30,57.63A62.0,62.0 0 0 1 61.48,57.45L64.13,60.18A58.2,58.2 0 0 0 63.95,60.35Z" fill="#D9C9D6" />
<path d="M61.48,57.45A62.0,62.0 0 0 1 61.67,57.27L64.30,60.01A58.2,58.2 0 0 0 64.13,60.18Z" fill="#F2C9C0" />
<path d="M61.67,57.27A62.0,62.0 0 0 1 61.86,57.09L64.48,59.84A58.2,58.2 0 0 0 64.30,60.01Z" fill="#C4E4EC" />
<path d="M61.86,57.09A62.0,62.0 0 0 1 62.05,56.91L64.66,59.67A58.2,58.2 0 0 0 64.48,59.84Z" fill="#EFC7BD" />
<path d="M62.05,56.91A62.0,62.0 0 0 1 62.24,56.73L64.83,59.50A58.2,58.2 0 0 0 64.66,59.67Z" fill="#F4CFC4" />
<path d="M73.89,48.14A62.0,62.0 0 0 1 84.85,43.23L86.06,46.83A58.2,58.2 0 0 0 75.78,51.44Z" fill="#E64B35" />
<path d="M64.17,55.00A62.0,62.0 0 0 1 73.89,48.14L75.78,51.44A58.2,58.2 0 0 0 66.65,57.88Z" fill="#4DBBD5" />
<path d="M84.85,43.23A62.0,62.0 0 0 1 88.93,42.01L89.89,45.69A58.2,58.2 0 0 0 86.06,46.83Z" fill="#00A087" />
<path d="M88.93,42.01A62.0,62.0 0 0 1 93.39,41.02L94.08,44.76A58.2,58.2 0 0 0 89.89,45.69Z" fill="#3C5488" />
<path d="M93.39,41.02A62.0,62.0 0 0 1 95.70,40.64L96.25,44.40A58.2,58.2 0 0 0 94.08,44.76Z" fill="#F39B7F" />
<path d="M95.70,40.64A62.0,62.0 0 0 1 97.60,40.40L98.03,44.17A58.2,58.2 0 0 0 96.25,44.40Z" fill="#8491B4" />
<path d="M97.60,40.40A62.0,62.0 0 0 1 98.45,40.31L98.83,44.09A58.2,58.2 0 0 0 98.03,44.17Z" fill="#91D1C2" />
<path d="M98.45,40.31A62.0,62.0 0 0 1 99.08,40.25L99.42,44.03A58.2,58.2 0 0 0 98.83,44.09Z" fill="#DC0000" />
<path d="M99.08,40.25A62.0,62.0 0 0 1 99.61,40.20L99.92,43.99A58.2,58.2 0 0 0 99.42,44.03Z" fill="#7E6148" />
<path d="M99.61,40.20A62.0,62.0 0 0 1 99.88,40.18L100.17,43.97A58.2,58.2 0 0 0 99.92,43.99Z" fill="#F2C4BB" />
<path d="M99.88,40.18A62.0,62.0 0 0 1 100.14,40.16L100.42,43.95A58.2,58.2 0 0 0 100.17,43.97Z" fill="#F0C8BE" />
<path d="M100.14,40.16A62.0,62.0 0 0 1 100.41,40.14L100.67,43.93A58.2,58.2 0 0 0 100.42,43.95Z" fill="#BFE3EC" />
<path d="M100.41,40.14A62.0,62.0 0 0 1 100.68,40.12L100.92,43.92A58.2,58.2 0 0 0 100.67,43.93Z" fill="#C9E8EF" />
<path d="M100.68,40.12A62.0,62.0 0 0 1 100.94,40.11L101.17,43.90A58.2,58.2 0 0 0 100.92,43.92Z" fill="#D9C9D6" />
<path d="M100.94,40.11A62.0,62.0 0 0 1 101.21,40.09L101.41,43.89A58.2,58.2 0 0 0 101.17,43.90Z" fill="#F2C9C0" />
<path d="M101.21,40.09A62.0,62.0 0 0 1 101.47,40.08L101.66,43.87A58.2,58.2 0 0 0 101.41,43.89Z" fill="#C4E4EC" />
<path d="M101.47,40.08A62.0,62.0 0 0 1 101.74,40.07L101.91,43.86A58.2,58.2 0 0 0 101.66,43.87Z" fill="#EFC7BD" />
<path d="M101.74,40.07A62.0,62.0 0 0 1 102.00,40.05L102.16,43.85A58.2,58.2 0 0 0 101.91,43.86Z" fill="#F4CFC4" />
<path d="M105.31,34.20A67.8,67.8 0 0 1 154.99,56.63L152.24,59.11A64.1,64.1 0 0 0 105.27,37.90Z" fill="#E64B35" />
<path d="M156.69,58.60A67.8,67.8 0 0 1 172.24,106.61L168.55,106.36A64.1,64.1 0 0 0 153.85,60.97Z" fill="#4DBBD5" />
<path d="M171.98,109.56A67.8,67.8 0 0 1 167.24,127.95L163.82,126.53A64.1,64.1 0 0 0 168.30,109.15Z" fill="#00A087" />
<path d="M165.01,132.78A67.8,67.8 0 0 1 155.85,146.39L153.05,143.97A64.1,64.1 0 0 0 161.71,131.10Z" fill="#3C5488" />
<path d="M153.94,148.50A67.8,67.8 0 0 1 143.10,157.81L141.00,154.76A64.1,64.1 0 0 0 151.25,145.96Z" fill="#F39B7F" />
<path d="M141.53,158.86A67.8,67.8 0 0 1 134.32,162.94L132.70,159.61A64.1,64.1 0 0 0 139.51,155.76Z" fill="#8491B4" />
<path d="M132.18,163.94A67.8,67.8 0 0 1 127.57,165.79L126.31,162.31A64.1,64.1 0 0 0 130.67,160.56Z" fill="#91D1C2" />
<path d="M125.55,166.48A67.8,67.8 0 0 1 121.46,167.67L120.54,164.09A64.1,64.1 0 0 0 124.41,162.96Z" fill="#DC0000" />
<path d="M119.85,168.06A67.8,67.8 0 0 1 117.30,168.60L116.61,164.96A64.1,64.1 0 0 0 119.02,164.46Z" fill="#7E6148" />
<path d="M114.97,169.00A67.8,67.8 0 0 1 113.33,169.24L112.86,165.57A64.1,64.1 0 0 0 114.41,165.35Z" fill="#F2C4BB" />
<path d="M110.98,169.50A67.8,67.8 0 0 1 109.33,169.63L109.07,165.94A64.1,64.1 0 0 0 110.63,165.82Z" fill="#F0C8BE" />
<path d="M106.97,169.76A67.8,67.8 0 0 1 105.31,169.80L105.27,166.10A64.1,64.1 0 0 0 106.84,166.06Z" fill="#BFE3EC" />
<path d="M102.94,169.78A67.8,67.8 0 0 1 101.29,169.72L101.47,166.02A64.1,64.1 0 0 0 103.03,166.08Z" fill="#C9E8EF" />
<path d="M98.93,169.56A67.8,67.8 0 0 1 97.28,169.40L97.68,165.73A64.1,64.1 0 0 0 99.24,165.88Z" fill="#D9C9D6" />
<path d="M94.93,169.11A67.8,67.8 0 0 1 93.29,168.85L93.91,165.20A64.1,64.1 0 0 0 95.46,165.44Z" fill="#F2C9C0" />
<path d="M91.08,168.44A67.8,67.8 0 0 1 89.46,168.09L90.29,164.48A64.1,64.1 0 0 0 91.82,164.81Z" fill="#C4E4EC" />
<path d="M87.51,167.61A67.8,67.8 0 0 1 85.91,167.17L86.93,163.62A64.1,64.1 0 0 0 88.44,164.03Z" fill="#EFC7BD" />
<path d="M84.33,166.70A67.8,67.8 0 0 1 82.75,166.18L83.94,162.68A64.1,64.1 0 0 0 85.43,163.17Z" fill="#F4CFC4" />
<path d="M81.52,165.75A67.8,67.8 0 0 1 47.35,138.33L50.48,136.35A64.1,64.1 0 0 0 82.78,162.27Z" fill="#B09C85" />
<path d="M46.00,136.10A67.8,67.8 0 0 1 37.20,94.68L40.87,95.08A64.1,64.1 0 0 0 49.20,134.24Z" fill="#EC9585" />
<path d="M37.56,91.86A67.8,67.8 0 0 1 58.27,52.49L60.80,55.20A64.1,64.1 0 0 0 41.22,92.41Z" fill="#D9705E" />
<path d="M60.39,50.60A67.8,67.8 0 0 1 101.76,34.26L101.92,37.96A64.1,64.1 0 0 0 62.80,53.40Z" fill="#4DBBD5" />
<line x1="105.57" y1="46.61" x2="105.59" y2="45.01" stroke="#000" stroke-width="0.75"/>
<text x="105.56" y="47.21" font-size="3.3" fill="#505050" text-anchor="end" dominant-baseline="central" transform="rotate(-89.00 105.56 47.21)" font-weight="bold">0%</text>
<line x1="110.06" y1="46.87" x2="110.22" y2="45.28" stroke="#000" stroke-width="0.75"/>
<text x="110.00" y="47.47" font-size="3.3" fill="#505050" text-anchor="end" dominant-baseline="central" transform="rotate(-84.34 110.00 47.47)" font-weight="bold">10%</text>
<line x1="114.52" y1="47.50" x2="114.81" y2="45.92" stroke="#000" stroke-width="0.75"/>
<text x="114.42" y="48.09" font-size="3.3" fill="#505050" text-anchor="end" dominant-baseline="central" transform="rotate(-79.68 114.42 48.09)" font-weight="bold">20%</text>
<line x1="118.92" y1="48.48" x2="119.33" y2="46.94" stroke="#000" stroke-width="0.75"/>
<text x="118.76" y="49.06" font-size="3.3" fill="#505050" text-anchor="end" dominant-baseline="central" transform="rotate(-75.02 118.76 49.06)" font-weight="bold">30%</text>
<line x1="123.22" y1="49.82" x2="123.76" y2="48.32" stroke="#000" stroke-width="0.75"/>
<text x="123.02" y="50.39" font-size="3.3" fill="#505050" text-anchor="end" dominant-baseline="central" transform="rotate(-70.36 123.02 50.39)" font-weight="bold">40%</text>
<line x1="127.40" y1="51.51" x2="128.06" y2="50.05" stroke="#000" stroke-width="0.75"/>
<text x="127.15" y="52.06" font-size="3.3" fill="#505050" text-anchor="end" dominant-baseline="central" transform="rotate(-65.70 127.15 52.06)" font-weight="bold">50%</text>
<line x1="131.42" y1="53.53" x2="132.20" y2="52.13" stroke="#000" stroke-width="0.75"/>
<text x="131.13" y="54.05" font-size="3.3" fill="#505050" text-anchor="end" dominant-baseline="central" transform="rotate(-61.04 131.13 54.05)" font-weight="bold">60%</text>
<line x1="135.27" y1="55.87" x2="136.16" y2="54.53" stroke="#000" stroke-width="0.75"/>
<text x="134.94" y="56.37" font-size="3.3" fill="#505050" text-anchor="end" dominant-baseline="central" transform="rotate(-56.38 134.94 56.37)" font-weight="bold">70%</text>
<line x1="138.92" y1="58.51" x2="139.91" y2="57.26" stroke="#000" stroke-width="0.75"/>
<text x="138.55" y="58.98" font-size="3.3" fill="#505050" text-anchor="end" dominant-baseline="central" transform="rotate(-51.72 138.55 58.98)" font-weight="bold">80%</text>
<line x1="142.34" y1="61.44" x2="143.43" y2="60.27" stroke="#000" stroke-width="0.75"/>
<text x="141.93" y="61.88" font-size="3.3" fill="#505050" text-anchor="end" dominant-baseline="central" transform="rotate(-47.06 141.93 61.88)" font-weight="bold">90%</text>
<line x1="145.51" y1="64.64" x2="146.69" y2="63.56" stroke="#000" stroke-width="0.75"/>
<text x="145.07" y="65.05" font-size="3.3" fill="#505050" text-anchor="end" dominant-baseline="central" transform="rotate(-42.40 145.07 65.05)" font-weight="bold">100%</text>
<line x1="147.41" y1="66.84" x2="148.65" y2="65.82" stroke="#000" stroke-width="0.75"/>
<text x="146.95" y="67.22" font-size="3.3" fill="#505050" text-anchor="end" dominant-baseline="central" transform="rotate(-39.40 146.95 67.22)" font-weight="bold">0%</text>
<line x1="149.92" y1="70.14" x2="151.23" y2="69.22" stroke="#000" stroke-width="0.75"/>
<text x="149.43" y="70.48" font-size="3.3" fill="#505050" text-anchor="end" dominant-baseline="central" transform="rotate(-35.11 149.43 70.48)" font-weight="bold">10%</text>
<line x1="152.18" y1="73.62" x2="153.55" y2="72.80" stroke="#000" stroke-width="0.75"/>
<text x="151.66" y="73.92" font-size="3.3" fill="#505050" text-anchor="end" dominant-baseline="central" transform="rotate(-30.82 151.66 73.92)" font-weight="bold">20%</text>
<line x1="154.17" y1="77.25" x2="155.60" y2="76.54" stroke="#000" stroke-width="0.75"/>
<text x="153.63" y="77.52" font-size="3.3" fill="#505050" text-anchor="end" dominant-baseline="central" transform="rotate(-26.53 153.63 77.52)" font-weight="bold">30%</text>
<line x1="155.88" y1="81.03" x2="157.36" y2="80.43" stroke="#000" stroke-width="0.75"/>
<text x="155.32" y="81.26" font-size="3.3" fill="#505050" text-anchor="end" dominant-baseline="central" transform="rotate(-22.24 155.32 81.26)" font-weight="bold">40%</text>
<line x1="157.30" y1="84.93" x2="158.83" y2="84.43" stroke="#000" stroke-width="0.75"/>
<text x="156.73" y="85.11" font-size="3.3" fill="#505050" text-anchor="end" dominant-baseline="central" transform="rotate(-17.95 156.73 85.11)" font-weight="bold">50%</text>
<line x1="158.43" y1="88.92" x2="159.99" y2="88.54" stroke="#000" stroke-width="0.75"/>
<text x="157.85" y="89.06" font-size="3.3" fill="#505050" text-anchor="end" dominant-baseline="central" transform="rotate(-13.66 157.85 89.06)" font-weight="bold">60%</text>
<line x1="159.26" y1="92.98" x2="160.84" y2="92.72" stroke="#000" stroke-width="0.75"/>
<text x="158.67" y="93.08" font-size="3.3" fill="#505050" text-anchor="end" dominant-baseline="central" transform="rotate(-9.37 158.67 93.08)" font-weight="bold">70%</text>
<line x1="159.78" y1="97.09" x2="161.38" y2="96.95" stroke="#000" stroke-width="0.75"/>
<text x="159.18" y="97.15" font-size="3.3" fill="#505050" text-anchor="end" dominant-baseline="central" transform="rotate(-5.08 159.18 97.15)" font-weight="bold">80%</text>
<line x1="159.99" y1="101.24" x2="161.59" y2="101.21" stroke="#000" stroke-width="0.75"/>
<text x="159.39" y="101.24" font-size="3.3" fill="#505050" text-anchor="end" dominant-baseline="central" transform="rotate(-0.79 159.39 101.24)" font-weight="bold">90%</text>
<line x1="159.90" y1="105.38" x2="161.49" y2="105.48" stroke="#000" stroke-width="0.75"/>
<text x="159.30" y="105.35" font-size="3.3" fill="#505050" text-anchor="end" dominant-baseline="central" transform="rotate(3.50 159.30 105.35)" font-weight="bold">100%</text>
<line x1="159.61" y1="108.56" x2="161.20" y2="108.75" stroke="#000" stroke-width="0.75"/>
<text x="159.01" y="108.49" font-size="3.3" fill="#505050" text-anchor="end" dominant-baseline="central" transform="rotate(6.80 159.01 108.49)" font-weight="bold">0%</text>
<line x1="159.18" y1="111.49" x2="160.76" y2="111.76" stroke="#000" stroke-width="0.75"/>
<text x="158.59" y="111.38" font-size="3.3" fill="#505050" text-anchor="end" dominant-baseline="central" transform="rotate(9.86 158.59 111.38)" font-weight="bold">20%</text>
<line x1="158.60" y1="114.39" x2="160.16" y2="114.74" stroke="#000" stroke-width="0.75"/>
<text x="158.01" y="114.25" font-size="3.3" fill="#505050" text-anchor="end" dominant-baseline="central" transform="rotate(12.92 158.01 114.25)" font-weight="bold">40%</text>
<line x1="157.86" y1="117.25" x2="159.40" y2="117.69" stroke="#000" stroke-width="0.75"/>
<text x="157.28" y="117.09" font-size="3.3" fill="#505050" text-anchor="end" dominant-baseline="central" transform="rotate(15.98 157.28 117.09)" font-weight="bold">60%</text>
<line x1="156.97" y1="120.07" x2="158.48" y2="120.60" stroke="#000" stroke-width="0.75"/>
<text x="156.40" y="119.88" font-size="3.3" fill="#505050" text-anchor="end" dominant-baseline="central" transform="rotate(19.04 156.40 119.88)" font-weight="bold">80%</text>
<line x1="155.93" y1="122.84" x2="157.41" y2="123.44" stroke="#000" stroke-width="0.75"/>
<text x="155.37" y="122.62" font-size="3.3" fill="#505050" text-anchor="end" dominant-baseline="central" transform="rotate(22.10 155.37 122.62)" font-weight="bold">100%</text>
<line x1="153.78" y1="127.50" x2="155.21" y2="128.23" stroke="#000" stroke-width="0.75"/>
<text x="153.25" y="127.22" font-size="3.3" fill="#505050" text-anchor="end" dominant-baseline="central" transform="rotate(27.40 153.25 127.22)" font-weight="bold">0%</text>
<line x1="152.57" y1="129.72" x2="153.95" y2="130.52" stroke="#000" stroke-width="0.75"/>
<text x="152.05" y="129.42" font-size="3.3" fill="#505050" text-anchor="end" dominant-baseline="central" transform="rotate(30.02 152.05 129.42)" font-weight="bold">20%</text>
<line x1="151.25" y1="131.88" x2="152.60" y2="132.74" stroke="#000" stroke-width="0.75"/>
<text x="150.75" y="131.56" font-size="3.3" fill="#505050" text-anchor="end" dominant-baseline="central" transform="rotate(32.64 150.75 131.56)" font-weight="bold">40%</text>
<line x1="149.84" y1="133.98" x2="151.14" y2="134.91" stroke="#000" stroke-width="0.75"/>
<text x="149.35" y="133.64" font-size="3.3" fill="#505050" text-anchor="end" dominant-baseline="central" transform="rotate(35.26 149.35 133.64)" font-weight="bold">60%</text>
<line x1="148.33" y1="136.02" x2="149.59" y2="137.00" stroke="#000" stroke-width="0.75"/>
<text x="147.85" y="135.65" font-size="3.3" fill="#505050" text-anchor="end" dominant-baseline="central" transform="rotate(37.88 147.85 135.65)" font-weight="bold">80%</text>
<line x1="146.73" y1="137.98" x2="147.94" y2="139.02" stroke="#000" stroke-width="0.75"/>
<text x="146.27" y="137.59" font-size="3.3" fill="#505050" text-anchor="end" dominant-baseline="central" transform="rotate(40.50 146.27 137.59)" font-weight="bold">100%</text>
<line x1="85.38" y1="153.96" x2="84.82" y2="155.46" stroke="#000" stroke-width="0.75"/>
<text x="85.59" y="153.40" font-size="3.3" fill="#505050" text-anchor="start" dominant-baseline="central" transform="rotate(290.30 85.59 153.40)" font-weight="bold">0%</text>
<line x1="82.08" y1="152.61" x2="81.43" y2="154.08" stroke="#000" stroke-width="0.75"/>
<text x="82.32" y="152.07" font-size="3.3" fill="#505050" text-anchor="start" dominant-baseline="central" transform="rotate(293.99 82.32 152.07)" font-weight="bold">10%</text>
<line x1="78.86" y1="151.06" x2="78.12" y2="152.48" stroke="#000" stroke-width="0.75"/>
<text x="79.14" y="150.53" font-size="3.3" fill="#505050" text-anchor="start" dominant-baseline="central" transform="rotate(297.68 79.14 150.53)" font-weight="bold">20%</text>
<line x1="75.76" y1="149.30" x2="74.93" y2="150.67" stroke="#000" stroke-width="0.75"/>
<text x="76.07" y="148.79" font-size="3.3" fill="#505050" text-anchor="start" dominant-baseline="central" transform="rotate(301.37 76.07 148.79)" font-weight="bold">30%</text>
<line x1="72.78" y1="147.35" x2="71.86" y2="148.66" stroke="#000" stroke-width="0.75"/>
<text x="73.12" y="146.86" font-size="3.3" fill="#505050" text-anchor="start" dominant-baseline="central" transform="rotate(305.06 73.12 146.86)" font-weight="bold">40%</text>
<line x1="69.92" y1="145.21" x2="68.92" y2="146.45" stroke="#000" stroke-width="0.75"/>
<text x="70.30" y="144.74" font-size="3.3" fill="#505050" text-anchor="start" dominant-baseline="central" transform="rotate(308.75 70.30 144.74)" font-weight="bold">50%</text>
<line x1="67.22" y1="142.88" x2="66.14" y2="144.07" stroke="#000" stroke-width="0.75"/>
<text x="67.62" y="142.44" font-size="3.3" fill="#505050" text-anchor="start" dominant-baseline="central" transform="rotate(312.44 67.62 142.44)" font-weight="bold">60%</text>
<line x1="64.66" y1="140.39" x2="63.51" y2="141.50" stroke="#000" stroke-width="0.75"/>
<text x="65.09" y="139.98" font-size="3.3" fill="#505050" text-anchor="start" dominant-baseline="central" transform="rotate(316.13 65.09 139.98)" font-weight="bold">70%</text>
<line x1="62.27" y1="137.74" x2="61.05" y2="138.78" stroke="#000" stroke-width="0.75"/>
<text x="62.73" y="137.36" font-size="3.3" fill="#505050" text-anchor="start" dominant-baseline="central" transform="rotate(319.82 62.73 137.36)" font-weight="bold">80%</text>
<line x1="60.06" y1="134.95" x2="58.77" y2="135.90" stroke="#000" stroke-width="0.75"/>
<text x="60.54" y="134.59" font-size="3.3" fill="#505050" text-anchor="start" dominant-baseline="central" transform="rotate(323.51 60.54 134.59)" font-weight="bold">90%</text>
<line x1="58.03" y1="132.01" x2="56.69" y2="132.88" stroke="#000" stroke-width="0.75"/>
<text x="58.54" y="131.69" font-size="3.3" fill="#505050" text-anchor="start" dominant-baseline="central" transform="rotate(327.20 58.54 131.69)" font-weight="bold">100%</text>
<line x1="56.53" y1="129.53" x2="55.14" y2="130.33" stroke="#000" stroke-width="0.75"/>
<text x="57.05" y="129.23" font-size="3.3" fill="#505050" text-anchor="start" dominant-baseline="central" transform="rotate(330.20 57.05 129.23)" font-weight="bold">0%</text>
<line x1="54.91" y1="126.49" x2="53.47" y2="127.20" stroke="#000" stroke-width="0.75"/>
<text x="55.45" y="126.23" font-size="3.3" fill="#505050" text-anchor="start" dominant-baseline="central" transform="rotate(333.76 55.45 126.23)" font-weight="bold">10%</text>
<line x1="53.48" y1="123.36" x2="52.01" y2="123.98" stroke="#000" stroke-width="0.75"/>
<text x="54.04" y="123.13" font-size="3.3" fill="#505050" text-anchor="start" dominant-baseline="central" transform="rotate(337.32 54.04 123.13)" font-weight="bold">20%</text>
<line x1="52.26" y1="120.15" x2="50.74" y2="120.67" stroke="#000" stroke-width="0.75"/>
<text x="52.82" y="119.95" font-size="3.3" fill="#505050" text-anchor="start" dominant-baseline="central" transform="rotate(340.88 52.82 119.95)" font-weight="bold">30%</text>
<line x1="51.23" y1="116.86" x2="49.69" y2="117.29" stroke="#000" stroke-width="0.75"/>
<text x="51.81" y="116.70" font-size="3.3" fill="#505050" text-anchor="start" dominant-baseline="central" transform="rotate(344.44 51.81 116.70)" font-weight="bold">40%</text>
<line x1="50.41" y1="113.52" x2="48.85" y2="113.85" stroke="#000" stroke-width="0.75"/>
<text x="51.00" y="113.39" font-size="3.3" fill="#505050" text-anchor="start" dominant-baseline="central" transform="rotate(348.00 51.00 113.39)" font-weight="bold">50%</text>
<line x1="49.80" y1="110.13" x2="48.22" y2="110.37" stroke="#000" stroke-width="0.75"/>
<text x="50.39" y="110.04" font-size="3.3" fill="#505050" text-anchor="start" dominant-baseline="central" transform="rotate(351.56 50.39 110.04)" font-weight="bold">60%</text>
<line x1="49.40" y1="106.71" x2="47.81" y2="106.85" stroke="#000" stroke-width="0.75"/>
<text x="50.00" y="106.66" font-size="3.3" fill="#505050" text-anchor="start" dominant-baseline="central" transform="rotate(355.12 50.00 106.66)" font-weight="bold">70%</text>
<line x1="49.21" y1="103.28" x2="47.62" y2="103.31" stroke="#000" stroke-width="0.75"/>
<text x="49.81" y="103.26" font-size="3.3" fill="#505050" text-anchor="start" dominant-baseline="central" transform="rotate(358.68 49.81 103.26)" font-weight="bold">80%</text>
<line x1="49.24" y1="99.83" x2="47.64" y2="99.77" stroke="#000" stroke-width="0.75"/>
<text x="49.84" y="99.86" font-size="3.3" fill="#505050" text-anchor="start" dominant-baseline="central" transform="rotate(362.24 49.84 99.86)" font-weight="bold">90%</text>
<line x1="49.48" y1="96.40" x2="47.89" y2="96.24" stroke="#000" stroke-width="0.75"/>
<text x="50.08" y="96.46" font-size="3.3" fill="#505050" text-anchor="start" dominant-baseline="central" transform="rotate(365.80 50.08 96.46)" font-weight="bold">100%</text>
<line x1="49.88" y1="93.33" x2="48.30" y2="93.08" stroke="#000" stroke-width="0.75"/>
<text x="50.47" y="93.43" font-size="3.3" fill="#505050" text-anchor="start" dominant-baseline="central" transform="rotate(369.00 50.47 93.43)" font-weight="bold">0%</text>
<line x1="50.57" y1="89.77" x2="49.01" y2="89.42" stroke="#000" stroke-width="0.75"/>
<text x="51.15" y="89.91" font-size="3.3" fill="#505050" text-anchor="start" dominant-baseline="central" transform="rotate(372.75 51.15 89.91)" font-weight="bold">10%</text>
<line x1="51.48" y1="86.27" x2="49.95" y2="85.81" stroke="#000" stroke-width="0.75"/>
<text x="52.06" y="86.44" font-size="3.3" fill="#505050" text-anchor="start" dominant-baseline="central" transform="rotate(376.50 52.06 86.44)" font-weight="bold">20%</text>
<line x1="52.62" y1="82.83" x2="51.12" y2="82.27" stroke="#000" stroke-width="0.75"/>
<text x="53.19" y="83.03" font-size="3.3" fill="#505050" text-anchor="start" dominant-baseline="central" transform="rotate(380.25 53.19 83.03)" font-weight="bold">30%</text>
<line x1="53.99" y1="79.47" x2="52.53" y2="78.82" stroke="#000" stroke-width="0.75"/>
<text x="54.54" y="79.71" font-size="3.3" fill="#505050" text-anchor="start" dominant-baseline="central" transform="rotate(384.00 54.54 79.71)" font-weight="bold">40%</text>
<line x1="55.57" y1="76.20" x2="54.16" y2="75.46" stroke="#000" stroke-width="0.75"/>
<text x="56.10" y="76.48" font-size="3.3" fill="#505050" text-anchor="start" dominant-baseline="central" transform="rotate(387.75 56.10 76.48)" font-weight="bold">50%</text>
<line x1="57.36" y1="73.05" x2="56.00" y2="72.22" stroke="#000" stroke-width="0.75"/>
<text x="57.88" y="73.37" font-size="3.3" fill="#505050" text-anchor="start" dominant-baseline="central" transform="rotate(391.50 57.88 73.37)" font-weight="bold">60%</text>
<line x1="59.36" y1="70.03" x2="58.05" y2="69.10" stroke="#000" stroke-width="0.75"/>
<text x="59.85" y="70.37" font-size="3.3" fill="#505050" text-anchor="start" dominant-baseline="central" transform="rotate(395.25 59.85 70.37)" font-weight="bold">70%</text>
<line x1="61.55" y1="67.14" x2="60.30" y2="66.13" stroke="#000" stroke-width="0.75"/>
<text x="62.01" y="67.51" font-size="3.3" fill="#505050" text-anchor="start" dominant-baseline="central" transform="rotate(399.00 62.01 67.51)" font-weight="bold">80%</text>
<line x1="63.92" y1="64.39" x2="62.74" y2="63.31" stroke="#000" stroke-width="0.75"/>
<text x="64.36" y="64.80" font-size="3.3" fill="#505050" text-anchor="start" dominant-baseline="central" transform="rotate(402.75 64.36 64.80)" font-weight="bold">90%</text>
<line x1="66.47" y1="61.81" x2="65.36" y2="60.65" stroke="#000" stroke-width="0.75"/>
<text x="66.88" y="62.25" font-size="3.3" fill="#505050" text-anchor="start" dominant-baseline="central" transform="rotate(406.50 66.88 62.25)" font-weight="bold">100%</text>
<line x1="68.77" y1="59.75" x2="67.73" y2="58.53" stroke="#000" stroke-width="0.75"/>
<text x="69.16" y="60.21" font-size="3.3" fill="#505050" text-anchor="start" dominant-baseline="central" transform="rotate(409.70 69.16 60.21)" font-weight="bold">0%</text>
<line x1="71.61" y1="57.50" x2="70.66" y2="56.21" stroke="#000" stroke-width="0.75"/>
<text x="71.97" y="57.98" font-size="3.3" fill="#505050" text-anchor="start" dominant-baseline="central" transform="rotate(413.45 71.97 57.98)" font-weight="bold">10%</text>
<line x1="74.59" y1="55.43" x2="73.72" y2="54.09" stroke="#000" stroke-width="0.75"/>
<text x="74.91" y="55.94" font-size="3.3" fill="#505050" text-anchor="start" dominant-baseline="central" transform="rotate(417.20 74.91 55.94)" font-weight="bold">20%</text>
<line x1="77.70" y1="53.57" x2="76.92" y2="52.17" stroke="#000" stroke-width="0.75"/>
<text x="77.99" y="54.09" font-size="3.3" fill="#505050" text-anchor="start" dominant-baseline="central" transform="rotate(420.95 77.99 54.09)" font-weight="bold">30%</text>
<line x1="80.92" y1="51.91" x2="80.24" y2="50.47" stroke="#000" stroke-width="0.75"/>
<text x="81.18" y="52.46" font-size="3.3" fill="#505050" text-anchor="start" dominant-baseline="central" transform="rotate(424.70 81.18 52.46)" font-weight="bold">40%</text>
<line x1="84.25" y1="50.47" x2="83.66" y2="48.98" stroke="#000" stroke-width="0.75"/>
<text x="84.47" y="51.03" font-size="3.3" fill="#505050" text-anchor="start" dominant-baseline="central" transform="rotate(428.45 84.47 51.03)" font-weight="bold">50%</text>
<line x1="87.66" y1="49.25" x2="87.18" y2="47.73" stroke="#000" stroke-width="0.75"/>
<text x="87.85" y="49.82" font-size="3.3" fill="#505050" text-anchor="start" dominant-baseline="central" transform="rotate(432.20 87.85 49.82)" font-weight="bold">60%</text>
<line x1="91.15" y1="48.26" x2="90.76" y2="46.71" stroke="#000" stroke-width="0.75"/>
<text x="91.30" y="48.84" font-size="3.3" fill="#505050" text-anchor="start" dominant-baseline="central" transform="rotate(435.95 91.30 48.84)" font-weight="bold">70%</text>
<line x1="94.69" y1="47.49" x2="94.41" y2="45.92" stroke="#000" stroke-width="0.75"/>
<text x="94.80" y="48.08" font-size="3.3" fill="#505050" text-anchor="start" dominant-baseline="central" transform="rotate(439.70 94.80 48.08)" font-weight="bold">80%</text>
<line x1="98.28" y1="46.96" x2="98.10" y2="45.37" stroke="#000" stroke-width="0.75"/>
<text x="98.35" y="47.56" font-size="3.3" fill="#505050" text-anchor="start" dominant-baseline="central" transform="rotate(443.45 98.35 47.56)" font-weight="bold">90%</text>
<line x1="101.89" y1="46.67" x2="101.82" y2="45.07" stroke="#000" stroke-width="0.75"/>
<text x="101.92" y="47.27" font-size="3.3" fill="#505050" text-anchor="start" dominant-baseline="central" transform="rotate(447.20 101.92 47.27)" font-weight="bold">100%</text>
<text x="136.08" y="32.28" font-size="3.9" fill="#222" text-anchor="start" dominant-baseline="central" transform="rotate(-65.70 136.08 32.28)" >Actinobacteriota</text>
<text x="177.38" y="78.42" font-size="3.9" fill="#222" text-anchor="start" dominant-baseline="central" transform="rotate(-17.95 177.38 78.42)" >Proteobacteria</text>
<text x="178.68" y="121.09" font-size="3.9" fill="#222" text-anchor="start" dominant-baseline="central" transform="rotate(14.45 178.68 121.09)" >Chloroflexi</text>
<text x="168.06" y="144.72" font-size="3.9" fill="#222" text-anchor="start" dominant-baseline="central" transform="rotate(33.95 168.06 144.72)" >Acidobacteriota</text>
<text x="154.43" y="160.04" font-size="3.9" fill="#222" text-anchor="start" dominant-baseline="central" transform="rotate(49.35 154.43 160.04)" >Gemmatimonadota</text>
<text x="142.27" y="168.58" font-size="3.9" fill="#222" text-anchor="start" dominant-baseline="central" transform="rotate(60.50 142.27 168.58)" >Planctomycetota</text>
<text x="133.13" y="172.98" font-size="3.9" fill="#222" text-anchor="start" dominant-baseline="central" transform="rotate(68.10 133.13 172.98)" >Bacteroidota</text>
<text x="125.94" y="175.46" font-size="3.9" fill="#222" text-anchor="start" dominant-baseline="central" transform="rotate(73.80 125.94 175.46)" >WPS-2</text>
<text x="120.37" y="176.86" font-size="3.9" fill="#222" text-anchor="start" dominant-baseline="central" transform="rotate(78.10 120.37 176.86)" >Firmicutes</text>
<text x="115.38" y="177.74" font-size="3.9" fill="#222" text-anchor="start" dominant-baseline="central" transform="rotate(81.90 115.38 177.74)" >Myxococcota</text>
<text x="110.87" y="178.24" font-size="3.9" fill="#222" text-anchor="start" dominant-baseline="central" transform="rotate(85.30 110.87 178.24)" >Others</text>
<text x="106.34" y="178.48" font-size="3.9" fill="#222" text-anchor="start" dominant-baseline="central" transform="rotate(88.70 106.34 178.48)" >Armatimonadota</text>
<text x="101.80" y="178.45" font-size="3.9" fill="#222" text-anchor="end" dominant-baseline="central" transform="rotate(272.10 101.80 178.45)" >Bdellovibrionota</text>
<text x="97.27" y="178.15" font-size="3.9" fill="#222" text-anchor="end" dominant-baseline="central" transform="rotate(275.50 97.27 178.15)" >Nitrospirota</text>
<text x="92.76" y="177.58" font-size="3.9" fill="#222" text-anchor="end" dominant-baseline="central" transform="rotate(278.90 92.76 177.58)" >Latescibacterota</text>
<text x="88.43" y="176.77" font-size="3.9" fill="#222" text-anchor="end" dominant-baseline="central" transform="rotate(282.20 88.43 176.77)" >Cyanobacteria</text>
<text x="84.41" y="175.79" font-size="3.9" fill="#222" text-anchor="end" dominant-baseline="central" transform="rotate(285.30 84.41 175.79)" >Patescibacteria</text>
<text x="80.83" y="174.71" font-size="3.9" fill="#222" text-anchor="end" dominant-baseline="central" transform="rotate(288.10 80.83 174.71)" >others</text>
<text x="54.84" y="164.00" font-size="4" fill="#333" text-anchor="middle" dominant-baseline="central" transform="rotate(308.75 54.84 164.00)" font-weight="bold">CK</text>
<text x="26.84" y="118.53" font-size="4" fill="#333" text-anchor="middle" dominant-baseline="central" transform="rotate(348.00 26.84 118.53)" font-weight="bold">XS</text>
<text x="34.24" y="64.98" font-size="4" fill="#333" text-anchor="middle" dominant-baseline="central" transform="rotate(387.75 34.24 64.98)" font-weight="bold">XX</text>
<text x="75.40" y="28.06" font-size="4" fill="#333" text-anchor="middle" dominant-baseline="central" transform="rotate(428.45 75.40 28.06)" font-weight="bold">ZS</text>
<path d="M460.84,59.60A41.7,41.7 0 0 1 487.73,69.81Q460.40,101.30 459.53,142.99A41.7,41.7 0 0 1 433.42,133.09Q460.40,101.30 460.84,59.60Z" fill="#E64B35" fill-opacity="0.4" stroke="#E64B35" stroke-width="0.35" stroke-opacity="0.4"/>
<path d="M501.44,93.89A41.7,41.7 0 0 1 496.51,122.16Q460.40,101.30 431.12,130.99A41.7,41.7 0 0 1 418.93,105.66Q460.40,101.30 501.44,93.89Z" fill="#E64B35" fill-opacity="0.4" stroke="#E64B35" stroke-width="0.35" stroke-opacity="0.4"/>
<path d="M487.73,69.81A41.7,41.7 0 0 1 501.44,93.89Q460.40,101.30 418.70,101.01A41.7,41.7 0 0 1 427.43,75.76Q460.40,101.30 487.73,69.81Z" fill="#E64B35" fill-opacity="0.4" stroke="#E64B35" stroke-width="0.35" stroke-opacity="0.4"/>
<path d="M496.51,122.16A41.7,41.7 0 0 1 482.74,136.51Q460.40,101.30 430.71,72.02A41.7,41.7 0 0 1 449.65,61.01Q460.40,101.30 496.51,122.16Z" fill="#E64B35" fill-opacity="0.4" stroke="#E64B35" stroke-width="0.35" stroke-opacity="0.4"/>
<path d="M471.59,141.47A41.7,41.7 0 0 1 470.28,141.81Q460.40,101.30 433.42,133.09A41.7,41.7 0 0 1 432.60,132.38Q460.40,101.30 471.59,141.47Z" fill="#4DBBD5" fill-opacity="0.4" stroke="#4DBBD5" stroke-width="0.35" stroke-opacity="0.4"/>
<path d="M475.02,140.35A41.7,41.7 0 0 1 473.75,140.81Q460.40,101.30 418.93,105.66A41.7,41.7 0 0 1 418.83,104.57Q460.40,101.30 475.02,140.35Z" fill="#4DBBD5" fill-opacity="0.4" stroke="#4DBBD5" stroke-width="0.35" stroke-opacity="0.4"/>
<path d="M473.75,140.81A41.7,41.7 0 0 1 471.59,141.47Q460.40,101.30 427.43,75.76A41.7,41.7 0 0 1 428.56,74.37Q460.40,101.30 473.75,140.81Z" fill="#4DBBD5" fill-opacity="0.4" stroke="#4DBBD5" stroke-width="0.35" stroke-opacity="0.4"/>
<path d="M480.36,137.91A41.7,41.7 0 0 1 475.02,140.35Q460.40,101.30 449.65,61.01A41.7,41.7 0 0 1 454.88,59.97Q460.40,101.30 480.36,137.91Z" fill="#4DBBD5" fill-opacity="0.4" stroke="#4DBBD5" stroke-width="0.35" stroke-opacity="0.4"/>
<path d="M465.88,142.64A41.7,41.7 0 0 1 465.77,142.65Q460.40,101.30 432.60,132.38A41.7,41.7 0 0 1 432.50,132.29Q460.40,101.30 465.88,142.64Z" fill="#00A087" fill-opacity="0.4" stroke="#00A087" stroke-width="0.35" stroke-opacity="0.4"/>
<path d="M467.21,142.44A41.7,41.7 0 0 1 466.41,142.56Q460.40,101.30 418.83,104.57A41.7,41.7 0 0 1 418.76,103.48Q460.40,101.30 467.21,142.44Z" fill="#00A087" fill-opacity="0.4" stroke="#00A087" stroke-width="0.35" stroke-opacity="0.4"/>
<path d="M466.41,142.56A41.7,41.7 0 0 1 465.88,142.64Q460.40,101.30 428.56,74.37A41.7,41.7 0 0 1 429.03,73.83Q460.40,101.30 466.41,142.56Z" fill="#00A087" fill-opacity="0.4" stroke="#00A087" stroke-width="0.35" stroke-opacity="0.4"/>
<path d="M469.07,142.09A41.7,41.7 0 0 1 467.21,142.44Q460.40,101.30 454.88,59.97A41.7,41.7 0 0 1 457.74,59.68Q460.40,101.30 469.07,142.09Z" fill="#00A087" fill-opacity="0.4" stroke="#00A087" stroke-width="0.35" stroke-opacity="0.4"/>
<path d="M463.49,142.89A41.7,41.7 0 0 1 463.31,142.90Q460.40,101.30 432.50,132.29A41.7,41.7 0 0 1 432.39,132.19Q460.40,101.30 463.49,142.89Z" fill="#C9C6DE" fill-opacity="0.4" stroke="#C9C6DE" stroke-width="0.35" stroke-opacity="0.4"/>
<path d="M463.85,142.86A41.7,41.7 0 0 1 463.67,142.87Q460.40,101.30 418.76,103.48A41.7,41.7 0 0 1 418.75,103.34Q460.40,101.30 463.85,142.86Z" fill="#C9C6DE" fill-opacity="0.4" stroke="#C9C6DE" stroke-width="0.35" stroke-opacity="0.4"/>
<path d="M463.67,142.87A41.7,41.7 0 0 1 463.49,142.89Q460.40,101.30 429.03,73.83A41.7,41.7 0 0 1 429.12,73.72Q460.40,101.30 463.67,142.87Z" fill="#C9C6DE" fill-opacity="0.4" stroke="#C9C6DE" stroke-width="0.35" stroke-opacity="0.4"/>
<path d="M464.03,142.84A41.7,41.7 0 0 1 463.85,142.86Q460.40,101.30 457.74,59.68A41.7,41.7 0 0 1 457.91,59.67Q460.40,101.30 464.03,142.84Z" fill="#C9C6DE" fill-opacity="0.4" stroke="#C9C6DE" stroke-width="0.35" stroke-opacity="0.4"/>
<path d="M461.60,142.98A41.7,41.7 0 0 1 461.42,142.99Q460.40,101.30 432.39,132.19A41.7,41.7 0 0 1 432.28,132.09Q460.40,101.30 461.60,142.98Z" fill="#F3CFC6" fill-opacity="0.4" stroke="#F3CFC6" stroke-width="0.35" stroke-opacity="0.4"/>
<path d="M461.96,142.97A41.7,41.7 0 0 1 461.78,142.98Q460.40,101.30 418.75,103.34A41.7,41.7 0 0 1 418.74,103.19Q460.40,101.30 461.96,142.97Z" fill="#F3CFC6" fill-opacity="0.4" stroke="#F3CFC6" stroke-width="0.35" stroke-opacity="0.4"/>
<path d="M461.78,142.98A41.7,41.7 0 0 1 461.60,142.98Q460.40,101.30 429.12,73.72A41.7,41.7 0 0 1 429.22,73.61Q460.40,101.30 461.78,142.98Z" fill="#F3CFC6" fill-opacity="0.4" stroke="#F3CFC6" stroke-width="0.35" stroke-opacity="0.4"/>
<path d="M462.15,142.96A41.7,41.7 0 0 1 461.96,142.97Q460.40,101.30 457.91,59.67A41.7,41.7 0 0 1 458.07,59.67Q460.40,101.30 462.15,142.96Z" fill="#F3CFC6" fill-opacity="0.4" stroke="#F3CFC6" stroke-width="0.35" stroke-opacity="0.4"/>
<path d="M460.85,58.60A42.7,42.7 0 0 1 488.39,69.05L487.73,69.81A41.7,41.7 0 0 0 460.84,59.60Z" fill="#8491B4" />
<path d="M459.51,143.99A42.7,42.7 0 0 1 432.77,133.86L433.42,133.09A41.7,41.7 0 0 0 459.53,142.99Z" fill="#E64B35" />
<path d="M502.42,93.72A42.7,42.7 0 0 1 497.37,122.66L496.51,122.16A41.7,41.7 0 0 0 501.44,93.89Z" fill="#91D1C2" />
<path d="M430.42,131.70A42.7,42.7 0 0 1 417.93,105.76L418.93,105.66A41.7,41.7 0 0 0 431.12,130.99Z" fill="#E64B35" />
<path d="M488.39,69.05A42.7,42.7 0 0 1 502.42,93.72L501.44,93.89A41.7,41.7 0 0 0 487.73,69.81Z" fill="#DC0000" />
<path d="M417.70,101.00A42.7,42.7 0 0 1 426.64,75.15L427.43,75.76A41.7,41.7 0 0 0 418.70,101.01Z" fill="#E64B35" />
<path d="M497.37,122.66A42.7,42.7 0 0 1 483.28,137.35L482.74,136.51A41.7,41.7 0 0 0 496.51,122.16Z" fill="#7E6148" />
<path d="M430.00,71.32A42.7,42.7 0 0 1 449.40,60.04L449.65,61.01A41.7,41.7 0 0 0 430.71,72.02Z" fill="#E64B35" />
<path d="M471.86,142.43A42.7,42.7 0 0 1 470.51,142.79L470.28,141.81A41.7,41.7 0 0 0 471.59,141.47Z" fill="#8491B4" />
<path d="M432.77,133.86A42.7,42.7 0 0 1 431.94,133.13L432.60,132.38A41.7,41.7 0 0 0 433.42,133.09Z" fill="#4DBBD5" />
<path d="M475.37,141.29A42.7,42.7 0 0 1 474.07,141.75L473.75,140.81A41.7,41.7 0 0 0 475.02,140.35Z" fill="#91D1C2" />
<path d="M417.93,105.76A42.7,42.7 0 0 1 417.83,104.65L418.83,104.57A41.7,41.7 0 0 0 418.93,105.66Z" fill="#4DBBD5" />
<path d="M474.07,141.75A42.7,42.7 0 0 1 471.86,142.43L471.59,141.47A41.7,41.7 0 0 0 473.75,140.81Z" fill="#DC0000" />
<path d="M426.64,75.15A42.7,42.7 0 0 1 427.80,73.73L428.56,74.37A41.7,41.7 0 0 0 427.43,75.76Z" fill="#4DBBD5" />
<path d="M480.84,138.79A42.7,42.7 0 0 1 475.37,141.29L475.02,140.35A41.7,41.7 0 0 0 480.36,137.91Z" fill="#7E6148" />
<path d="M449.40,60.04A42.7,42.7 0 0 1 454.75,58.98L454.88,59.97A41.7,41.7 0 0 0 449.65,61.01Z" fill="#4DBBD5" />
<path d="M466.01,143.63A42.7,42.7 0 0 1 465.90,143.64L465.77,142.65A41.7,41.7 0 0 0 465.88,142.64Z" fill="#8491B4" />
<path d="M431.94,133.13A42.7,42.7 0 0 1 431.83,133.03L432.50,132.29A41.7,41.7 0 0 0 432.60,132.38Z" fill="#00A087" />
<path d="M467.38,143.43A42.7,42.7 0 0 1 466.56,143.55L466.41,142.56A41.7,41.7 0 0 0 467.21,142.44Z" fill="#91D1C2" />
<path d="M417.83,104.65A42.7,42.7 0 0 1 417.76,103.53L418.76,103.48A41.7,41.7 0 0 0 418.83,104.57Z" fill="#00A087" />
<path d="M466.56,143.55A42.7,42.7 0 0 1 466.01,143.63L465.88,142.64A41.7,41.7 0 0 0 466.41,142.56Z" fill="#DC0000" />
<path d="M427.80,73.73A42.7,42.7 0 0 1 428.28,73.17L429.03,73.83A41.7,41.7 0 0 0 428.56,74.37Z" fill="#00A087" />
<path d="M469.28,143.07A42.7,42.7 0 0 1 467.38,143.43L467.21,142.44A41.7,41.7 0 0 0 469.07,142.09Z" fill="#7E6148" />
<path d="M454.75,58.98A42.7,42.7 0 0 1 457.68,58.69L457.74,59.68A41.7,41.7 0 0 0 454.88,59.97Z" fill="#00A087" />
<path d="M463.56,143.88A42.7,42.7 0 0 1 463.38,143.90L463.31,142.90A41.7,41.7 0 0 0 463.49,142.89Z" fill="#8491B4" />
<path d="M431.83,133.03A42.7,42.7 0 0 1 431.72,132.93L432.39,132.19A41.7,41.7 0 0 0 432.50,132.29Z" fill="#C9C6DE" />
<path d="M463.94,143.85A42.7,42.7 0 0 1 463.75,143.87L463.67,142.87A41.7,41.7 0 0 0 463.85,142.86Z" fill="#91D1C2" />
<path d="M417.76,103.53A42.7,42.7 0 0 1 417.75,103.39L418.75,103.34A41.7,41.7 0 0 0 418.76,103.48Z" fill="#C9C6DE" />
<path d="M463.75,143.87A42.7,42.7 0 0 1 463.56,143.88L463.49,142.89A41.7,41.7 0 0 0 463.67,142.87Z" fill="#DC0000" />
<path d="M428.28,73.17A42.7,42.7 0 0 1 428.37,73.06L429.12,73.72A41.7,41.7 0 0 0 429.03,73.83Z" fill="#C9C6DE" />
<path d="M464.12,143.84A42.7,42.7 0 0 1 463.94,143.85L463.85,142.86A41.7,41.7 0 0 0 464.03,142.84Z" fill="#7E6148" />
<path d="M457.68,58.69A42.7,42.7 0 0 1 457.85,58.68L457.91,59.67A41.7,41.7 0 0 0 457.74,59.68Z" fill="#C9C6DE" />
<path d="M461.63,143.98A42.7,42.7 0 0 1 461.44,143.99L461.42,142.99A41.7,41.7 0 0 0 461.60,142.98Z" fill="#8491B4" />
<path d="M431.72,132.93A42.7,42.7 0 0 1 431.61,132.83L432.28,132.09A41.7,41.7 0 0 0 432.39,132.19Z" fill="#F3CFC6" />
<path d="M462.00,143.97A42.7,42.7 0 0 1 461.82,143.98L461.78,142.98A41.7,41.7 0 0 0 461.96,142.97Z" fill="#91D1C2" />
<path d="M417.75,103.39A42.7,42.7 0 0 1 417.74,103.24L418.74,103.19A41.7,41.7 0 0 0 418.75,103.34Z" fill="#F3CFC6" />
<path d="M461.82,143.98A42.7,42.7 0 0 1 461.63,143.98L461.60,142.98A41.7,41.7 0 0 0 461.78,142.98Z" fill="#DC0000" />
<path d="M428.37,73.06A42.7,42.7 0 0 1 428.47,72.95L429.22,73.61A41.7,41.7 0 0 0 429.12,73.72Z" fill="#F3CFC6" />
<path d="M462.19,143.96A42.7,42.7 0 0 1 462.00,143.97L461.96,142.97A41.7,41.7 0 0 0 462.15,142.96Z" fill="#7E6148" />
<path d="M457.85,58.68A42.7,42.7 0 0 1 458.02,58.67L458.07,59.67A41.7,41.7 0 0 0 457.91,59.67Z" fill="#F3CFC6" />
<path d="M460.89,54.90A46.4,46.4 0 0 1 485.26,140.48L483.44,137.61A43.0,43.0 0 0 0 460.85,58.30Z" fill="#E64B35" />
<path d="M482.61,142.04A46.4,46.4 0 0 1 471.39,146.38L470.58,143.08A43.0,43.0 0 0 0 480.98,139.05Z" fill="#4DBBD5" />
<path d="M470.05,146.69A46.4,46.4 0 0 1 466.38,147.31L465.94,143.94A43.0,43.0 0 0 0 469.34,143.36Z" fill="#00A087" />
<path d="M464.44,147.52A46.4,46.4 0 0 1 463.64,147.59L463.40,144.20A43.0,43.0 0 0 0 464.15,144.14Z" fill="#C9C6DE" />
<path d="M462.34,147.66A46.4,46.4 0 0 1 461.53,147.69L461.45,144.29A43.0,43.0 0 0 0 462.20,144.26Z" fill="#F3CFC6" />
<path d="M459.43,147.69A46.4,46.4 0 0 1 429.11,135.56L431.40,133.05A43.0,43.0 0 0 0 459.50,144.29Z" fill="#8491B4" />
<path d="M427.82,134.34A46.4,46.4 0 0 1 414.05,103.40L417.44,103.25A43.0,43.0 0 0 0 430.21,131.92Z" fill="#91D1C2" />
<path d="M414.00,100.98A46.4,46.4 0 0 1 425.70,70.49L428.24,72.75A43.0,43.0 0 0 0 417.40,101.00Z" fill="#DC0000" />
<path d="M427.36,68.72A46.4,46.4 0 0 1 457.81,54.97L458.00,58.37A43.0,43.0 0 0 0 429.78,71.11Z" fill="#7E6148" />
<path d="M461.03,40.90A60.4,60.4 0 0 1 499.99,55.68L497.37,58.70A56.4,56.4 0 0 0 460.99,44.90Z" fill="#8491B4" />
<path d="M519.84,90.57A60.4,60.4 0 0 1 512.70,131.52L509.23,129.52A56.4,56.4 0 0 0 515.90,91.28Z" fill="#91D1C2" />
<path d="M499.99,55.68A60.4,60.4 0 0 1 519.84,90.57L515.90,91.28A56.4,56.4 0 0 0 497.37,58.70Z" fill="#DC0000" />
<path d="M512.70,131.52A60.4,60.4 0 0 1 492.76,152.30L490.62,148.92A56.4,56.4 0 0 0 509.23,129.52Z" fill="#7E6148" />
<path d="M476.60,159.49A60.4,60.4 0 0 1 474.71,159.98L473.76,156.10A56.4,56.4 0 0 0 475.53,155.63Z" fill="#8491B4" />
<path d="M481.58,157.86A60.4,60.4 0 0 1 479.73,158.52L478.45,154.73A56.4,56.4 0 0 0 480.18,154.12Z" fill="#91D1C2" />
<path d="M479.73,158.52A60.4,60.4 0 0 1 476.60,159.49L475.53,155.63A56.4,56.4 0 0 0 478.45,154.73Z" fill="#DC0000" />
<path d="M489.31,154.33A60.4,60.4 0 0 1 481.58,157.86L480.18,154.12A56.4,56.4 0 0 0 487.40,150.82Z" fill="#7E6148" />
<path d="M468.33,161.18A60.4,60.4 0 0 1 468.18,161.20L467.66,157.23A56.4,56.4 0 0 0 467.81,157.21Z" fill="#8491B4" />
<path d="M470.27,160.89A60.4,60.4 0 0 1 469.11,161.07L468.53,157.11A56.4,56.4 0 0 0 469.61,156.94Z" fill="#91D1C2" />
<path d="M469.11,161.07A60.4,60.4 0 0 1 468.33,161.18L467.81,157.21A56.4,56.4 0 0 0 468.53,157.11Z" fill="#DC0000" />
<path d="M472.96,160.38A60.4,60.4 0 0 1 470.27,160.89L469.61,156.94A56.4,56.4 0 0 0 472.13,156.47Z" fill="#7E6148" />
<path d="M464.88,161.53A60.4,60.4 0 0 1 464.61,161.55L464.33,157.56A56.4,56.4 0 0 0 464.58,157.54Z" fill="#8491B4" />
<path d="M465.40,161.49A60.4,60.4 0 0 1 465.14,161.51L464.83,157.53A56.4,56.4 0 0 0 465.07,157.51Z" fill="#91D1C2" />
<path d="M465.14,161.51A60.4,60.4 0 0 1 464.88,161.53L464.58,157.54A56.4,56.4 0 0 0 464.83,157.53Z" fill="#DC0000" />
<path d="M465.66,161.47A60.4,60.4 0 0 1 465.40,161.49L465.07,157.51A56.4,56.4 0 0 0 465.32,157.49Z" fill="#7E6148" />
<path d="M462.14,161.67A60.4,60.4 0 0 1 461.88,161.68L461.78,157.68A56.4,56.4 0 0 0 462.02,157.68Z" fill="#8491B4" />
<path d="M462.67,161.66A60.4,60.4 0 0 1 462.40,161.67L462.27,157.67A56.4,56.4 0 0 0 462.52,157.66Z" fill="#91D1C2" />
<path d="M462.40,161.67A60.4,60.4 0 0 1 462.14,161.67L462.02,157.68A56.4,56.4 0 0 0 462.27,157.67Z" fill="#DC0000" />
<path d="M462.93,161.65A60.4,60.4 0 0 1 462.67,161.66L462.52,157.66A56.4,56.4 0 0 0 462.76,157.65Z" fill="#7E6148" />
<path d="M459.14,161.69A60.4,60.4 0 0 1 421.32,147.35L423.91,144.30A56.4,56.4 0 0 0 459.22,157.69Z" fill="#E64B35" />
<path d="M421.32,147.35A60.4,60.4 0 0 1 420.14,146.32L422.80,143.34A56.4,56.4 0 0 0 423.91,144.30Z" fill="#4DBBD5" />
<path d="M420.14,146.32A60.4,60.4 0 0 1 419.98,146.18L422.66,143.21A56.4,56.4 0 0 0 422.80,143.34Z" fill="#00A087" />
<path d="M419.98,146.18A60.4,60.4 0 0 1 419.83,146.04L422.51,143.08A56.4,56.4 0 0 0 422.66,143.21Z" fill="#C9C6DE" />
<path d="M419.83,146.04A60.4,60.4 0 0 1 419.67,145.90L422.37,142.95A56.4,56.4 0 0 0 422.51,143.08Z" fill="#F3CFC6" />
<path d="M417.99,144.31A60.4,60.4 0 0 1 400.33,107.61L404.31,107.20A56.4,56.4 0 0 0 420.80,141.46Z" fill="#E64B35" />
<path d="M400.33,107.61A60.4,60.4 0 0 1 400.19,106.04L404.17,105.73A56.4,56.4 0 0 0 404.31,107.20Z" fill="#4DBBD5" />
<path d="M400.19,106.04A60.4,60.4 0 0 1 400.08,104.46L404.08,104.25A56.4,56.4 0 0 0 404.17,105.73Z" fill="#00A087" />
<path d="M400.08,104.46A60.4,60.4 0 0 1 400.07,104.25L404.07,104.06A56.4,56.4 0 0 0 404.08,104.25Z" fill="#C9C6DE" />
<path d="M400.07,104.25A60.4,60.4 0 0 1 400.06,104.04L404.06,103.86A56.4,56.4 0 0 0 404.07,104.06Z" fill="#F3CFC6" />
<path d="M400.00,100.88A60.4,60.4 0 0 1 412.65,64.31L415.81,66.76A56.4,56.4 0 0 0 404.00,100.91Z" fill="#E64B35" />
<path d="M412.65,64.31A60.4,60.4 0 0 1 414.28,62.30L417.34,64.88A56.4,56.4 0 0 0 415.81,66.76Z" fill="#4DBBD5" />
<path d="M414.28,62.30A60.4,60.4 0 0 1 414.96,61.51L417.97,64.14A56.4,56.4 0 0 0 417.34,64.88Z" fill="#00A087" />
<path d="M414.96,61.51A60.4,60.4 0 0 1 415.10,61.35L418.10,64.00A56.4,56.4 0 0 0 417.97,64.14Z" fill="#C9C6DE" />
<path d="M415.10,61.35A60.4,60.4 0 0 1 415.23,61.20L418.22,63.85A56.4,56.4 0 0 0 418.10,64.00Z" fill="#F3CFC6" />
<path d="M417.39,58.89A60.4,60.4 0 0 1 444.83,42.94L445.86,46.81A56.4,56.4 0 0 0 420.24,61.70Z" fill="#E64B35" />
<path d="M444.83,42.94A60.4,60.4 0 0 1 452.41,41.43L452.94,45.40A56.4,56.4 0 0 0 445.86,46.81Z" fill="#4DBBD5" />
<path d="M452.41,41.43A60.4,60.4 0 0 1 456.55,41.02L456.81,45.01A56.4,56.4 0 0 0 452.94,45.40Z" fill="#00A087" />
<path d="M456.55,41.02A60.4,60.4 0 0 1 456.79,41.01L457.03,45.00A56.4,56.4 0 0 0 456.81,45.01Z" fill="#C9C6DE" />
<path d="M456.79,41.01A60.4,60.4 0 0 1 457.03,40.99L457.25,44.99A56.4,56.4 0 0 0 457.03,45.00Z" fill="#F3CFC6" />
<path d="M461.10,34.90A66.4,66.4 0 0 1 495.98,157.36L493.84,153.99A62.4,62.4 0 0 0 461.05,38.90Z" fill="#E64B35" />
<path d="M492.19,159.60A66.4,66.4 0 0 1 476.13,165.81L475.18,161.92A62.4,62.4 0 0 0 490.27,156.09Z" fill="#4DBBD5" />
<path d="M474.21,166.25A66.4,66.4 0 0 1 468.95,167.15L468.44,163.18A62.4,62.4 0 0 0 473.37,162.34Z" fill="#00A087" />
<path d="M466.19,167.45A66.4,66.4 0 0 1 465.03,167.54L464.75,163.55A62.4,62.4 0 0 0 465.84,163.46Z" fill="#C9C6DE" />
<path d="M463.18,167.64A66.4,66.4 0 0 1 462.02,167.68L461.92,163.68A62.4,62.4 0 0 0 463.01,163.65Z" fill="#F3CFC6" />
<path d="M459.01,167.69A66.4,66.4 0 0 1 415.63,150.33L418.32,147.38A62.4,62.4 0 0 0 459.09,163.69Z" fill="#8491B4" />
<path d="M413.78,148.58A66.4,66.4 0 0 1 394.07,104.31L398.06,104.13A62.4,62.4 0 0 0 416.59,145.73Z" fill="#91D1C2" />
<path d="M394.00,100.84A66.4,66.4 0 0 1 410.75,57.22L413.74,59.87A62.4,62.4 0 0 0 398.00,100.86Z" fill="#DC0000" />
<path d="M413.12,54.68A66.4,66.4 0 0 1 456.69,35.00L456.92,39.00A62.4,62.4 0 0 0 415.97,57.49Z" fill="#7E6148" />
<line x1="461.35" y1="47.01" x2="461.38" y2="45.41" stroke="#000" stroke-width="0.75"/>
<text x="461.34" y="47.61" font-size="3.6" fill="#505050" text-anchor="end" dominant-baseline="central" transform="rotate(-89.00 461.34 47.61)" font-weight="bold">0%</text>
<line x1="475.02" y1="49.01" x2="475.45" y2="47.46" stroke="#000" stroke-width="0.75"/>
<text x="474.86" y="49.58" font-size="3.6" fill="#505050" text-anchor="end" dominant-baseline="central" transform="rotate(-74.38 474.86 49.58)" font-weight="bold">10%</text>
<line x1="487.75" y1="54.39" x2="488.55" y2="53.01" stroke="#000" stroke-width="0.75"/>
<text x="487.44" y="54.91" font-size="3.6" fill="#505050" text-anchor="end" dominant-baseline="central" transform="rotate(-59.76 487.44 54.91)" font-weight="bold">20%</text>
<line x1="498.70" y1="62.81" x2="499.83" y2="61.68" stroke="#000" stroke-width="0.75"/>
<text x="498.28" y="63.24" font-size="3.6" fill="#505050" text-anchor="end" dominant-baseline="central" transform="rotate(-45.14 498.28 63.24)" font-weight="bold">30%</text>
<line x1="507.18" y1="73.72" x2="508.56" y2="72.91" stroke="#000" stroke-width="0.75"/>
<text x="506.66" y="74.03" font-size="3.6" fill="#505050" text-anchor="end" dominant-baseline="central" transform="rotate(-30.52 506.66 74.03)" font-weight="bold">40%</text>
<line x1="512.62" y1="86.42" x2="514.16" y2="85.99" stroke="#000" stroke-width="0.75"/>
<text x="512.05" y="86.59" font-size="3.6" fill="#505050" text-anchor="end" dominant-baseline="central" transform="rotate(-15.90 512.05 86.59)" font-weight="bold">50%</text>
<line x1="514.69" y1="100.09" x2="516.29" y2="100.05" stroke="#000" stroke-width="0.75"/>
<text x="514.09" y="100.10" font-size="3.6" fill="#505050" text-anchor="end" dominant-baseline="central" transform="rotate(-1.28 514.09 100.10)" font-weight="bold">60%</text>
<line x1="513.23" y1="113.83" x2="514.79" y2="114.20" stroke="#000" stroke-width="0.75"/>
<text x="512.65" y="113.69" font-size="3.6" fill="#505050" text-anchor="end" dominant-baseline="central" transform="rotate(13.34 512.65 113.69)" font-weight="bold">70%</text>
<line x1="508.36" y1="126.76" x2="509.78" y2="127.51" stroke="#000" stroke-width="0.75"/>
<text x="507.83" y="126.48" font-size="3.6" fill="#505050" text-anchor="end" dominant-baseline="central" transform="rotate(27.96 507.83 126.48)" font-weight="bold">80%</text>
<line x1="500.38" y1="138.04" x2="501.56" y2="139.12" stroke="#000" stroke-width="0.75"/>
<text x="499.94" y="137.63" font-size="3.6" fill="#505050" text-anchor="end" dominant-baseline="central" transform="rotate(42.58 499.94 137.63)" font-weight="bold">90%</text>
<line x1="489.81" y1="146.94" x2="490.68" y2="148.29" stroke="#000" stroke-width="0.75"/>
<text x="489.49" y="146.44" font-size="3.6" fill="#505050" text-anchor="end" dominant-baseline="central" transform="rotate(57.20 489.49 146.44)" font-weight="bold">100%</text>
<line x1="458.88" y1="155.58" x2="458.84" y2="157.18" stroke="#000" stroke-width="0.75"/>
<text x="458.90" y="154.98" font-size="3.6" fill="#505050" text-anchor="start" dominant-baseline="central" transform="rotate(271.60 458.90 154.98)" font-weight="bold">0%</text>
<line x1="455.06" y1="155.34" x2="454.91" y2="156.93" stroke="#000" stroke-width="0.75"/>
<text x="455.12" y="154.74" font-size="3.6" fill="#505050" text-anchor="start" dominant-baseline="central" transform="rotate(275.64 455.12 154.74)" font-weight="bold">10%</text>
<line x1="451.27" y1="154.83" x2="451.00" y2="156.40" stroke="#000" stroke-width="0.75"/>
<text x="451.37" y="154.24" font-size="3.6" fill="#505050" text-anchor="start" dominant-baseline="central" transform="rotate(279.68 451.37 154.24)" font-weight="bold">20%</text>
<line x1="447.52" y1="154.05" x2="447.14" y2="155.60" stroke="#000" stroke-width="0.75"/>
<text x="447.66" y="153.47" font-size="3.6" fill="#505050" text-anchor="start" dominant-baseline="central" transform="rotate(283.72 447.66 153.47)" font-weight="bold">30%</text>
<line x1="443.84" y1="153.01" x2="443.35" y2="154.54" stroke="#000" stroke-width="0.75"/>
<text x="444.02" y="152.44" font-size="3.6" fill="#505050" text-anchor="start" dominant-baseline="central" transform="rotate(287.76 444.02 152.44)" font-weight="bold">40%</text>
<line x1="440.23" y1="151.72" x2="439.64" y2="153.20" stroke="#000" stroke-width="0.75"/>
<text x="440.46" y="151.16" font-size="3.6" fill="#505050" text-anchor="start" dominant-baseline="central" transform="rotate(291.80 440.46 151.16)" font-weight="bold">50%</text>
<line x1="436.73" y1="150.17" x2="436.04" y2="151.61" stroke="#000" stroke-width="0.75"/>
<text x="436.99" y="149.63" font-size="3.6" fill="#505050" text-anchor="start" dominant-baseline="central" transform="rotate(295.84 436.99 149.63)" font-weight="bold">60%</text>
<line x1="433.35" y1="148.38" x2="432.55" y2="149.77" stroke="#000" stroke-width="0.75"/>
<text x="433.65" y="147.86" font-size="3.6" fill="#505050" text-anchor="start" dominant-baseline="central" transform="rotate(299.88 433.65 147.86)" font-weight="bold">70%</text>
<line x1="430.10" y1="146.36" x2="429.21" y2="147.69" stroke="#000" stroke-width="0.75"/>
<text x="430.43" y="145.86" font-size="3.6" fill="#505050" text-anchor="start" dominant-baseline="central" transform="rotate(303.92 430.43 145.86)" font-weight="bold">80%</text>
<line x1="427.00" y1="144.11" x2="426.02" y2="145.37" stroke="#000" stroke-width="0.75"/>
<text x="427.37" y="143.64" font-size="3.6" fill="#505050" text-anchor="start" dominant-baseline="central" transform="rotate(307.96 427.37 143.64)" font-weight="bold">90%</text>
<line x1="424.07" y1="141.65" x2="423.00" y2="142.84" stroke="#000" stroke-width="0.75"/>
<text x="424.47" y="141.21" font-size="3.6" fill="#505050" text-anchor="start" dominant-baseline="central" transform="rotate(312.00 424.47 141.21)" font-weight="bold">100%</text>
<line x1="422.00" y1="139.70" x2="420.87" y2="140.83" stroke="#000" stroke-width="0.75"/>
<text x="422.43" y="139.27" font-size="3.6" fill="#505050" text-anchor="start" dominant-baseline="central" transform="rotate(315.00 422.43 139.27)" font-weight="bold">0%</text>
<line x1="419.30" y1="136.78" x2="418.08" y2="137.83" stroke="#000" stroke-width="0.75"/>
<text x="419.75" y="136.39" font-size="3.6" fill="#505050" text-anchor="start" dominant-baseline="central" transform="rotate(319.20 419.75 136.39)" font-weight="bold">10%</text>
<line x1="416.81" y1="133.68" x2="415.52" y2="134.63" stroke="#000" stroke-width="0.75"/>
<text x="417.29" y="133.32" font-size="3.6" fill="#505050" text-anchor="start" dominant-baseline="central" transform="rotate(323.40 417.29 133.32)" font-weight="bold">20%</text>
<line x1="414.55" y1="130.40" x2="413.20" y2="131.25" stroke="#000" stroke-width="0.75"/>
<text x="415.06" y="130.07" font-size="3.6" fill="#505050" text-anchor="start" dominant-baseline="central" transform="rotate(327.60 415.06 130.07)" font-weight="bold">30%</text>
<line x1="412.55" y1="126.96" x2="411.14" y2="127.72" stroke="#000" stroke-width="0.75"/>
<text x="413.07" y="126.68" font-size="3.6" fill="#505050" text-anchor="start" dominant-baseline="central" transform="rotate(331.80 413.07 126.68)" font-weight="bold">40%</text>
<line x1="410.79" y1="123.39" x2="409.33" y2="124.04" stroke="#000" stroke-width="0.75"/>
<text x="411.34" y="123.14" font-size="3.6" fill="#505050" text-anchor="start" dominant-baseline="central" transform="rotate(336.00 411.34 123.14)" font-weight="bold">50%</text>
<line x1="409.31" y1="119.69" x2="407.80" y2="120.24" stroke="#000" stroke-width="0.75"/>
<text x="409.87" y="119.49" font-size="3.6" fill="#505050" text-anchor="start" dominant-baseline="central" transform="rotate(340.20 409.87 119.49)" font-weight="bold">60%</text>
<line x1="408.10" y1="115.90" x2="406.56" y2="116.33" stroke="#000" stroke-width="0.75"/>
<text x="408.68" y="115.74" font-size="3.6" fill="#505050" text-anchor="start" dominant-baseline="central" transform="rotate(344.40 408.68 115.74)" font-weight="bold">70%</text>
<line x1="407.17" y1="112.03" x2="405.60" y2="112.35" stroke="#000" stroke-width="0.75"/>
<text x="407.76" y="111.91" font-size="3.6" fill="#505050" text-anchor="start" dominant-baseline="central" transform="rotate(348.60 407.76 111.91)" font-weight="bold">80%</text>
<line x1="406.53" y1="108.11" x2="404.94" y2="108.31" stroke="#000" stroke-width="0.75"/>
<text x="407.12" y="108.03" font-size="3.6" fill="#505050" text-anchor="start" dominant-baseline="central" transform="rotate(352.80 407.12 108.03)" font-weight="bold">90%</text>
<line x1="406.17" y1="104.14" x2="404.58" y2="104.23" stroke="#000" stroke-width="0.75"/>
<text x="406.77" y="104.11" font-size="3.6" fill="#505050" text-anchor="start" dominant-baseline="central" transform="rotate(357.00 406.77 104.11)" font-weight="bold">100%</text>
<line x1="406.11" y1="100.54" x2="404.51" y2="100.52" stroke="#000" stroke-width="0.75"/>
<text x="406.71" y="100.55" font-size="3.6" fill="#505050" text-anchor="start" dominant-baseline="central" transform="rotate(360.80 406.71 100.55)" font-weight="bold">0%</text>
<line x1="406.29" y1="96.72" x2="404.70" y2="96.58" stroke="#000" stroke-width="0.75"/>
<text x="406.89" y="96.77" font-size="3.6" fill="#505050" text-anchor="start" dominant-baseline="central" transform="rotate(364.84 406.89 96.77)" font-weight="bold">10%</text>
<line x1="406.75" y1="92.92" x2="405.17" y2="92.67" stroke="#000" stroke-width="0.75"/>
<text x="407.34" y="93.01" font-size="3.6" fill="#505050" text-anchor="start" dominant-baseline="central" transform="rotate(368.88 407.34 93.01)" font-weight="bold">20%</text>
<line x1="407.47" y1="89.16" x2="405.92" y2="88.80" stroke="#000" stroke-width="0.75"/>
<text x="408.06" y="89.29" font-size="3.6" fill="#505050" text-anchor="start" dominant-baseline="central" transform="rotate(372.92 408.06 89.29)" font-weight="bold">30%</text>
<line x1="408.46" y1="85.46" x2="406.93" y2="84.99" stroke="#000" stroke-width="0.75"/>
<text x="409.04" y="85.64" font-size="3.6" fill="#505050" text-anchor="start" dominant-baseline="central" transform="rotate(376.96 409.04 85.64)" font-weight="bold">40%</text>
<line x1="409.71" y1="81.84" x2="408.21" y2="81.27" stroke="#000" stroke-width="0.75"/>
<text x="410.27" y="82.06" font-size="3.6" fill="#505050" text-anchor="start" dominant-baseline="central" transform="rotate(381.00 410.27 82.06)" font-weight="bold">50%</text>
<line x1="411.20" y1="78.32" x2="409.75" y2="77.64" stroke="#000" stroke-width="0.75"/>
<text x="411.75" y="78.57" font-size="3.6" fill="#505050" text-anchor="start" dominant-baseline="central" transform="rotate(385.04 411.75 78.57)" font-weight="bold">60%</text>
<line x1="412.94" y1="74.91" x2="411.55" y2="74.13" stroke="#000" stroke-width="0.75"/>
<text x="413.47" y="75.20" font-size="3.6" fill="#505050" text-anchor="start" dominant-baseline="central" transform="rotate(389.08 413.47 75.20)" font-weight="bold">70%</text>
<line x1="414.92" y1="71.63" x2="413.58" y2="70.76" stroke="#000" stroke-width="0.75"/>
<text x="415.42" y="71.96" font-size="3.6" fill="#505050" text-anchor="start" dominant-baseline="central" transform="rotate(393.12 415.42 71.96)" font-weight="bold">80%</text>
<line x1="417.13" y1="68.50" x2="415.85" y2="67.53" stroke="#000" stroke-width="0.75"/>
<text x="417.60" y="68.86" font-size="3.6" fill="#505050" text-anchor="start" dominant-baseline="central" transform="rotate(397.16 417.60 68.86)" font-weight="bold">90%</text>
<line x1="419.54" y1="65.53" x2="418.34" y2="64.48" stroke="#000" stroke-width="0.75"/>
<text x="420.00" y="65.93" font-size="3.6" fill="#505050" text-anchor="start" dominant-baseline="central" transform="rotate(401.20 420.00 65.93)" font-weight="bold">100%</text>
<line x1="422.00" y1="62.90" x2="420.87" y2="61.77" stroke="#000" stroke-width="0.75"/>
<text x="422.43" y="63.33" font-size="3.6" fill="#505050" text-anchor="start" dominant-baseline="central" transform="rotate(405.00 422.43 63.33)" font-weight="bold">0%</text>
<line x1="424.88" y1="60.23" x2="423.83" y2="59.02" stroke="#000" stroke-width="0.75"/>
<text x="425.27" y="60.69" font-size="3.6" fill="#505050" text-anchor="start" dominant-baseline="central" transform="rotate(409.14 425.27 60.69)" font-weight="bold">10%</text>
<line x1="427.93" y1="57.77" x2="426.98" y2="56.49" stroke="#000" stroke-width="0.75"/>
<text x="428.29" y="58.26" font-size="3.6" fill="#505050" text-anchor="start" dominant-baseline="central" transform="rotate(413.28 428.29 58.26)" font-weight="bold">20%</text>
<line x1="431.16" y1="55.54" x2="430.30" y2="54.20" stroke="#000" stroke-width="0.75"/>
<text x="431.48" y="56.05" font-size="3.6" fill="#505050" text-anchor="start" dominant-baseline="central" transform="rotate(417.42 431.48 56.05)" font-weight="bold">30%</text>
<line x1="434.54" y1="53.55" x2="433.78" y2="52.15" stroke="#000" stroke-width="0.75"/>
<text x="434.83" y="54.08" font-size="3.6" fill="#505050" text-anchor="start" dominant-baseline="central" transform="rotate(421.56 434.83 54.08)" font-weight="bold">40%</text>
<line x1="438.05" y1="51.81" x2="437.40" y2="50.35" stroke="#000" stroke-width="0.75"/>
<text x="438.30" y="52.36" font-size="3.6" fill="#505050" text-anchor="start" dominant-baseline="central" transform="rotate(425.70 438.30 52.36)" font-weight="bold">50%</text>
<line x1="441.69" y1="50.33" x2="441.13" y2="48.82" stroke="#000" stroke-width="0.75"/>
<text x="441.89" y="50.89" font-size="3.6" fill="#505050" text-anchor="start" dominant-baseline="central" transform="rotate(429.84 441.89 50.89)" font-weight="bold">60%</text>
<line x1="445.41" y1="49.11" x2="444.97" y2="47.57" stroke="#000" stroke-width="0.75"/>
<text x="445.58" y="49.69" font-size="3.6" fill="#505050" text-anchor="start" dominant-baseline="central" transform="rotate(433.98 445.58 49.69)" font-weight="bold">70%</text>
<line x1="449.22" y1="48.16" x2="448.89" y2="46.60" stroke="#000" stroke-width="0.75"/>
<text x="449.35" y="48.75" font-size="3.6" fill="#505050" text-anchor="start" dominant-baseline="central" transform="rotate(438.12 449.35 48.75)" font-weight="bold">80%</text>
<line x1="453.09" y1="47.49" x2="452.87" y2="45.91" stroke="#000" stroke-width="0.75"/>
<text x="453.17" y="48.09" font-size="3.6" fill="#505050" text-anchor="start" dominant-baseline="central" transform="rotate(442.26 453.17 48.09)" font-weight="bold">90%</text>
<line x1="456.99" y1="47.11" x2="456.89" y2="45.51" stroke="#000" stroke-width="0.75"/>
<text x="457.03" y="47.71" font-size="3.6" fill="#505050" text-anchor="start" dominant-baseline="central" transform="rotate(446.40 457.03 47.71)" font-weight="bold">100%</text>
<text x="533.01" y="80.62" font-size="3.9" fill="#333" text-anchor="start" dominant-baseline="central" transform="rotate(-15.90 533.01 80.62)" >Ascomycota</text>
<text x="487.64" y="171.71" font-size="3.9" fill="#333" text-anchor="start" dominant-baseline="central" transform="rotate(68.85 487.64 171.71)" >Basidiomycota</text>
<text x="473.12" y="175.72" font-size="3.9" fill="#333" text-anchor="start" dominant-baseline="central" transform="rotate(80.30 473.12 175.72)" >Others</text>
<text x="466.32" y="176.57" font-size="3.9" fill="#333" text-anchor="start" dominant-baseline="central" transform="rotate(85.50 466.32 176.57)" >Mortierellomycota</text>
<text x="462.90" y="176.76" font-size="3.9" fill="#333" text-anchor="start" dominant-baseline="central" transform="rotate(88.10 462.90 176.76)" >others</text>
<text x="431.80" y="172.79" font-size="5" fill="#333" text-anchor="middle" dominant-baseline="central" transform="rotate(291.80 431.80 172.79)" >CK</text>
<text x="390.06" y="132.62" font-size="5" fill="#333" text-anchor="middle" dominant-baseline="central" transform="rotate(336.00 390.06 132.62)" >XS</text>
<text x="388.51" y="73.71" font-size="5" fill="#333" text-anchor="middle" dominant-baseline="central" transform="rotate(381.00 388.51 73.71)" >XX</text>
<text x="428.71" y="31.12" font-size="5" fill="#333" text-anchor="middle" dominant-baseline="central" transform="rotate(425.70 428.71 31.12)" >ZS</text>
<rect x="52.60" y="250.10" width="5.68" height="4.72" fill="#c5c5ff"/>
<rect x="57.93" y="250.10" width="5.68" height="4.72" fill="#c5c5ff"/>
<rect x="63.26" y="250.10" width="5.68" height="4.72" fill="#ffc5c5"/>
<rect x="68.59" y="250.10" width="5.68" height="4.72" fill="#ffe8e8"/>
<rect x="73.92" y="250.10" width="5.68" height="4.72" fill="#ffe8e8"/>
<rect x="79.25" y="250.10" width="5.68" height="4.72" fill="#f4f4ff"/>
<rect x="84.58" y="250.10" width="5.68" height="4.72" fill="#ffffff"/>
<rect x="89.91" y="250.10" width="5.68" height="4.72" fill="#dbdbff"/>
<rect x="95.24" y="250.10" width="5.68" height="4.72" fill="#4d4dff"/>
<rect x="100.57" y="250.10" width="5.68" height="4.72" fill="#ff6b6b"/>
<rect x="105.90" y="250.10" width="5.68" height="4.72" fill="#c5c5ff"/>
<rect x="111.23" y="250.10" width="5.68" height="4.72" fill="#b5b5ff"/>
<rect x="116.56" y="250.10" width="5.68" height="4.72" fill="#6b6bff"/>
<rect x="121.89" y="250.10" width="5.68" height="4.72" fill="#c5c5ff"/>
<rect x="127.22" y="250.10" width="5.68" height="4.72" fill="#ff6b6b"/>
<rect x="132.55" y="250.10" width="5.68" height="4.72" fill="#ff6b6b"/>
<rect x="52.60" y="254.47" width="5.68" height="4.72" fill="#ffc5c5"/>
<rect x="57.93" y="254.47" width="5.68" height="4.72" fill="#4d4dff"/>
<rect x="63.26" y="254.47" width="5.68" height="4.72" fill="#dbdbff"/>
<rect x="68.59" y="254.47" width="5.68" height="4.72" fill="#ffdbdb"/>
<rect x="73.92" y="254.47" width="5.68" height="4.72" fill="#ffe8e8"/>
<rect x="79.25" y="254.47" width="5.68" height="4.72" fill="#ffd4d4"/>
<rect x="84.58" y="254.47" width="5.68" height="4.72" fill="#ffd4d4"/>
<rect x="89.91" y="254.47" width="5.68" height="4.72" fill="#dbdbff"/>
<rect x="95.24" y="254.47" width="5.68" height="4.72" fill="#4d4dff"/>
<rect x="100.57" y="254.47" width="5.68" height="4.72" fill="#c5c5ff"/>
<rect x="105.90" y="254.47" width="5.68" height="4.72" fill="#e8e8ff"/>
<rect x="111.23" y="254.47" width="5.68" height="4.72" fill="#ffc5c5"/>
<rect x="116.56" y="254.47" width="5.68" height="4.72" fill="#9b9bff"/>
<rect x="121.89" y="254.47" width="5.68" height="4.72" fill="#c5c5ff"/>
<rect x="127.22" y="254.47" width="5.68" height="4.72" fill="#ff9b9b"/>
<rect x="132.55" y="254.47" width="5.68" height="4.72" fill="#ff6b6b"/>
<rect x="52.60" y="258.84" width="5.68" height="4.72" fill="#9b9bff"/>
<rect x="57.93" y="258.84" width="5.68" height="4.72" fill="#0000ff"/>
<rect x="63.26" y="258.84" width="5.68" height="4.72" fill="#c5c5ff"/>
<rect x="68.59" y="258.84" width="5.68" height="4.72" fill="#c5c5ff"/>
<rect x="73.92" y="258.84" width="5.68" height="4.72" fill="#ff7f7f"/>
<rect x="79.25" y="258.84" width="5.68" height="4.72" fill="#fff4f4"/>
<rect x="84.58" y="258.84" width="5.68" height="4.72" fill="#ffc5c5"/>
<rect x="89.91" y="258.84" width="5.68" height="4.72" fill="#e8e8ff"/>
<rect x="95.24" y="258.84" width="5.68" height="4.72" fill="#adadff"/>
<rect x="100.57" y="258.84" width="5.68" height="4.72" fill="#f4f4ff"/>
<rect x="105.90" y="258.84" width="5.68" height="4.72" fill="#ffd4d4"/>
<rect x="111.23" y="258.84" width="5.68" height="4.72" fill="#fff4f4"/>
<rect x="116.56" y="258.84" width="5.68" height="4.72" fill="#ffc5c5"/>
<rect x="121.89" y="258.84" width="5.68" height="4.72" fill="#fff4f4"/>
<rect x="127.22" y="258.84" width="5.68" height="4.72" fill="#ffd4d4"/>
<rect x="132.55" y="258.84" width="5.68" height="4.72" fill="#ff7f7f"/>
<rect x="52.60" y="263.21" width="5.68" height="4.72" fill="#c5c5ff"/>
<rect x="57.93" y="263.21" width="5.68" height="4.72" fill="#4d4dff"/>
<rect x="63.26" y="263.21" width="5.68" height="4.72" fill="#dbdbff"/>
<rect x="68.59" y="263.21" width="5.68" height="4.72" fill="#6b6bff"/>
<rect x="73.92" y="263.21" width="5.68" height="4.72" fill="#e8e8ff"/>
<rect x="79.25" y="263.21" width="5.68" height="4.72" fill="#fff4f4"/>
<rect x="84.58" y="263.21" width="5.68" height="4.72" fill="#f4f4ff"/>
<rect x="89.91" y="263.21" width="5.68" height="4.72" fill="#ffdbdb"/>
<rect x="95.24" y="263.21" width="5.68" height="4.72" fill="#dbdbff"/>
<rect x="100.57" y="263.21" width="5.68" height="4.72" fill="#ffffff"/>
<rect x="105.90" y="263.21" width="5.68" height="4.72" fill="#ffc5c5"/>
<rect x="111.23" y="263.21" width="5.68" height="4.72" fill="#ffb5b5"/>
<rect x="116.56" y="263.21" width="5.68" height="4.72" fill="#dbdbff"/>
<rect x="121.89" y="263.21" width="5.68" height="4.72" fill="#ffffff"/>
<rect x="127.22" y="263.21" width="5.68" height="4.72" fill="#ff1717"/>
<rect x="132.55" y="263.21" width="5.68" height="4.72" fill="#ffe8e8"/>
<rect x="52.60" y="267.58" width="5.68" height="4.72" fill="#3838ff"/>
<rect x="57.93" y="267.58" width="5.68" height="4.72" fill="#c5c5ff"/>
<rect x="63.26" y="267.58" width="5.68" height="4.72" fill="#c5c5ff"/>
<rect x="68.59" y="267.58" width="5.68" height="4.72" fill="#ffd4d4"/>
<rect x="73.92" y="267.58" width="5.68" height="4.72" fill="#ffb5b5"/>
<rect x="79.25" y="267.58" width="5.68" height="4.72" fill="#fff4f4"/>
<rect x="84.58" y="267.58" width="5.68" height="4.72" fill="#ff9b9b"/>
<rect x="89.91" y="267.58" width="5.68" height="4.72" fill="#adadff"/>
<rect x="95.24" y="267.58" width="5.68" height="4.72" fill="#9b9bff"/>
<rect x="100.57" y="267.58" width="5.68" height="4.72" fill="#adadff"/>
<rect x="105.90" y="267.58" width="5.68" height="4.72" fill="#ffb5b5"/>
<rect x="111.23" y="267.58" width="5.68" height="4.72" fill="#ffc5c5"/>
<rect x="116.56" y="267.58" width="5.68" height="4.72" fill="#9b9bff"/>
<rect x="121.89" y="267.58" width="5.68" height="4.72" fill="#f4f4ff"/>
<rect x="127.22" y="267.58" width="5.68" height="4.72" fill="#ff6b6b"/>
<rect x="132.55" y="267.58" width="5.68" height="4.72" fill="#e8e8ff"/>
<rect x="52.60" y="271.95" width="5.68" height="4.72" fill="#9b9bff"/>
<rect x="57.93" y="271.95" width="5.68" height="4.72" fill="#7f7fff"/>
<rect x="63.26" y="271.95" width="5.68" height="4.72" fill="#c5c5ff"/>
<rect x="68.59" y="271.95" width="5.68" height="4.72" fill="#fff4f4"/>
<rect x="73.92" y="271.95" width="5.68" height="4.72" fill="#fff4f4"/>
<rect x="79.25" y="271.95" width="5.68" height="4.72" fill="#ffe8e8"/>
<rect x="84.58" y="271.95" width="5.68" height="4.72" fill="#ffc5c5"/>
<rect x="89.91" y="271.95" width="5.68" height="4.72" fill="#c5c5ff"/>
<rect x="95.24" y="271.95" width="5.68" height="4.72" fill="#4d4dff"/>
<rect x="100.57" y="271.95" width="5.68" height="4.72" fill="#e8e8ff"/>
<rect x="105.90" y="271.95" width="5.68" height="4.72" fill="#dbdbff"/>
<rect x="111.23" y="271.95" width="5.68" height="4.72" fill="#ffd4d4"/>
<rect x="116.56" y="271.95" width="5.68" height="4.72" fill="#ffc5c5"/>
<rect x="121.89" y="271.95" width="5.68" height="4.72" fill="#ffe8e8"/>
<rect x="127.22" y="271.95" width="5.68" height="4.72" fill="#ff1717"/>
<rect x="132.55" y="271.95" width="5.68" height="4.72" fill="#ffd4d4"/>
<rect x="52.60" y="276.32" width="5.68" height="4.72" fill="#c5c5ff"/>
<rect x="57.93" y="276.32" width="5.68" height="4.72" fill="#b5b5ff"/>
<rect x="63.26" y="276.32" width="5.68" height="4.72" fill="#e8e8ff"/>
<rect x="68.59" y="276.32" width="5.68" height="4.72" fill="#e8e8ff"/>
<rect x="73.92" y="276.32" width="5.68" height="4.72" fill="#ffffff"/>
<rect x="79.25" y="276.32" width="5.68" height="4.72" fill="#ffd4d4"/>
<rect x="84.58" y="276.32" width="5.68" height="4.72" fill="#f4f4ff"/>
<rect x="89.91" y="276.32" width="5.68" height="4.72" fill="#c5c5ff"/>
<rect x="95.24" y="276.32" width="5.68" height="4.72" fill="#8989ff"/>
<rect x="100.57" y="276.32" width="5.68" height="4.72" fill="#dbdbff"/>
<rect x="105.90" y="276.32" width="5.68" height="4.72" fill="#3838ff"/>
<rect x="111.23" y="276.32" width="5.68" height="4.72" fill="#ff6b6b"/>
<rect x="116.56" y="276.32" width="5.68" height="4.72" fill="#ff4d4d"/>
<rect x="121.89" y="276.32" width="5.68" height="4.72" fill="#ffc5c5"/>
<rect x="127.22" y="276.32" width="5.68" height="4.72" fill="#ffe8e8"/>
<rect x="132.55" y="276.32" width="5.68" height="4.72" fill="#ffffff"/>
<rect x="52.60" y="280.69" width="5.68" height="4.72" fill="#5757ff"/>
<rect x="57.93" y="280.69" width="5.68" height="4.72" fill="#7f7fff"/>
<rect x="63.26" y="280.69" width="5.68" height="4.72" fill="#c5c5ff"/>
<rect x="68.59" y="280.69" width="5.68" height="4.72" fill="#d4d4ff"/>
<rect x="73.92" y="280.69" width="5.68" height="4.72" fill="#adadff"/>
<rect x="79.25" y="280.69" width="5.68" height="4.72" fill="#d4d4ff"/>
<rect x="84.58" y="280.69" width="5.68" height="4.72" fill="#fff4f4"/>
<rect x="89.91" y="280.69" width="5.68" height="4.72" fill="#dbdbff"/>
<rect x="95.24" y="280.69" width="5.68" height="4.72" fill="#dbdbff"/>
<rect x="100.57" y="280.69" width="5.68" height="4.72" fill="#ffffff"/>
<rect x="105.90" y="280.69" width="5.68" height="4.72" fill="#ffadad"/>
<rect x="111.23" y="280.69" width="5.68" height="4.72" fill="#ff7f7f"/>
<rect x="116.56" y="280.69" width="5.68" height="4.72" fill="#ff6b6b"/>
<rect x="121.89" y="280.69" width="5.68" height="4.72" fill="#ffb5b5"/>
<rect x="127.22" y="280.69" width="5.68" height="4.72" fill="#ffd4d4"/>
<rect x="132.55" y="280.69" width="5.68" height="4.72" fill="#f4f4ff"/>
<rect x="52.60" y="285.06" width="5.68" height="4.72" fill="#d4d4ff"/>
<rect x="57.93" y="285.06" width="5.68" height="4.72" fill="#e8e8ff"/>
<rect x="63.26" y="285.06" width="5.68" height="4.72" fill="#b5b5ff"/>
<rect x="68.59" y="285.06" width="5.68" height="4.72" fill="#dbdbff"/>
<rect x="73.92" y="285.06" width="5.68" height="4.72" fill="#dbdbff"/>
<rect x="79.25" y="285.06" width="5.68" height="4.72" fill="#e8e8ff"/>
<rect x="84.58" y="285.06" width="5.68" height="4.72" fill="#dbdbff"/>
<rect x="89.91" y="285.06" width="5.68" height="4.72" fill="#fff4f4"/>
<rect x="95.24" y="285.06" width="5.68" height="4.72" fill="#d4d4ff"/>
<rect x="100.57" y="285.06" width="5.68" height="4.72" fill="#ffffff"/>
<rect x="105.90" y="285.06" width="5.68" height="4.72" fill="#e8e8ff"/>
<rect x="111.23" y="285.06" width="5.68" height="4.72" fill="#ff4d4d"/>
<rect x="116.56" y="285.06" width="5.68" height="4.72" fill="#ff4d4d"/>
<rect x="121.89" y="285.06" width="5.68" height="4.72" fill="#ffadad"/>
<rect x="127.22" y="285.06" width="5.68" height="4.72" fill="#ffffff"/>
<rect x="132.55" y="285.06" width="5.68" height="4.72" fill="#c5c5ff"/>
<rect x="52.60" y="289.43" width="5.68" height="4.72" fill="#adadff"/>
<rect x="57.93" y="289.43" width="5.68" height="4.72" fill="#ff7f7f"/>
<rect x="63.26" y="289.43" width="5.68" height="4.72" fill="#adadff"/>
<rect x="68.59" y="289.43" width="5.68" height="4.72" fill="#d4d4ff"/>
<rect x="73.92" y="289.43" width="5.68" height="4.72" fill="#e8e8ff"/>
<rect x="79.25" y="289.43" width="5.68" height="4.72" fill="#c5c5ff"/>
<rect x="84.58" y="289.43" width="5.68" height="4.72" fill="#d4d4ff"/>
<rect x="89.91" y="289.43" width="5.68" height="4.72" fill="#ffffff"/>
<rect x="95.24" y="289.43" width="5.68" height="4.72" fill="#d4d4ff"/>
<rect x="100.57" y="289.43" width="5.68" height="4.72" fill="#fff4f4"/>
<rect x="105.90" y="289.43" width="5.68" height="4.72" fill="#fff4f4"/>
<rect x="111.23" y="289.43" width="5.68" height="4.72" fill="#ff7f7f"/>
<rect x="116.56" y="289.43" width="5.68" height="4.72" fill="#ff7f7f"/>
<rect x="121.89" y="289.43" width="5.68" height="4.72" fill="#ffb5b5"/>
<rect x="127.22" y="289.43" width="5.68" height="4.72" fill="#adadff"/>
<rect x="132.55" y="289.43" width="5.68" height="4.72" fill="#ffffff"/>
<rect x="52.60" y="293.80" width="5.68" height="4.72" fill="#b5b5ff"/>
<rect x="57.93" y="293.80" width="5.68" height="4.72" fill="#ffdbdb"/>
<rect x="63.26" y="293.80" width="5.68" height="4.72" fill="#adadff"/>
<rect x="68.59" y="293.80" width="5.68" height="4.72" fill="#dbdbff"/>
<rect x="73.92" y="293.80" width="5.68" height="4.72" fill="#ffffff"/>
<rect x="79.25" y="293.80" width="5.68" height="4.72" fill="#adadff"/>
<rect x="84.58" y="293.80" width="5.68" height="4.72" fill="#d4d4ff"/>
<rect x="89.91" y="293.80" width="5.68" height="4.72" fill="#e8e8ff"/>
<rect x="95.24" y="293.80" width="5.68" height="4.72" fill="#c5c5ff"/>
<rect x="100.57" y="293.80" width="5.68" height="4.72" fill="#ffb5b5"/>
<rect x="105.90" y="293.80" width="5.68" height="4.72" fill="#ffc5c5"/>
<rect x="111.23" y="293.80" width="5.68" height="4.72" fill="#ff9b9b"/>
<rect x="116.56" y="293.80" width="5.68" height="4.72" fill="#ff4d4d"/>
<rect x="121.89" y="293.80" width="5.68" height="4.72" fill="#ff9b9b"/>
<rect x="127.22" y="293.80" width="5.68" height="4.72" fill="#d4d4ff"/>
<rect x="132.55" y="293.80" width="5.68" height="4.72" fill="#e8e8ff"/>
<rect x="52.60" y="298.17" width="5.68" height="4.72" fill="#ffffff"/>
<rect x="57.93" y="298.17" width="5.68" height="4.72" fill="#ffc5c5"/>
<rect x="63.26" y="298.17" width="5.68" height="4.72" fill="#d4d4ff"/>
<rect x="68.59" y="298.17" width="5.68" height="4.72" fill="#dbdbff"/>
<rect x="73.92" y="298.17" width="5.68" height="4.72" fill="#d4d4ff"/>
<rect x="79.25" y="298.17" width="5.68" height="4.72" fill="#c5c5ff"/>
<rect x="84.58" y="298.17" width="5.68" height="4.72" fill="#c5c5ff"/>
<rect x="89.91" y="298.17" width="5.68" height="4.72" fill="#d4d4ff"/>
<rect x="95.24" y="298.17" width="5.68" height="4.72" fill="#6b6bff"/>
<rect x="100.57" y="298.17" width="5.68" height="4.72" fill="#f4f4ff"/>
<rect x="105.90" y="298.17" width="5.68" height="4.72" fill="#b5b5ff"/>
<rect x="111.23" y="298.17" width="5.68" height="4.72" fill="#ff9b9b"/>
<rect x="116.56" y="298.17" width="5.68" height="4.72" fill="#ff6b6b"/>
<rect x="121.89" y="298.17" width="5.68" height="4.72" fill="#ff7f7f"/>
<rect x="127.22" y="298.17" width="5.68" height="4.72" fill="#e8e8ff"/>
<rect x="132.55" y="298.17" width="5.68" height="4.72" fill="#ffc5c5"/>
<rect x="52.60" y="302.54" width="5.68" height="4.72" fill="#f4f4ff"/>
<rect x="57.93" y="302.54" width="5.68" height="4.72" fill="#ffffff"/>
<rect x="63.26" y="302.54" width="5.68" height="4.72" fill="#b5b5ff"/>
<rect x="68.59" y="302.54" width="5.68" height="4.72" fill="#dbdbff"/>
<rect x="73.92" y="302.54" width="5.68" height="4.72" fill="#d4d4ff"/>
<rect x="79.25" y="302.54" width="5.68" height="4.72" fill="#6b6bff"/>
<rect x="84.58" y="302.54" width="5.68" height="4.72" fill="#d4d4ff"/>
<rect x="89.91" y="302.54" width="5.68" height="4.72" fill="#e8e8ff"/>
<rect x="95.24" y="302.54" width="5.68" height="4.72" fill="#1717ff"/>
<rect x="100.57" y="302.54" width="5.68" height="4.72" fill="#ffe8e8"/>
<rect x="105.90" y="302.54" width="5.68" height="4.72" fill="#ffffff"/>
<rect x="111.23" y="302.54" width="5.68" height="4.72" fill="#ff4d4d"/>
<rect x="116.56" y="302.54" width="5.68" height="4.72" fill="#ff9b9b"/>
<rect x="121.89" y="302.54" width="5.68" height="4.72" fill="#ffc5c5"/>
<rect x="127.22" y="302.54" width="5.68" height="4.72" fill="#ffc5c5"/>
<rect x="132.55" y="302.54" width="5.68" height="4.72" fill="#ffc5c5"/>
<rect x="52.60" y="306.91" width="5.68" height="4.72" fill="#6b6bff"/>
<rect x="57.93" y="306.91" width="5.68" height="4.72" fill="#ff3838"/>
<rect x="63.26" y="306.91" width="5.68" height="4.72" fill="#c5c5ff"/>
<rect x="68.59" y="306.91" width="5.68" height="4.72" fill="#e8e8ff"/>
<rect x="73.92" y="306.91" width="5.68" height="4.72" fill="#7f7fff"/>
<rect x="79.25" y="306.91" width="5.68" height="4.72" fill="#fff4f4"/>
<rect x="84.58" y="306.91" width="5.68" height="4.72" fill="#e8e8ff"/>
<rect x="89.91" y="306.91" width="5.68" height="4.72" fill="#7f7fff"/>
<rect x="95.24" y="306.91" width="5.68" height="4.72" fill="#adadff"/>
<rect x="100.57" y="306.91" width="5.68" height="4.72" fill="#f4f4ff"/>
<rect x="105.90" y="306.91" width="5.68" height="4.72" fill="#ffb5b5"/>
<rect x="111.23" y="306.91" width="5.68" height="4.72" fill="#fff4f4"/>
<rect x="116.56" y="306.91" width="5.68" height="4.72" fill="#ffdbdb"/>
<rect x="121.89" y="306.91" width="5.68" height="4.72" fill="#fff4f4"/>
<rect x="127.22" y="306.91" width="5.68" height="4.72" fill="#ffffff"/>
<rect x="132.55" y="306.91" width="5.68" height="4.72" fill="#ffadad"/>
<rect x="52.60" y="311.28" width="5.68" height="4.72" fill="#5757ff"/>
<rect x="57.93" y="311.28" width="5.68" height="4.72" fill="#ff3838"/>
<rect x="63.26" y="311.28" width="5.68" height="4.72" fill="#ffd4d4"/>
<rect x="68.59" y="311.28" width="5.68" height="4.72" fill="#ffe8e8"/>
<rect x="73.92" y="311.28" width="5.68" height="4.72" fill="#ffadad"/>
<rect x="79.25" y="311.28" width="5.68" height="4.72" fill="#ffd4d4"/>
<rect x="84.58" y="311.28" width="5.68" height="4.72" fill="#fff8f8"/>
<rect x="89.91" y="311.28" width="5.68" height="4.72" fill="#f4f4ff"/>
<rect x="95.24" y="311.28" width="5.68" height="4.72" fill="#dbdbff"/>
<rect x="100.57" y="311.28" width="5.68" height="4.72" fill="#4d4dff"/>
<rect x="105.90" y="311.28" width="5.68" height="4.72" fill="#dbdbff"/>
<rect x="111.23" y="311.28" width="5.68" height="4.72" fill="#dbdbff"/>
<rect x="116.56" y="311.28" width="5.68" height="4.72" fill="#fff4f4"/>
<rect x="121.89" y="311.28" width="5.68" height="4.72" fill="#ffe8e8"/>
<rect x="127.22" y="311.28" width="5.68" height="4.72" fill="#4d4dff"/>
<rect x="132.55" y="311.28" width="5.68" height="4.72" fill="#f4f4ff"/>
<rect x="52.60" y="315.65" width="5.68" height="4.72" fill="#3838ff"/>
<rect x="57.93" y="315.65" width="5.68" height="4.72" fill="#ff3838"/>
<rect x="63.26" y="315.65" width="5.68" height="4.72" fill="#ffd4d4"/>
<rect x="68.59" y="315.65" width="5.68" height="4.72" fill="#ffdbdb"/>
<rect x="73.92" y="315.65" width="5.68" height="4.72" fill="#fff4f4"/>
<rect x="79.25" y="315.65" width="5.68" height="4.72" fill="#fff4f4"/>
<rect x="84.58" y="315.65" width="5.68" height="4.72" fill="#f4f4ff"/>
<rect x="89.91" y="315.65" width="5.68" height="4.72" fill="#e8e8ff"/>
<rect x="95.24" y="315.65" width="5.68" height="4.72" fill="#b5b5ff"/>
<rect x="100.57" y="315.65" width="5.68" height="4.72" fill="#3838ff"/>
<rect x="105.90" y="315.65" width="5.68" height="4.72" fill="#f4f4ff"/>
<rect x="111.23" y="315.65" width="5.68" height="4.72" fill="#fff4f4"/>
<rect x="116.56" y="315.65" width="5.68" height="4.72" fill="#7f7fff"/>
<rect x="121.89" y="315.65" width="5.68" height="4.72" fill="#ffd4d4"/>
<rect x="127.22" y="315.65" width="5.68" height="4.72" fill="#ffc5c5"/>
<rect x="132.55" y="315.65" width="5.68" height="4.72" fill="#ffffff"/>
<rect x="52.60" y="320.02" width="5.68" height="4.72" fill="#ff0000"/>
<rect x="57.93" y="320.02" width="5.68" height="4.72" fill="#adadff"/>
<rect x="63.26" y="320.02" width="5.68" height="4.72" fill="#f4f4ff"/>
<rect x="68.59" y="320.02" width="5.68" height="4.72" fill="#f4f4ff"/>
<rect x="73.92" y="320.02" width="5.68" height="4.72" fill="#e8e8ff"/>
<rect x="79.25" y="320.02" width="5.68" height="4.72" fill="#fff4f4"/>
<rect x="84.58" y="320.02" width="5.68" height="4.72" fill="#fff4f4"/>
<rect x="89.91" y="320.02" width="5.68" height="4.72" fill="#e8e8ff"/>
<rect x="95.24" y="320.02" width="5.68" height="4.72" fill="#d4d4ff"/>
<rect x="100.57" y="320.02" width="5.68" height="4.72" fill="#f4f4ff"/>
<rect x="105.90" y="320.02" width="5.68" height="4.72" fill="#d4d4ff"/>
<rect x="111.23" y="320.02" width="5.68" height="4.72" fill="#e8e8ff"/>
<rect x="116.56" y="320.02" width="5.68" height="4.72" fill="#f4f4ff"/>
<rect x="121.89" y="320.02" width="5.68" height="4.72" fill="#f4f4ff"/>
<rect x="127.22" y="320.02" width="5.68" height="4.72" fill="#ffffff"/>
<rect x="132.55" y="320.02" width="5.68" height="4.72" fill="#d4d4ff"/>
<rect x="52.60" y="324.39" width="5.68" height="4.72" fill="#ff0000"/>
<rect x="57.93" y="324.39" width="5.68" height="4.72" fill="#ffd4d4"/>
<rect x="63.26" y="324.39" width="5.68" height="4.72" fill="#e8e8ff"/>
<rect x="68.59" y="324.39" width="5.68" height="4.72" fill="#e8e8ff"/>
<rect x="73.92" y="324.39" width="5.68" height="4.72" fill="#f4f4ff"/>
<rect x="79.25" y="324.39" width="5.68" height="4.72" fill="#fff4f4"/>
<rect x="84.58" y="324.39" width="5.68" height="4.72" fill="#f4f4ff"/>
<rect x="89.91" y="324.39" width="5.68" height="4.72" fill="#f4f4ff"/>
<rect x="95.24" y="324.39" width="5.68" height="4.72" fill="#ffc5c5"/>
<rect x="100.57" y="324.39" width="5.68" height="4.72" fill="#e8e8ff"/>
<rect x="105.90" y="324.39" width="5.68" height="4.72" fill="#d4d4ff"/>
<rect x="111.23" y="324.39" width="5.68" height="4.72" fill="#b5b5ff"/>
<rect x="116.56" y="324.39" width="5.68" height="4.72" fill="#b5b5ff"/>
<rect x="121.89" y="324.39" width="5.68" height="4.72" fill="#f4f4ff"/>
<rect x="127.22" y="324.39" width="5.68" height="4.72" fill="#adadff"/>
<rect x="132.55" y="324.39" width="5.68" height="4.72" fill="#d4d4ff"/>
<rect x="52.60" y="328.76" width="5.68" height="4.72" fill="#ffc5c5"/>
<rect x="57.93" y="328.76" width="5.68" height="4.72" fill="#ffc5c5"/>
<rect x="63.26" y="328.76" width="5.68" height="4.72" fill="#ffadad"/>
<rect x="68.59" y="328.76" width="5.68" height="4.72" fill="#ff7f7f"/>
<rect x="73.92" y="328.76" width="5.68" height="4.72" fill="#dbdbff"/>
<rect x="79.25" y="328.76" width="5.68" height="4.72" fill="#e8e8ff"/>
<rect x="84.58" y="328.76" width="5.68" height="4.72" fill="#c5c5ff"/>
<rect x="89.91" y="328.76" width="5.68" height="4.72" fill="#ffb5b5"/>
<rect x="95.24" y="328.76" width="5.68" height="4.72" fill="#dbdbff"/>
<rect x="100.57" y="328.76" width="5.68" height="4.72" fill="#c5c5ff"/>
<rect x="105.90" y="328.76" width="5.68" height="4.72" fill="#dbdbff"/>
<rect x="111.23" y="328.76" width="5.68" height="4.72" fill="#fff4f4"/>
<rect x="116.56" y="328.76" width="5.68" height="4.72" fill="#ffdbdb"/>
<rect x="121.89" y="328.76" width="5.68" height="4.72" fill="#f4f4ff"/>
<rect x="127.22" y="328.76" width="5.68" height="4.72" fill="#3838ff"/>
<rect x="132.55" y="328.76" width="5.68" height="4.72" fill="#adadff"/>
<rect x="52.60" y="333.13" width="5.68" height="4.72" fill="#ffb5b5"/>
<rect x="57.93" y="333.13" width="5.68" height="4.72" fill="#ffe8e8"/>
<rect x="63.26" y="333.13" width="5.68" height="4.72" fill="#fff4f4"/>
<rect x="68.59" y="333.13" width="5.68" height="4.72" fill="#ff7f7f"/>
<rect x="73.92" y="333.13" width="5.68" height="4.72" fill="#dbdbff"/>
<rect x="79.25" y="333.13" width="5.68" height="4.72" fill="#fff4f4"/>
<rect x="84.58" y="333.13" width="5.68" height="4.72" fill="#d4d4ff"/>
<rect x="89.91" y="333.13" width="5.68" height="4.72" fill="#ffdbdb"/>
<rect x="95.24" y="333.13" width="5.68" height="4.72" fill="#ffadad"/>
<rect x="100.57" y="333.13" width="5.68" height="4.72" fill="#e8e8ff"/>
<rect x="105.90" y="333.13" width="5.68" height="4.72" fill="#ffb5b5"/>
<rect x="111.23" y="333.13" width="5.68" height="4.72" fill="#9b9bff"/>
<rect x="116.56" y="333.13" width="5.68" height="4.72" fill="#9b9bff"/>
<rect x="121.89" y="333.13" width="5.68" height="4.72" fill="#b5b5ff"/>
<rect x="127.22" y="333.13" width="5.68" height="4.72" fill="#7f7fff"/>
<rect x="132.55" y="333.13" width="5.68" height="4.72" fill="#c5c5ff"/>
<rect x="52.60" y="337.50" width="5.68" height="4.72" fill="#7f7fff"/>
<rect x="57.93" y="337.50" width="5.68" height="4.72" fill="#adadff"/>
<rect x="63.26" y="337.50" width="5.68" height="4.72" fill="#ffd4d4"/>
<rect x="68.59" y="337.50" width="5.68" height="4.72" fill="#ffb5b5"/>
<rect x="73.92" y="337.50" width="5.68" height="4.72" fill="#ffc5c5"/>
<rect x="79.25" y="337.50" width="5.68" height="4.72" fill="#ffc5c5"/>
<rect x="84.58" y="337.50" width="5.68" height="4.72" fill="#ffdbdb"/>
<rect x="89.91" y="337.50" width="5.68" height="4.72" fill="#ff9b9b"/>
<rect x="95.24" y="337.50" width="5.68" height="4.72" fill="#ffadad"/>
<rect x="100.57" y="337.50" width="5.68" height="4.72" fill="#6b6bff"/>
<rect x="105.90" y="337.50" width="5.68" height="4.72" fill="#e8e8ff"/>
<rect x="111.23" y="337.50" width="5.68" height="4.72" fill="#dbdbff"/>
<rect x="116.56" y="337.50" width="5.68" height="4.72" fill="#b5b5ff"/>
<rect x="121.89" y="337.50" width="5.68" height="4.72" fill="#c5c5ff"/>
<rect x="127.22" y="337.50" width="5.68" height="4.72" fill="#d4d4ff"/>
<rect x="132.55" y="337.50" width="5.68" height="4.72" fill="#ffe8e8"/>
<rect x="52.60" y="341.87" width="5.68" height="4.72" fill="#0000ff"/>
<rect x="57.93" y="341.87" width="5.68" height="4.72" fill="#f4f4ff"/>
<rect x="63.26" y="341.87" width="5.68" height="4.72" fill="#ffd4d4"/>
<rect x="68.59" y="341.87" width="5.68" height="4.72" fill="#ffe8e8"/>
<rect x="73.92" y="341.87" width="5.68" height="4.72" fill="#fff4f4"/>
<rect x="79.25" y="341.87" width="5.68" height="4.72" fill="#ff7f7f"/>
<rect x="84.58" y="341.87" width="5.68" height="4.72" fill="#ffd4d4"/>
<rect x="89.91" y="341.87" width="5.68" height="4.72" fill="#ffd4d4"/>
<rect x="95.24" y="341.87" width="5.68" height="4.72" fill="#ffc5c5"/>
<rect x="100.57" y="341.87" width="5.68" height="4.72" fill="#6b6bff"/>
<rect x="105.90" y="341.87" width="5.68" height="4.72" fill="#ffffff"/>
<rect x="111.23" y="341.87" width="5.68" height="4.72" fill="#f4f4ff"/>
<rect x="116.56" y="341.87" width="5.68" height="4.72" fill="#dbdbff"/>
<rect x="121.89" y="341.87" width="5.68" height="4.72" fill="#e8e8ff"/>
<rect x="127.22" y="341.87" width="5.68" height="4.72" fill="#e8e8ff"/>
<rect x="132.55" y="341.87" width="5.68" height="4.72" fill="#c5c5ff"/>
<rect x="52.60" y="346.24" width="5.68" height="4.72" fill="#e8e8ff"/>
<rect x="57.93" y="346.24" width="5.68" height="4.72" fill="#d4d4ff"/>
<rect x="63.26" y="346.24" width="5.68" height="4.72" fill="#ffadad"/>
<rect x="68.59" y="346.24" width="5.68" height="4.72" fill="#fff4f4"/>
<rect x="73.92" y="346.24" width="5.68" height="4.72" fill="#e8e8ff"/>
<rect x="79.25" y="346.24" width="5.68" height="4.72" fill="#ff6b6b"/>
<rect x="84.58" y="346.24" width="5.68" height="4.72" fill="#ffd4d4"/>
<rect x="89.91" y="346.24" width="5.68" height="4.72" fill="#fff4f4"/>
<rect x="95.24" y="346.24" width="5.68" height="4.72" fill="#ff9b9b"/>
<rect x="100.57" y="346.24" width="5.68" height="4.72" fill="#ffd4d4"/>
<rect x="105.90" y="346.24" width="5.68" height="4.72" fill="#f4f4ff"/>
<rect x="111.23" y="346.24" width="5.68" height="4.72" fill="#c5c5ff"/>
<rect x="116.56" y="346.24" width="5.68" height="4.72" fill="#6b6bff"/>
<rect x="121.89" y="346.24" width="5.68" height="4.72" fill="#c5c5ff"/>
<rect x="127.22" y="346.24" width="5.68" height="4.72" fill="#ffffff"/>
<rect x="132.55" y="346.24" width="5.68" height="4.72" fill="#0000ff"/>
<rect x="52.60" y="350.61" width="5.68" height="4.72" fill="#f4f4ff"/>
<rect x="57.93" y="350.61" width="5.68" height="4.72" fill="#adadff"/>
<rect x="63.26" y="350.61" width="5.68" height="4.72" fill="#ff1717"/>
<rect x="68.59" y="350.61" width="5.68" height="4.72" fill="#ff7f7f"/>
<rect x="73.92" y="350.61" width="5.68" height="4.72" fill="#e8e8ff"/>
<rect x="79.25" y="350.61" width="5.68" height="4.72" fill="#fff4f4"/>
<rect x="84.58" y="350.61" width="5.68" height="4.72" fill="#e8e8ff"/>
<rect x="89.91" y="350.61" width="5.68" height="4.72" fill="#fff4f4"/>
<rect x="95.24" y="350.61" width="5.68" height="4.72" fill="#ffffff"/>
<rect x="100.57" y="350.61" width="5.68" height="4.72" fill="#fff4f4"/>
<rect x="105.90" y="350.61" width="5.68" height="4.72" fill="#adadff"/>
<rect x="111.23" y="350.61" width="5.68" height="4.72" fill="#dbdbff"/>
<rect x="116.56" y="350.61" width="5.68" height="4.72" fill="#7f7fff"/>
<rect x="121.89" y="350.61" width="5.68" height="4.72" fill="#f4f4ff"/>
<rect x="127.22" y="350.61" width="5.68" height="4.72" fill="#ffe8e8"/>
<rect x="132.55" y="350.61" width="5.68" height="4.72" fill="#d4d4ff"/>
<rect x="52.60" y="354.98" width="5.68" height="4.72" fill="#d4d4ff"/>
<rect x="57.93" y="354.98" width="5.68" height="4.72" fill="#c5c5ff"/>
<rect x="63.26" y="354.98" width="5.68" height="4.72" fill="#ff6b6b"/>
<rect x="68.59" y="354.98" width="5.68" height="4.72" fill="#ff4d4d"/>
<rect x="73.92" y="354.98" width="5.68" height="4.72" fill="#fff4f4"/>
<rect x="79.25" y="354.98" width="5.68" height="4.72" fill="#ffadad"/>
<rect x="84.58" y="354.98" width="5.68" height="4.72" fill="#ffc5c5"/>
<rect x="89.91" y="354.98" width="5.68" height="4.72" fill="#fff4f4"/>
<rect x="95.24" y="354.98" width="5.68" height="4.72" fill="#adadff"/>
<rect x="100.57" y="354.98" width="5.68" height="4.72" fill="#fff4f4"/>
<rect x="105.90" y="354.98" width="5.68" height="4.72" fill="#c5c5ff"/>
<rect x="111.23" y="354.98" width="5.68" height="4.72" fill="#adadff"/>
<rect x="116.56" y="354.98" width="5.68" height="4.72" fill="#adadff"/>
<rect x="121.89" y="354.98" width="5.68" height="4.72" fill="#e8e8ff"/>
<rect x="127.22" y="354.98" width="5.68" height="4.72" fill="#adadff"/>
<rect x="132.55" y="354.98" width="5.68" height="4.72" fill="#c5c5ff"/>
<rect x="52.60" y="359.35" width="5.68" height="4.72" fill="#adadff"/>
<rect x="57.93" y="359.35" width="5.68" height="4.72" fill="#c5c5ff"/>
<rect x="63.26" y="359.35" width="5.68" height="4.72" fill="#ffc5c5"/>
<rect x="68.59" y="359.35" width="5.68" height="4.72" fill="#ffd4d4"/>
<rect x="73.92" y="359.35" width="5.68" height="4.72" fill="#4d4dff"/>
<rect x="79.25" y="359.35" width="5.68" height="4.72" fill="#e8e8ff"/>
<rect x="84.58" y="359.35" width="5.68" height="4.72" fill="#ffc5c5"/>
<rect x="89.91" y="359.35" width="5.68" height="4.72" fill="#ffe8e8"/>
<rect x="95.24" y="359.35" width="5.68" height="4.72" fill="#ffc5c5"/>
<rect x="100.57" y="359.35" width="5.68" height="4.72" fill="#d4d4ff"/>
<rect x="105.90" y="359.35" width="5.68" height="4.72" fill="#ffc5c5"/>
<rect x="111.23" y="359.35" width="5.68" height="4.72" fill="#5757ff"/>
<rect x="116.56" y="359.35" width="5.68" height="4.72" fill="#ff6b6b"/>
<rect x="121.89" y="359.35" width="5.68" height="4.72" fill="#fff4f4"/>
<rect x="127.22" y="359.35" width="5.68" height="4.72" fill="#ffe8e8"/>
<rect x="132.55" y="359.35" width="5.68" height="4.72" fill="#b5b5ff"/>
<rect x="52.60" y="363.72" width="5.68" height="4.72" fill="#0000ff"/>
<rect x="57.93" y="363.72" width="5.68" height="4.72" fill="#6b6bff"/>
<rect x="63.26" y="363.72" width="5.68" height="4.72" fill="#ffe8e8"/>
<rect x="68.59" y="363.72" width="5.68" height="4.72" fill="#ffd4d4"/>
<rect x="73.92" y="363.72" width="5.68" height="4.72" fill="#d4d4ff"/>
<rect x="79.25" y="363.72" width="5.68" height="4.72" fill="#d4d4ff"/>
<rect x="84.58" y="363.72" width="5.68" height="4.72" fill="#e8e8ff"/>
<rect x="89.91" y="363.72" width="5.68" height="4.72" fill="#ff7f7f"/>
<rect x="95.24" y="363.72" width="5.68" height="4.72" fill="#f4f4ff"/>
<rect x="100.57" y="363.72" width="5.68" height="4.72" fill="#ff9b9b"/>
<rect x="105.90" y="363.72" width="5.68" height="4.72" fill="#ffffff"/>
<rect x="111.23" y="363.72" width="5.68" height="4.72" fill="#ffffff"/>
<rect x="116.56" y="363.72" width="5.68" height="4.72" fill="#ffffff"/>
<rect x="121.89" y="363.72" width="5.68" height="4.72" fill="#ffc5c5"/>
<rect x="127.22" y="363.72" width="5.68" height="4.72" fill="#ffd4d4"/>
<rect x="132.55" y="363.72" width="5.68" height="4.72" fill="#ffd4d4"/>
<rect x="52.60" y="368.09" width="5.68" height="4.72" fill="#b5b5ff"/>
<rect x="57.93" y="368.09" width="5.68" height="4.72" fill="#6b6bff"/>
<rect x="63.26" y="368.09" width="5.68" height="4.72" fill="#ffe8e8"/>
<rect x="68.59" y="368.09" width="5.68" height="4.72" fill="#ffc5c5"/>
<rect x="73.92" y="368.09" width="5.68" height="4.72" fill="#c5c5ff"/>
<rect x="79.25" y="368.09" width="5.68" height="4.72" fill="#adadff"/>
<rect x="84.58" y="368.09" width="5.68" height="4.72" fill="#e8e8ff"/>
<rect x="89.91" y="368.09" width="5.68" height="4.72" fill="#ffadad"/>
<rect x="95.24" y="368.09" width="5.68" height="4.72" fill="#ff3838"/>
<rect x="100.57" y="368.09" width="5.68" height="4.72" fill="#ffe8e8"/>
<rect x="105.90" y="368.09" width="5.68" height="4.72" fill="#ffd4d4"/>
<rect x="111.23" y="368.09" width="5.68" height="4.72" fill="#f4f4ff"/>
<rect x="116.56" y="368.09" width="5.68" height="4.72" fill="#fff4f4"/>
<rect x="121.89" y="368.09" width="5.68" height="4.72" fill="#dbdbff"/>
<rect x="127.22" y="368.09" width="5.68" height="4.72" fill="#e8e8ff"/>
<rect x="132.55" y="368.09" width="5.68" height="4.72" fill="#9b9bff"/>
<rect x="52.60" y="372.46" width="5.68" height="4.72" fill="#b5b5ff"/>
<rect x="57.93" y="372.46" width="5.68" height="4.72" fill="#6b6bff"/>
<rect x="63.26" y="372.46" width="5.68" height="4.72" fill="#ffffff"/>
<rect x="68.59" y="372.46" width="5.68" height="4.72" fill="#fff4f4"/>
<rect x="73.92" y="372.46" width="5.68" height="4.72" fill="#c5c5ff"/>
<rect x="79.25" y="372.46" width="5.68" height="4.72" fill="#adadff"/>
<rect x="84.58" y="372.46" width="5.68" height="4.72" fill="#f4f4ff"/>
<rect x="89.91" y="372.46" width="5.68" height="4.72" fill="#ff7f7f"/>
<rect x="95.24" y="372.46" width="5.68" height="4.72" fill="#ff7f7f"/>
<rect x="100.57" y="372.46" width="5.68" height="4.72" fill="#ffe8e8"/>
<rect x="105.90" y="372.46" width="5.68" height="4.72" fill="#ffc5c5"/>
<rect x="111.23" y="372.46" width="5.68" height="4.72" fill="#f4f4ff"/>
<rect x="116.56" y="372.46" width="5.68" height="4.72" fill="#dbdbff"/>
<rect x="121.89" y="372.46" width="5.68" height="4.72" fill="#f4f4ff"/>
<rect x="127.22" y="372.46" width="5.68" height="4.72" fill="#ff6b6b"/>
<rect x="132.55" y="372.46" width="5.68" height="4.72" fill="#e8e8ff"/>
<rect x="52.60" y="376.83" width="5.68" height="4.72" fill="#adadff"/>
<rect x="57.93" y="376.83" width="5.68" height="4.72" fill="#6b6bff"/>
<rect x="63.26" y="376.83" width="5.68" height="4.72" fill="#f8f8ff"/>
<rect x="68.59" y="376.83" width="5.68" height="4.72" fill="#ffd4d4"/>
<rect x="73.92" y="376.83" width="5.68" height="4.72" fill="#dbdbff"/>
<rect x="79.25" y="376.83" width="5.68" height="4.72" fill="#d4d4ff"/>
<rect x="84.58" y="376.83" width="5.68" height="4.72" fill="#f4f4ff"/>
<rect x="89.91" y="376.83" width="5.68" height="4.72" fill="#ff6b6b"/>
<rect x="95.24" y="376.83" width="5.68" height="4.72" fill="#ffc5c5"/>
<rect x="100.57" y="376.83" width="5.68" height="4.72" fill="#fff4f4"/>
<rect x="105.90" y="376.83" width="5.68" height="4.72" fill="#fff4f4"/>
<rect x="111.23" y="376.83" width="5.68" height="4.72" fill="#ff7f7f"/>
<rect x="116.56" y="376.83" width="5.68" height="4.72" fill="#e8e8ff"/>
<rect x="121.89" y="376.83" width="5.68" height="4.72" fill="#dbdbff"/>
<rect x="127.22" y="376.83" width="5.68" height="4.72" fill="#ff6b6b"/>
<rect x="132.55" y="376.83" width="5.68" height="4.72" fill="#7f7fff"/>
<rect x="52.60" y="242.4" width="5.68" height="6.6" fill="#4DBBD5"/>
<rect x="57.93" y="242.4" width="5.68" height="6.6" fill="#00A087"/>
<rect x="63.26" y="242.4" width="5.68" height="6.6" fill="#4DBBD5"/>
<rect x="68.59" y="242.4" width="5.68" height="6.6" fill="#4DBBD5"/>
<rect x="73.92" y="242.4" width="5.68" height="6.6" fill="#00A087"/>
<rect x="79.25" y="242.4" width="5.68" height="6.6" fill="#00A087"/>
<rect x="84.58" y="242.4" width="5.68" height="6.6" fill="#00A087"/>
<rect x="89.91" y="242.4" width="5.68" height="6.6" fill="#3C5488"/>
<rect x="95.24" y="242.4" width="5.68" height="6.6" fill="#3C5488"/>
<rect x="100.57" y="242.4" width="5.68" height="6.6" fill="#4DBBD5"/>
<rect x="105.90" y="242.4" width="5.68" height="6.6" fill="#3C5488"/>
<rect x="111.23" y="242.4" width="5.68" height="6.6" fill="#E64B35"/>
<rect x="116.56" y="242.4" width="5.68" height="6.6" fill="#E64B35"/>
<rect x="121.89" y="242.4" width="5.68" height="6.6" fill="#E64B35"/>
<rect x="127.22" y="242.4" width="5.68" height="6.6" fill="#E64B35"/>
<rect x="132.55" y="242.4" width="5.68" height="6.6" fill="#3C5488"/>
<path d="M40.80,252.28L40.80,256.65M40.80,252.28L52.60,252.28M40.80,256.65L52.60,256.65M45.80,269.76L45.80,274.13M45.80,269.76L52.60,269.76M45.80,274.13L52.60,274.13M38.40,265.39L38.40,271.95M38.40,265.39L52.60,265.39M38.40,271.95L45.80,271.95M33.40,261.02L33.40,268.67M33.40,261.02L52.60,261.02M33.40,268.67L38.40,268.67M28.70,254.47L28.70,264.85M28.70,254.47L40.80,254.47M28.70,264.85L33.40,264.85M49.00,291.62L49.00,295.99M49.00,291.62L52.60,291.62M49.00,295.99L52.60,295.99M47.00,287.25L47.00,293.80M47.00,287.25L52.60,287.25M47.00,293.80L49.00,293.80M47.30,300.36L47.30,304.73M47.30,300.36L52.60,300.36M47.30,304.73L52.60,304.73M43.00,290.52L43.00,302.54M43.00,290.52L47.00,290.52M43.00,302.54L47.30,302.54M38.40,282.88L38.40,296.53M38.40,282.88L52.60,282.88M38.40,296.53L43.00,296.53M33.60,278.50L33.60,289.70M33.60,278.50L52.60,278.50M33.60,289.70L38.40,289.70M43.00,313.46L43.00,317.83M43.00,313.46L52.60,313.46M43.00,317.83L52.60,317.83M33.60,309.10L33.60,315.65M33.60,309.10L52.60,309.10M33.60,315.65L43.00,315.65M28.70,284.10L28.70,312.37M28.70,284.10L33.60,284.10M28.70,312.37L33.60,312.37M19.50,259.66L19.50,298.24M19.50,259.66L28.70,259.66M19.50,298.24L28.70,298.24M40.50,322.20L40.50,326.57M40.50,322.20L52.60,322.20M40.50,326.57L52.60,326.57M40.50,330.94L40.50,335.31M40.50,330.94L52.60,330.94M40.50,335.31L52.60,335.31M28.70,324.39L28.70,333.13M28.70,324.39L40.50,324.39M28.70,333.13L40.50,333.13M43.30,339.69L43.30,344.06M43.30,339.69L52.60,339.69M43.30,344.06L52.60,344.06M46.00,352.80L46.00,357.16M46.00,352.80L52.60,352.80M46.00,357.16L52.60,357.16M38.40,348.43L38.40,354.98M38.40,348.43L52.60,348.43M38.40,354.98L46.00,354.98M33.40,341.87L33.40,351.70M33.40,341.87L43.30,341.87M33.40,351.70L38.40,351.70M47.30,374.64L47.30,379.01M47.30,374.64L52.60,374.64M47.30,379.01L52.60,379.01M43.00,370.27L43.00,376.83M43.00,370.27L52.60,370.27M43.00,376.83L47.30,376.83M38.40,365.90L38.40,373.55M38.40,365.90L52.60,365.90M38.40,373.55L43.00,373.55M33.40,361.53L33.40,369.73M33.40,361.53L52.60,361.53M33.40,369.73L38.40,369.73M28.70,346.79L28.70,365.63M28.70,346.79L33.40,346.79M28.70,365.63L33.40,365.63M19.30,328.76L19.30,356.21M19.30,328.76L28.70,328.76M19.30,356.21L28.70,356.21M14.60,278.95L14.60,342.48M14.60,278.95L19.50,278.95M14.60,342.48L19.30,342.48" stroke="#333" stroke-width="0.85" fill="none" stroke-linecap="square"/>
<path d="M65.92,237.60L71.25,237.60M65.92,237.60L65.92,242.40M71.25,237.60L71.25,242.40M81.92,240.00L87.25,240.00M81.92,240.00L81.92,242.40M87.25,240.00L87.25,242.40M76.59,237.60L84.58,237.60M76.59,237.60L76.59,242.40M84.58,237.60L84.58,240.00M68.59,233.70L80.58,233.70M68.59,233.70L68.59,237.60M80.58,233.70L80.58,237.60M92.58,237.60L97.91,237.60M92.58,237.60L92.58,242.40M97.91,237.60L97.91,242.40M103.23,237.60L108.56,237.60M103.23,237.60L103.23,242.40M108.56,237.60L108.56,242.40M95.24,233.70L105.90,233.70M95.24,233.70L95.24,237.60M105.90,233.70L105.90,237.60M74.59,229.70L100.57,229.70M74.59,229.70L74.59,233.70M100.57,229.70L100.57,233.70M119.22,237.60L124.56,237.60M119.22,237.60L119.22,242.40M124.56,237.60L124.56,242.40M113.90,233.70L121.89,233.70M113.90,233.70L113.90,242.40M121.89,233.70L121.89,237.60M129.88,235.00L135.22,235.00M129.88,235.00L129.88,242.40M135.22,235.00L135.22,242.40M117.89,229.70L132.55,229.70M117.89,229.70L117.89,233.70M132.55,229.70L132.55,235.00M87.58,225.80L125.22,225.80M87.58,225.80L87.58,229.70M125.22,225.80L125.22,229.70M60.59,218.10L106.40,218.10M60.59,218.10L60.59,242.40M106.40,218.10L106.40,225.80M55.27,214.60L83.50,214.60M55.27,214.60L55.27,242.40M83.50,214.60L83.50,218.10" stroke="#333" stroke-width="0.85" fill="none" stroke-linecap="square"/>
<text x="140" y="255.38" font-size="5.55" font-style="italic" font-weight="bold" fill="#222" transform="rotate(0.02 140 255.38)">WWH38</text>
<text x="140" y="259.75" font-size="5.55" font-style="italic" font-weight="bold" fill="#222" transform="rotate(0.02 140 259.75)">JG30-KF-CM66</text>
<text x="140" y="264.12" font-size="5.55" font-style="italic" font-weight="bold" fill="#222" transform="rotate(0.02 140 264.12)">JG30-KF-AS9</text>
<text x="140" y="268.50" font-size="5.55" font-style="italic" font-weight="bold" fill="#222" transform="rotate(0.02 140 268.50)">JG30-KF-CM45</text>
<text x="140" y="272.87" font-size="5.55" font-style="italic" font-weight="bold" fill="#222" transform="rotate(0.02 140 272.87)">Crossiella</text>
<text x="140" y="277.24" font-size="5.55" font-style="italic" font-weight="bold" fill="#222" transform="rotate(0.02 140 277.24)">Actinospica</text>
<text x="140" y="281.61" font-size="5.55" font-style="italic" font-weight="bold" fill="#222" transform="rotate(0.02 140 281.61)">IMCC26256</text>
<text x="140" y="285.98" font-size="5.55" font-style="italic" font-weight="bold" fill="#222" transform="rotate(0.02 140 285.98)">Blastococcus</text>
<text x="140" y="290.35" font-size="5.55" font-style="italic" font-weight="bold" fill="#222" transform="rotate(0.02 140 290.35)">Jatrophihabitans</text>
<text x="140" y="294.72" font-size="5.55" font-style="italic" font-weight="bold" fill="#222" transform="rotate(0.02 140 294.72)">Mizugakiibacter</text>
<text x="140" y="299.09" font-size="5.55" font-style="italic" font-weight="bold" fill="#222" transform="rotate(0.02 140 299.09)">Geodermatophilus</text>
<text x="140" y="303.46" font-size="5.55" font-style="italic" font-weight="bold" fill="#222" transform="rotate(0.02 140 303.46)">LWQ8</text>
<text x="140" y="307.83" font-size="5.55" font-style="italic" font-weight="bold" fill="#222" transform="rotate(0.02 140 307.83)">Conexibacter</text>
<text x="140" y="312.20" font-size="5.55" font-style="italic" font-weight="bold" fill="#222" transform="rotate(0.02 140 312.20)">Acidipila-Silvibacterium</text>
<text x="140" y="316.56" font-size="5.55" font-style="italic" font-weight="bold" fill="#222" transform="rotate(0.02 140 316.56)">Chujaibacter</text>
<text x="140" y="320.94" font-size="5.55" font-style="italic" font-weight="bold" fill="#222" transform="rotate(0.02 140 320.94)">Acidibacter</text>
<text x="140" y="325.31" font-size="5.55" font-style="italic" font-weight="bold" fill="#222" transform="rotate(0.02 140 325.31)">Acidothermus</text>
<text x="140" y="329.68" font-size="5.55" font-style="italic" font-weight="bold" fill="#222" transform="rotate(0.02 140 329.68)">Rhodanobacter</text>
<text x="140" y="334.05" font-size="5.55" font-style="italic" font-weight="bold" fill="#222" transform="rotate(0.02 140 334.05)">Arthrobacter</text>
<text x="140" y="338.42" font-size="5.55" font-style="italic" font-weight="bold" fill="#222" transform="rotate(0.02 140 338.42)">Burkholderia-Caballeronia-Paraburkholderia</text>
<text x="140" y="342.79" font-size="5.55" font-style="italic" font-weight="bold" fill="#222" transform="rotate(0.02 140 342.79)">SC-I-84</text>
<text x="140" y="347.16" font-size="5.55" font-style="italic" font-weight="bold" fill="#222" transform="rotate(0.02 140 347.16)">Bryobacter</text>
<text x="140" y="351.53" font-size="5.55" font-style="italic" font-weight="bold" fill="#222" transform="rotate(0.02 140 351.53)">Pseudolabrys</text>
<text x="140" y="355.90" font-size="5.55" font-style="italic" font-weight="bold" fill="#222" transform="rotate(0.02 140 355.90)">AD3</text>
<text x="140" y="360.26" font-size="5.55" font-style="italic" font-weight="bold" fill="#222" transform="rotate(0.02 140 360.26)">Subgroup_2</text>
<text x="140" y="364.63" font-size="5.55" font-style="italic" font-weight="bold" fill="#222" transform="rotate(0.02 140 364.63)">Granulicella</text>
<text x="140" y="369.00" font-size="5.55" font-style="italic" font-weight="bold" fill="#222" transform="rotate(0.02 140 369.00)">WPS-2</text>
<text x="140" y="373.38" font-size="5.55" font-style="italic" font-weight="bold" fill="#222" transform="rotate(0.02 140 373.38)">Sphingomonas</text>
<text x="140" y="377.75" font-size="5.55" font-style="italic" font-weight="bold" fill="#222" transform="rotate(0.02 140 377.75)">Gemmatimonas</text>
<text x="140" y="382.12" font-size="5.55" font-style="italic" font-weight="bold" fill="#222" transform="rotate(0.02 140 382.12)">Ellin6067</text>
<text x="55.27" y="383.8" font-size="5.6" fill="#222" dominant-baseline="central" transform="rotate(90 55.27 383.8)">XX1</text>
<text x="60.59" y="383.8" font-size="5.6" fill="#222" dominant-baseline="central" transform="rotate(90 60.59 383.8)">ZS1</text>
<text x="65.92" y="383.8" font-size="5.6" fill="#222" dominant-baseline="central" transform="rotate(90 65.92 383.8)">XX3</text>
<text x="71.25" y="383.8" font-size="5.6" fill="#222" dominant-baseline="central" transform="rotate(90 71.25 383.8)">XX4</text>
<text x="76.59" y="383.8" font-size="5.6" fill="#222" dominant-baseline="central" transform="rotate(90 76.59 383.8)">ZS2</text>
<text x="81.92" y="383.8" font-size="5.6" fill="#222" dominant-baseline="central" transform="rotate(90 81.92 383.8)">ZS4</text>
<text x="87.25" y="383.8" font-size="5.6" fill="#222" dominant-baseline="central" transform="rotate(90 87.25 383.8)">ZS3</text>
<text x="92.58" y="383.8" font-size="5.6" fill="#222" dominant-baseline="central" transform="rotate(90 92.58 383.8)">XS1</text>
<text x="97.91" y="383.8" font-size="5.6" fill="#222" dominant-baseline="central" transform="rotate(90 97.91 383.8)">XS3</text>
<text x="103.23" y="383.8" font-size="5.6" fill="#222" dominant-baseline="central" transform="rotate(90 103.23 383.8)">XX2</text>
<text x="108.56" y="383.8" font-size="5.6" fill="#222" dominant-baseline="central" transform="rotate(90 108.56 383.8)">XS2</text>
<text x="113.90" y="383.8" font-size="5.6" fill="#222" dominant-baseline="central" transform="rotate(90 113.90 383.8)">CK1</text>
<text x="119.22" y="383.8" font-size="5.6" fill="#222" dominant-baseline="central" transform="rotate(90 119.22 383.8)">CK3</text>
<text x="124.56" y="383.8" font-size="5.6" fill="#222" dominant-baseline="central" transform="rotate(90 124.56 383.8)">CK4</text>
<text x="129.88" y="383.8" font-size="5.6" fill="#222" dominant-baseline="central" transform="rotate(90 129.88 383.8)">CK2</text>
<text x="135.22" y="383.8" font-size="5.6" fill="#222" dominant-baseline="central" transform="rotate(90 135.22 383.8)">XS4</text>
<defs><linearGradient id="gc" x1="0" y1="0" x2="0" y2="1"><stop offset="0" stop-color="#f00"/><stop offset="0.5" stop-color="#fff"/><stop offset="1" stop-color="#00f"/></linearGradient></defs>
<rect x="300" y="254.2" width="5" height="39.8" fill="url(#gc)"/>
<text x="307.2" y="259.09999999999997" font-size="5.8" fill="#333">3.60</text>
<text x="307.2" y="276.59999999999997" font-size="5.8" fill="#333">0.00</text>
<text x="307.2" y="294.29999999999995" font-size="5.8" fill="#333">-2.56</text>
<rect x="411.20" y="250.10" width="5.62" height="4.72" fill="#adadff"/>
<rect x="416.47" y="250.10" width="5.62" height="4.72" fill="#e8e8ff"/>
<rect x="421.74" y="250.10" width="5.62" height="4.72" fill="#dbdbff"/>
<rect x="427.01" y="250.10" width="5.62" height="4.72" fill="#dbdbff"/>
<rect x="432.28" y="250.10" width="5.62" height="4.72" fill="#6b6bff"/>
<rect x="437.55" y="250.10" width="5.62" height="4.72" fill="#ffffff"/>
<rect x="442.82" y="250.10" width="5.62" height="4.72" fill="#ffffff"/>
<rect x="448.09" y="250.10" width="5.62" height="4.72" fill="#e8e8ff"/>
<rect x="453.36" y="250.10" width="5.62" height="4.72" fill="#ffe8e8"/>
<rect x="458.63" y="250.10" width="5.62" height="4.72" fill="#ffe8e8"/>
<rect x="463.90" y="250.10" width="5.62" height="4.72" fill="#ffd4d4"/>
<rect x="469.17" y="250.10" width="5.62" height="4.72" fill="#ffadad"/>
<rect x="474.44" y="250.10" width="5.62" height="4.72" fill="#ff1717"/>
<rect x="479.71" y="250.10" width="5.62" height="4.72" fill="#6b6bff"/>
<rect x="484.98" y="250.10" width="5.62" height="4.72" fill="#9b9bff"/>
<rect x="490.25" y="250.10" width="5.62" height="4.72" fill="#adadff"/>
<rect x="411.20" y="254.47" width="5.62" height="4.72" fill="#b5b5ff"/>
<rect x="416.47" y="254.47" width="5.62" height="4.72" fill="#adadff"/>
<rect x="421.74" y="254.47" width="5.62" height="4.72" fill="#fff4f4"/>
<rect x="427.01" y="254.47" width="5.62" height="4.72" fill="#4d4dff"/>
<rect x="432.28" y="254.47" width="5.62" height="4.72" fill="#ff6b6b"/>
<rect x="437.55" y="254.47" width="5.62" height="4.72" fill="#c5c5ff"/>
<rect x="442.82" y="254.47" width="5.62" height="4.72" fill="#ffd4d4"/>
<rect x="448.09" y="254.47" width="5.62" height="4.72" fill="#e8e8ff"/>
<rect x="453.36" y="254.47" width="5.62" height="4.72" fill="#ffc5c5"/>
<rect x="458.63" y="254.47" width="5.62" height="4.72" fill="#ffe8e8"/>
<rect x="463.90" y="254.47" width="5.62" height="4.72" fill="#6b6bff"/>
<rect x="469.17" y="254.47" width="5.62" height="4.72" fill="#ffffff"/>
<rect x="474.44" y="254.47" width="5.62" height="4.72" fill="#ff9b9b"/>
<rect x="479.71" y="254.47" width="5.62" height="4.72" fill="#b5b5ff"/>
<rect x="484.98" y="254.47" width="5.62" height="4.72" fill="#e8e8ff"/>
<rect x="490.25" y="254.47" width="5.62" height="4.72" fill="#d4d4ff"/>
<rect x="411.20" y="258.84" width="5.62" height="4.72" fill="#d4d4ff"/>
<rect x="416.47" y="258.84" width="5.62" height="4.72" fill="#c5c5ff"/>
<rect x="421.74" y="258.84" width="5.62" height="4.72" fill="#ffffff"/>
<rect x="427.01" y="258.84" width="5.62" height="4.72" fill="#c5c5ff"/>
<rect x="432.28" y="258.84" width="5.62" height="4.72" fill="#ff1717"/>
<rect x="437.55" y="258.84" width="5.62" height="4.72" fill="#e8e8ff"/>
<rect x="442.82" y="258.84" width="5.62" height="4.72" fill="#f4f4ff"/>
<rect x="448.09" y="258.84" width="5.62" height="4.72" fill="#d4d4ff"/>
<rect x="453.36" y="258.84" width="5.62" height="4.72" fill="#c5c5ff"/>
<rect x="458.63" y="258.84" width="5.62" height="4.72" fill="#c5c5ff"/>
<rect x="463.90" y="258.84" width="5.62" height="4.72" fill="#d4d4ff"/>
<rect x="469.17" y="258.84" width="5.62" height="4.72" fill="#ffe8e8"/>
<rect x="474.44" y="258.84" width="5.62" height="4.72" fill="#ff9b9b"/>
<rect x="479.71" y="258.84" width="5.62" height="4.72" fill="#ffc5c5"/>
<rect x="484.98" y="258.84" width="5.62" height="4.72" fill="#9b9bff"/>
<rect x="490.25" y="258.84" width="5.62" height="4.72" fill="#ffffff"/>
<rect x="411.20" y="263.21" width="5.62" height="4.72" fill="#adadff"/>
<rect x="416.47" y="263.21" width="5.62" height="4.72" fill="#f4f4ff"/>
<rect x="421.74" y="263.21" width="5.62" height="4.72" fill="#ffe8e8"/>
<rect x="427.01" y="263.21" width="5.62" height="4.72" fill="#f4f4ff"/>
<rect x="432.28" y="263.21" width="5.62" height="4.72" fill="#ff9b9b"/>
<rect x="437.55" y="263.21" width="5.62" height="4.72" fill="#ffe8e8"/>
<rect x="442.82" y="263.21" width="5.62" height="4.72" fill="#ffffff"/>
<rect x="448.09" y="263.21" width="5.62" height="4.72" fill="#ff4d4d"/>
<rect x="453.36" y="263.21" width="5.62" height="4.72" fill="#ffb5b5"/>
<rect x="458.63" y="263.21" width="5.62" height="4.72" fill="#ffffff"/>
<rect x="463.90" y="263.21" width="5.62" height="4.72" fill="#c5c5ff"/>
<rect x="469.17" y="263.21" width="5.62" height="4.72" fill="#9b9bff"/>
<rect x="474.44" y="263.21" width="5.62" height="4.72" fill="#6b6bff"/>
<rect x="479.71" y="263.21" width="5.62" height="4.72" fill="#4d4dff"/>
<rect x="484.98" y="263.21" width="5.62" height="4.72" fill="#ffe8e8"/>
<rect x="490.25" y="263.21" width="5.62" height="4.72" fill="#adadff"/>
<rect x="411.20" y="267.58" width="5.62" height="4.72" fill="#e8e8ff"/>
<rect x="416.47" y="267.58" width="5.62" height="4.72" fill="#ffc5c5"/>
<rect x="421.74" y="267.58" width="5.62" height="4.72" fill="#fff4f4"/>
<rect x="427.01" y="267.58" width="5.62" height="4.72" fill="#f4f4ff"/>
<rect x="432.28" y="267.58" width="5.62" height="4.72" fill="#ffadad"/>
<rect x="437.55" y="267.58" width="5.62" height="4.72" fill="#ff6b6b"/>
<rect x="442.82" y="267.58" width="5.62" height="4.72" fill="#ffe8e8"/>
<rect x="448.09" y="267.58" width="5.62" height="4.72" fill="#ffd4d4"/>
<rect x="453.36" y="267.58" width="5.62" height="4.72" fill="#f4f4ff"/>
<rect x="458.63" y="267.58" width="5.62" height="4.72" fill="#9b9bff"/>
<rect x="463.90" y="267.58" width="5.62" height="4.72" fill="#9b9bff"/>
<rect x="469.17" y="267.58" width="5.62" height="4.72" fill="#1717ff"/>
<rect x="474.44" y="267.58" width="5.62" height="4.72" fill="#ffd4d4"/>
<rect x="479.71" y="267.58" width="5.62" height="4.72" fill="#adadff"/>
<rect x="484.98" y="267.58" width="5.62" height="4.72" fill="#c5c5ff"/>
<rect x="490.25" y="267.58" width="5.62" height="4.72" fill="#9b9bff"/>
<rect x="411.20" y="271.95" width="5.62" height="4.72" fill="#e8e8ff"/>
<rect x="416.47" y="271.95" width="5.62" height="4.72" fill="#ffd4d4"/>
<rect x="421.74" y="271.95" width="5.62" height="4.72" fill="#c5c5ff"/>
<rect x="427.01" y="271.95" width="5.62" height="4.72" fill="#e8e8ff"/>
<rect x="432.28" y="271.95" width="5.62" height="4.72" fill="#c5c5ff"/>
<rect x="437.55" y="271.95" width="5.62" height="4.72" fill="#ff0000"/>
<rect x="442.82" y="271.95" width="5.62" height="4.72" fill="#ffadad"/>
<rect x="448.09" y="271.95" width="5.62" height="4.72" fill="#ffffff"/>
<rect x="453.36" y="271.95" width="5.62" height="4.72" fill="#fff4f4"/>
<rect x="458.63" y="271.95" width="5.62" height="4.72" fill="#dbdbff"/>
<rect x="463.90" y="271.95" width="5.62" height="4.72" fill="#c5c5ff"/>
<rect x="469.17" y="271.95" width="5.62" height="4.72" fill="#c5c5ff"/>
<rect x="474.44" y="271.95" width="5.62" height="4.72" fill="#e8e8ff"/>
<rect x="479.71" y="271.95" width="5.62" height="4.72" fill="#d4d4ff"/>
<rect x="484.98" y="271.95" width="5.62" height="4.72" fill="#e8e8ff"/>
<rect x="490.25" y="271.95" width="5.62" height="4.72" fill="#e8e8ff"/>
<rect x="411.20" y="276.32" width="5.62" height="4.72" fill="#7f7fff"/>
<rect x="416.47" y="276.32" width="5.62" height="4.72" fill="#ff9b9b"/>
<rect x="421.74" y="276.32" width="5.62" height="4.72" fill="#4d4dff"/>
<rect x="427.01" y="276.32" width="5.62" height="4.72" fill="#9b9bff"/>
<rect x="432.28" y="276.32" width="5.62" height="4.72" fill="#e8e8ff"/>
<rect x="437.55" y="276.32" width="5.62" height="4.72" fill="#ff4d4d"/>
<rect x="442.82" y="276.32" width="5.62" height="4.72" fill="#ffc5c5"/>
<rect x="448.09" y="276.32" width="5.62" height="4.72" fill="#ffffff"/>
<rect x="453.36" y="276.32" width="5.62" height="4.72" fill="#f4f4ff"/>
<rect x="458.63" y="276.32" width="5.62" height="4.72" fill="#f4f4ff"/>
<rect x="463.90" y="276.32" width="5.62" height="4.72" fill="#ffffff"/>
<rect x="469.17" y="276.32" width="5.62" height="4.72" fill="#f4f4ff"/>
<rect x="474.44" y="276.32" width="5.62" height="4.72" fill="#adadff"/>
<rect x="479.71" y="276.32" width="5.62" height="4.72" fill="#ffadad"/>
<rect x="484.98" y="276.32" width="5.62" height="4.72" fill="#dbdbff"/>
<rect x="490.25" y="276.32" width="5.62" height="4.72" fill="#b5b5ff"/>
<rect x="411.20" y="280.69" width="5.62" height="4.72" fill="#ffffff"/>
<rect x="416.47" y="280.69" width="5.62" height="4.72" fill="#fff4f4"/>
<rect x="421.74" y="280.69" width="5.62" height="4.72" fill="#7f7fff"/>
<rect x="427.01" y="280.69" width="5.62" height="4.72" fill="#d4d4ff"/>
<rect x="432.28" y="280.69" width="5.62" height="4.72" fill="#ffb5b5"/>
<rect x="437.55" y="280.69" width="5.62" height="4.72" fill="#b5b5ff"/>
<rect x="442.82" y="280.69" width="5.62" height="4.72" fill="#ff2222"/>
<rect x="448.09" y="280.69" width="5.62" height="4.72" fill="#e8e8ff"/>
<rect x="453.36" y="280.69" width="5.62" height="4.72" fill="#f4f4ff"/>
<rect x="458.63" y="280.69" width="5.62" height="4.72" fill="#fff4f4"/>
<rect x="463.90" y="280.69" width="5.62" height="4.72" fill="#fff4f4"/>
<rect x="469.17" y="280.69" width="5.62" height="4.72" fill="#e8e8ff"/>
<rect x="474.44" y="280.69" width="5.62" height="4.72" fill="#0000ff"/>
<rect x="479.71" y="280.69" width="5.62" height="4.72" fill="#fff4f4"/>
<rect x="484.98" y="280.69" width="5.62" height="4.72" fill="#fff4f4"/>
<rect x="490.25" y="280.69" width="5.62" height="4.72" fill="#ffffff"/>
<rect x="411.20" y="285.06" width="5.62" height="4.72" fill="#d4d4ff"/>
<rect x="416.47" y="285.06" width="5.62" height="4.72" fill="#ffe8e8"/>
<rect x="421.74" y="285.06" width="5.62" height="4.72" fill="#ffc5c5"/>
<rect x="427.01" y="285.06" width="5.62" height="4.72" fill="#ffffff"/>
<rect x="432.28" y="285.06" width="5.62" height="4.72" fill="#b5b5ff"/>
<rect x="437.55" y="285.06" width="5.62" height="4.72" fill="#ffe8e8"/>
<rect x="442.82" y="285.06" width="5.62" height="4.72" fill="#ffe8e8"/>
<rect x="448.09" y="285.06" width="5.62" height="4.72" fill="#d4d4ff"/>
<rect x="453.36" y="285.06" width="5.62" height="4.72" fill="#ffffff"/>
<rect x="458.63" y="285.06" width="5.62" height="4.72" fill="#ffb5b5"/>
<rect x="463.90" y="285.06" width="5.62" height="4.72" fill="#ff4d4d"/>
<rect x="469.17" y="285.06" width="5.62" height="4.72" fill="#adadff"/>
<rect x="474.44" y="285.06" width="5.62" height="4.72" fill="#6b6bff"/>
<rect x="479.71" y="285.06" width="5.62" height="4.72" fill="#4d4dff"/>
<rect x="484.98" y="285.06" width="5.62" height="4.72" fill="#9b9bff"/>
<rect x="490.25" y="285.06" width="5.62" height="4.72" fill="#c5c5ff"/>
<rect x="411.20" y="289.43" width="5.62" height="4.72" fill="#d4d4ff"/>
<rect x="416.47" y="289.43" width="5.62" height="4.72" fill="#e8e8ff"/>
<rect x="421.74" y="289.43" width="5.62" height="4.72" fill="#fff4f4"/>
<rect x="427.01" y="289.43" width="5.62" height="4.72" fill="#d4d4ff"/>
<rect x="432.28" y="289.43" width="5.62" height="4.72" fill="#dbdbff"/>
<rect x="437.55" y="289.43" width="5.62" height="4.72" fill="#ff6b6b"/>
<rect x="442.82" y="289.43" width="5.62" height="4.72" fill="#ff9b9b"/>
<rect x="448.09" y="289.43" width="5.62" height="4.72" fill="#ffffff"/>
<rect x="453.36" y="289.43" width="5.62" height="4.72" fill="#ffe8e8"/>
<rect x="458.63" y="289.43" width="5.62" height="4.72" fill="#fff4f4"/>
<rect x="463.90" y="289.43" width="5.62" height="4.72" fill="#ffe8e8"/>
<rect x="469.17" y="289.43" width="5.62" height="4.72" fill="#ffadad"/>
<rect x="474.44" y="289.43" width="5.62" height="4.72" fill="#4d4dff"/>
<rect x="479.71" y="289.43" width="5.62" height="4.72" fill="#9b9bff"/>
<rect x="484.98" y="289.43" width="5.62" height="4.72" fill="#6b6bff"/>
<rect x="490.25" y="289.43" width="5.62" height="4.72" fill="#adadff"/>
<rect x="411.20" y="293.80" width="5.62" height="4.72" fill="#d4d4ff"/>
<rect x="416.47" y="293.80" width="5.62" height="4.72" fill="#fff4f4"/>
<rect x="421.74" y="293.80" width="5.62" height="4.72" fill="#ffe8e8"/>
<rect x="427.01" y="293.80" width="5.62" height="4.72" fill="#ffffff"/>
<rect x="432.28" y="293.80" width="5.62" height="4.72" fill="#f4f4ff"/>
<rect x="437.55" y="293.80" width="5.62" height="4.72" fill="#ff9b9b"/>
<rect x="442.82" y="293.80" width="5.62" height="4.72" fill="#ff7f7f"/>
<rect x="448.09" y="293.80" width="5.62" height="4.72" fill="#f4f4ff"/>
<rect x="453.36" y="293.80" width="5.62" height="4.72" fill="#fff4f4"/>
<rect x="458.63" y="293.80" width="5.62" height="4.72" fill="#fff4f4"/>
<rect x="463.90" y="293.80" width="5.62" height="4.72" fill="#ff9b9b"/>
<rect x="469.17" y="293.80" width="5.62" height="4.72" fill="#ffffff"/>
<rect x="474.44" y="293.80" width="5.62" height="4.72" fill="#6b6bff"/>
<rect x="479.71" y="293.80" width="5.62" height="4.72" fill="#0000ff"/>
<rect x="484.98" y="293.80" width="5.62" height="4.72" fill="#9b9bff"/>
<rect x="490.25" y="293.80" width="5.62" height="4.72" fill="#6b6bff"/>
<rect x="411.20" y="298.17" width="5.62" height="4.72" fill="#c5c5ff"/>
<rect x="416.47" y="298.17" width="5.62" height="4.72" fill="#fff4f4"/>
<rect x="421.74" y="298.17" width="5.62" height="4.72" fill="#1717ff"/>
<rect x="427.01" y="298.17" width="5.62" height="4.72" fill="#c5c5ff"/>
<rect x="432.28" y="298.17" width="5.62" height="4.72" fill="#ffc5c5"/>
<rect x="437.55" y="298.17" width="5.62" height="4.72" fill="#ffe8e8"/>
<rect x="442.82" y="298.17" width="5.62" height="4.72" fill="#ffadad"/>
<rect x="448.09" y="298.17" width="5.62" height="4.72" fill="#f4f4ff"/>
<rect x="453.36" y="298.17" width="5.62" height="4.72" fill="#ff7f7f"/>
<rect x="458.63" y="298.17" width="5.62" height="4.72" fill="#ffc5c5"/>
<rect x="463.90" y="298.17" width="5.62" height="4.72" fill="#e8e8ff"/>
<rect x="469.17" y="298.17" width="5.62" height="4.72" fill="#ffd4d4"/>
<rect x="474.44" y="298.17" width="5.62" height="4.72" fill="#6b6bff"/>
<rect x="479.71" y="298.17" width="5.62" height="4.72" fill="#ffe8e8"/>
<rect x="484.98" y="298.17" width="5.62" height="4.72" fill="#adadff"/>
<rect x="490.25" y="298.17" width="5.62" height="4.72" fill="#3838ff"/>
<rect x="411.20" y="302.54" width="5.62" height="4.72" fill="#c5c5ff"/>
<rect x="416.47" y="302.54" width="5.62" height="4.72" fill="#f4f4ff"/>
<rect x="421.74" y="302.54" width="5.62" height="4.72" fill="#0000ff"/>
<rect x="427.01" y="302.54" width="5.62" height="4.72" fill="#7f7fff"/>
<rect x="432.28" y="302.54" width="5.62" height="4.72" fill="#ffe8e8"/>
<rect x="437.55" y="302.54" width="5.62" height="4.72" fill="#e8e8ff"/>
<rect x="442.82" y="302.54" width="5.62" height="4.72" fill="#ff9b9b"/>
<rect x="448.09" y="302.54" width="5.62" height="4.72" fill="#d4d4ff"/>
<rect x="453.36" y="302.54" width="5.62" height="4.72" fill="#ff9b9b"/>
<rect x="458.63" y="302.54" width="5.62" height="4.72" fill="#ffe8e8"/>
<rect x="463.90" y="302.54" width="5.62" height="4.72" fill="#ffffff"/>
<rect x="469.17" y="302.54" width="5.62" height="4.72" fill="#ff9b9b"/>
<rect x="474.44" y="302.54" width="5.62" height="4.72" fill="#9b9bff"/>
<rect x="479.71" y="302.54" width="5.62" height="4.72" fill="#ffc5c5"/>
<rect x="484.98" y="302.54" width="5.62" height="4.72" fill="#c5c5ff"/>
<rect x="490.25" y="302.54" width="5.62" height="4.72" fill="#c5c5ff"/>
<rect x="411.20" y="306.91" width="5.62" height="4.72" fill="#9b9bff"/>
<rect x="416.47" y="306.91" width="5.62" height="4.72" fill="#ffe8e8"/>
<rect x="421.74" y="306.91" width="5.62" height="4.72" fill="#9b9bff"/>
<rect x="427.01" y="306.91" width="5.62" height="4.72" fill="#adadff"/>
<rect x="432.28" y="306.91" width="5.62" height="4.72" fill="#6b6bff"/>
<rect x="437.55" y="306.91" width="5.62" height="4.72" fill="#ffe8e8"/>
<rect x="442.82" y="306.91" width="5.62" height="4.72" fill="#ffd4d4"/>
<rect x="448.09" y="306.91" width="5.62" height="4.72" fill="#ff9b9b"/>
<rect x="453.36" y="306.91" width="5.62" height="4.72" fill="#ff7f7f"/>
<rect x="458.63" y="306.91" width="5.62" height="4.72" fill="#ffc5c5"/>
<rect x="463.90" y="306.91" width="5.62" height="4.72" fill="#ffb5b5"/>
<rect x="469.17" y="306.91" width="5.62" height="4.72" fill="#fff4f4"/>
<rect x="474.44" y="306.91" width="5.62" height="4.72" fill="#1717ff"/>
<rect x="479.71" y="306.91" width="5.62" height="4.72" fill="#e8e8ff"/>
<rect x="484.98" y="306.91" width="5.62" height="4.72" fill="#e8e8ff"/>
<rect x="490.25" y="306.91" width="5.62" height="4.72" fill="#9b9bff"/>
<rect x="411.20" y="311.28" width="5.62" height="4.72" fill="#d4d4ff"/>
<rect x="416.47" y="311.28" width="5.62" height="4.72" fill="#ffffff"/>
<rect x="421.74" y="311.28" width="5.62" height="4.72" fill="#d4d4ff"/>
<rect x="427.01" y="311.28" width="5.62" height="4.72" fill="#c5c5ff"/>
<rect x="432.28" y="311.28" width="5.62" height="4.72" fill="#adadff"/>
<rect x="437.55" y="311.28" width="5.62" height="4.72" fill="#ffffff"/>
<rect x="442.82" y="311.28" width="5.62" height="4.72" fill="#ffffff"/>
<rect x="448.09" y="311.28" width="5.62" height="4.72" fill="#e8e8ff"/>
<rect x="453.36" y="311.28" width="5.62" height="4.72" fill="#ff1717"/>
<rect x="458.63" y="311.28" width="5.62" height="4.72" fill="#ff7f7f"/>
<rect x="463.90" y="311.28" width="5.62" height="4.72" fill="#ffd4d4"/>
<rect x="469.17" y="311.28" width="5.62" height="4.72" fill="#c5c5ff"/>
<rect x="474.44" y="311.28" width="5.62" height="4.72" fill="#c5c5ff"/>
<rect x="479.71" y="311.28" width="5.62" height="4.72" fill="#e8e8ff"/>
<rect x="484.98" y="311.28" width="5.62" height="4.72" fill="#c5c5ff"/>
<rect x="490.25" y="311.28" width="5.62" height="4.72" fill="#d4d4ff"/>
<rect x="411.20" y="315.65" width="5.62" height="4.72" fill="#ff9b9b"/>
<rect x="416.47" y="315.65" width="5.62" height="4.72" fill="#fff4f4"/>
<rect x="421.74" y="315.65" width="5.62" height="4.72" fill="#6b6bff"/>
<rect x="427.01" y="315.65" width="5.62" height="4.72" fill="#1717ff"/>
<rect x="432.28" y="315.65" width="5.62" height="4.72" fill="#fff4f4"/>
<rect x="437.55" y="315.65" width="5.62" height="4.72" fill="#ff9b9b"/>
<rect x="442.82" y="315.65" width="5.62" height="4.72" fill="#ffc5c5"/>
<rect x="448.09" y="315.65" width="5.62" height="4.72" fill="#ffd4d4"/>
<rect x="453.36" y="315.65" width="5.62" height="4.72" fill="#ffb5b5"/>
<rect x="458.63" y="315.65" width="5.62" height="4.72" fill="#ffe8e8"/>
<rect x="463.90" y="315.65" width="5.62" height="4.72" fill="#ffffff"/>
<rect x="469.17" y="315.65" width="5.62" height="4.72" fill="#e8e8ff"/>
<rect x="474.44" y="315.65" width="5.62" height="4.72" fill="#adadff"/>
<rect x="479.71" y="315.65" width="5.62" height="4.72" fill="#c5c5ff"/>
<rect x="484.98" y="315.65" width="5.62" height="4.72" fill="#b5b5ff"/>
<rect x="490.25" y="315.65" width="5.62" height="4.72" fill="#7f7fff"/>
<rect x="411.20" y="320.02" width="5.62" height="4.72" fill="#adadff"/>
<rect x="416.47" y="320.02" width="5.62" height="4.72" fill="#d4d4ff"/>
<rect x="421.74" y="320.02" width="5.62" height="4.72" fill="#9b9bff"/>
<rect x="427.01" y="320.02" width="5.62" height="4.72" fill="#d4d4ff"/>
<rect x="432.28" y="320.02" width="5.62" height="4.72" fill="#e8e8ff"/>
<rect x="437.55" y="320.02" width="5.62" height="4.72" fill="#ffadad"/>
<rect x="442.82" y="320.02" width="5.62" height="4.72" fill="#ff9b9b"/>
<rect x="448.09" y="320.02" width="5.62" height="4.72" fill="#ff6b6b"/>
<rect x="453.36" y="320.02" width="5.62" height="4.72" fill="#ffc5c5"/>
<rect x="458.63" y="320.02" width="5.62" height="4.72" fill="#c5c5ff"/>
<rect x="463.90" y="320.02" width="5.62" height="4.72" fill="#e8e8ff"/>
<rect x="469.17" y="320.02" width="5.62" height="4.72" fill="#fff4f4"/>
<rect x="474.44" y="320.02" width="5.62" height="4.72" fill="#9b9bff"/>
<rect x="479.71" y="320.02" width="5.62" height="4.72" fill="#fff4f4"/>
<rect x="484.98" y="320.02" width="5.62" height="4.72" fill="#e8e8ff"/>
<rect x="490.25" y="320.02" width="5.62" height="4.72" fill="#adadff"/>
<rect x="411.20" y="324.39" width="5.62" height="4.72" fill="#ffd4d4"/>
<rect x="416.47" y="324.39" width="5.62" height="4.72" fill="#ffd4d4"/>
<rect x="421.74" y="324.39" width="5.62" height="4.72" fill="#ffc5c5"/>
<rect x="427.01" y="324.39" width="5.62" height="4.72" fill="#fff4f4"/>
<rect x="432.28" y="324.39" width="5.62" height="4.72" fill="#d4d4ff"/>
<rect x="437.55" y="324.39" width="5.62" height="4.72" fill="#e8e8ff"/>
<rect x="442.82" y="324.39" width="5.62" height="4.72" fill="#ffe8e8"/>
<rect x="448.09" y="324.39" width="5.62" height="4.72" fill="#ffffff"/>
<rect x="453.36" y="324.39" width="5.62" height="4.72" fill="#f4f4ff"/>
<rect x="458.63" y="324.39" width="5.62" height="4.72" fill="#fff4f4"/>
<rect x="463.90" y="324.39" width="5.62" height="4.72" fill="#ffe8e8"/>
<rect x="469.17" y="324.39" width="5.62" height="4.72" fill="#9b9bff"/>
<rect x="474.44" y="324.39" width="5.62" height="4.72" fill="#0000ff"/>
<rect x="479.71" y="324.39" width="5.62" height="4.72" fill="#4d4dff"/>
<rect x="484.98" y="324.39" width="5.62" height="4.72" fill="#4d4dff"/>
<rect x="490.25" y="324.39" width="5.62" height="4.72" fill="#ff6b6b"/>
<rect x="411.20" y="328.76" width="5.62" height="4.72" fill="#ff0000"/>
<rect x="416.47" y="328.76" width="5.62" height="4.72" fill="#d4d4ff"/>
<rect x="421.74" y="328.76" width="5.62" height="4.72" fill="#e8e8ff"/>
<rect x="427.01" y="328.76" width="5.62" height="4.72" fill="#ffd4d4"/>
<rect x="432.28" y="328.76" width="5.62" height="4.72" fill="#b5b5ff"/>
<rect x="437.55" y="328.76" width="5.62" height="4.72" fill="#e8e8ff"/>
<rect x="442.82" y="328.76" width="5.62" height="4.72" fill="#e8e8ff"/>
<rect x="448.09" y="328.76" width="5.62" height="4.72" fill="#dbdbff"/>
<rect x="453.36" y="328.76" width="5.62" height="4.72" fill="#c5c5ff"/>
<rect x="458.63" y="328.76" width="5.62" height="4.72" fill="#adadff"/>
<rect x="463.90" y="328.76" width="5.62" height="4.72" fill="#adadff"/>
<rect x="469.17" y="328.76" width="5.62" height="4.72" fill="#ffd4d4"/>
<rect x="474.44" y="328.76" width="5.62" height="4.72" fill="#adadff"/>
<rect x="479.71" y="328.76" width="5.62" height="4.72" fill="#d4d4ff"/>
<rect x="484.98" y="328.76" width="5.62" height="4.72" fill="#e8e8ff"/>
<rect x="490.25" y="328.76" width="5.62" height="4.72" fill="#ffb5b5"/>
<rect x="411.20" y="333.13" width="5.62" height="4.72" fill="#f4f4ff"/>
<rect x="416.47" y="333.13" width="5.62" height="4.72" fill="#f4f4ff"/>
<rect x="421.74" y="333.13" width="5.62" height="4.72" fill="#e8e8ff"/>
<rect x="427.01" y="333.13" width="5.62" height="4.72" fill="#ff0000"/>
<rect x="432.28" y="333.13" width="5.62" height="4.72" fill="#f4f4ff"/>
<rect x="437.55" y="333.13" width="5.62" height="4.72" fill="#f4f4ff"/>
<rect x="442.82" y="333.13" width="5.62" height="4.72" fill="#f4f4ff"/>
<rect x="448.09" y="333.13" width="5.62" height="4.72" fill="#f4f4ff"/>
<rect x="453.36" y="333.13" width="5.62" height="4.72" fill="#f4f4ff"/>
<rect x="458.63" y="333.13" width="5.62" height="4.72" fill="#e8e8ff"/>
<rect x="463.90" y="333.13" width="5.62" height="4.72" fill="#e8e8ff"/>
<rect x="469.17" y="333.13" width="5.62" height="4.72" fill="#f4f4ff"/>
<rect x="474.44" y="333.13" width="5.62" height="4.72" fill="#e8e8ff"/>
<rect x="479.71" y="333.13" width="5.62" height="4.72" fill="#f4f4ff"/>
<rect x="484.98" y="333.13" width="5.62" height="4.72" fill="#f4f4ff"/>
<rect x="490.25" y="333.13" width="5.62" height="4.72" fill="#f4f4ff"/>
<rect x="411.20" y="337.50" width="5.62" height="4.72" fill="#c5c5ff"/>
<rect x="416.47" y="337.50" width="5.62" height="4.72" fill="#6b6bff"/>
<rect x="421.74" y="337.50" width="5.62" height="4.72" fill="#ff9b9b"/>
<rect x="427.01" y="337.50" width="5.62" height="4.72" fill="#ff7f7f"/>
<rect x="432.28" y="337.50" width="5.62" height="4.72" fill="#ffb5b5"/>
<rect x="437.55" y="337.50" width="5.62" height="4.72" fill="#ff9b9b"/>
<rect x="442.82" y="337.50" width="5.62" height="4.72" fill="#ffc5c5"/>
<rect x="448.09" y="337.50" width="5.62" height="4.72" fill="#e8e8ff"/>
<rect x="453.36" y="337.50" width="5.62" height="4.72" fill="#9b9bff"/>
<rect x="458.63" y="337.50" width="5.62" height="4.72" fill="#c5c5ff"/>
<rect x="463.90" y="337.50" width="5.62" height="4.72" fill="#e8e8ff"/>
<rect x="469.17" y="337.50" width="5.62" height="4.72" fill="#dbdbff"/>
<rect x="474.44" y="337.50" width="5.62" height="4.72" fill="#9b9bff"/>
<rect x="479.71" y="337.50" width="5.62" height="4.72" fill="#ffffff"/>
<rect x="484.98" y="337.50" width="5.62" height="4.72" fill="#6b6bff"/>
<rect x="490.25" y="337.50" width="5.62" height="4.72" fill="#7f7fff"/>
<rect x="411.20" y="341.87" width="5.62" height="4.72" fill="#ffd4d4"/>
<rect x="416.47" y="341.87" width="5.62" height="4.72" fill="#b5b5ff"/>
<rect x="421.74" y="341.87" width="5.62" height="4.72" fill="#ff0000"/>
<rect x="427.01" y="341.87" width="5.62" height="4.72" fill="#ffc5c5"/>
<rect x="432.28" y="341.87" width="5.62" height="4.72" fill="#ffffff"/>
<rect x="437.55" y="341.87" width="5.62" height="4.72" fill="#c5c5ff"/>
<rect x="442.82" y="341.87" width="5.62" height="4.72" fill="#f8f8ff"/>
<rect x="448.09" y="341.87" width="5.62" height="4.72" fill="#ffe8e8"/>
<rect x="453.36" y="341.87" width="5.62" height="4.72" fill="#ffffff"/>
<rect x="458.63" y="341.87" width="5.62" height="4.72" fill="#c5c5ff"/>
<rect x="463.90" y="341.87" width="5.62" height="4.72" fill="#c5c5ff"/>
<rect x="469.17" y="341.87" width="5.62" height="4.72" fill="#f4f4ff"/>
<rect x="474.44" y="341.87" width="5.62" height="4.72" fill="#dbdbff"/>
<rect x="479.71" y="341.87" width="5.62" height="4.72" fill="#b5b5ff"/>
<rect x="484.98" y="341.87" width="5.62" height="4.72" fill="#e8e8ff"/>
<rect x="490.25" y="341.87" width="5.62" height="4.72" fill="#b5b5ff"/>
<rect x="411.20" y="346.24" width="5.62" height="4.72" fill="#ff9b9b"/>
<rect x="416.47" y="346.24" width="5.62" height="4.72" fill="#ff6b6b"/>
<rect x="421.74" y="346.24" width="5.62" height="4.72" fill="#fff4f4"/>
<rect x="427.01" y="346.24" width="5.62" height="4.72" fill="#ffc5c5"/>
<rect x="432.28" y="346.24" width="5.62" height="4.72" fill="#b5b5ff"/>
<rect x="437.55" y="346.24" width="5.62" height="4.72" fill="#ff7f7f"/>
<rect x="442.82" y="346.24" width="5.62" height="4.72" fill="#ffe8e8"/>
<rect x="448.09" y="346.24" width="5.62" height="4.72" fill="#b5b5ff"/>
<rect x="453.36" y="346.24" width="5.62" height="4.72" fill="#c5c5ff"/>
<rect x="458.63" y="346.24" width="5.62" height="4.72" fill="#c5c5ff"/>
<rect x="463.90" y="346.24" width="5.62" height="4.72" fill="#c5c5ff"/>
<rect x="469.17" y="346.24" width="5.62" height="4.72" fill="#b5b5ff"/>
<rect x="474.44" y="346.24" width="5.62" height="4.72" fill="#d4d4ff"/>
<rect x="479.71" y="346.24" width="5.62" height="4.72" fill="#b5b5ff"/>
<rect x="484.98" y="346.24" width="5.62" height="4.72" fill="#d4d4ff"/>
<rect x="490.25" y="346.24" width="5.62" height="4.72" fill="#c5c5ff"/>
<rect x="411.20" y="350.61" width="5.62" height="4.72" fill="#ffd4d4"/>
<rect x="416.47" y="350.61" width="5.62" height="4.72" fill="#ffb5b5"/>
<rect x="421.74" y="350.61" width="5.62" height="4.72" fill="#ffd4d4"/>
<rect x="427.01" y="350.61" width="5.62" height="4.72" fill="#ffc5c5"/>
<rect x="432.28" y="350.61" width="5.62" height="4.72" fill="#fff4f4"/>
<rect x="437.55" y="350.61" width="5.62" height="4.72" fill="#ffffff"/>
<rect x="442.82" y="350.61" width="5.62" height="4.72" fill="#fff4f4"/>
<rect x="448.09" y="350.61" width="5.62" height="4.72" fill="#ff9b9b"/>
<rect x="453.36" y="350.61" width="5.62" height="4.72" fill="#ffadad"/>
<rect x="458.63" y="350.61" width="5.62" height="4.72" fill="#ffffff"/>
<rect x="463.90" y="350.61" width="5.62" height="4.72" fill="#9b9bff"/>
<rect x="469.17" y="350.61" width="5.62" height="4.72" fill="#7f7fff"/>
<rect x="474.44" y="350.61" width="5.62" height="4.72" fill="#4d4dff"/>
<rect x="479.71" y="350.61" width="5.62" height="4.72" fill="#7f7fff"/>
<rect x="484.98" y="350.61" width="5.62" height="4.72" fill="#adadff"/>
<rect x="490.25" y="350.61" width="5.62" height="4.72" fill="#3838ff"/>
<rect x="411.20" y="354.98" width="5.62" height="4.72" fill="#ffb5b5"/>
<rect x="416.47" y="354.98" width="5.62" height="4.72" fill="#ffd4d4"/>
<rect x="421.74" y="354.98" width="5.62" height="4.72" fill="#ffc5c5"/>
<rect x="427.01" y="354.98" width="5.62" height="4.72" fill="#ff6b6b"/>
<rect x="432.28" y="354.98" width="5.62" height="4.72" fill="#d4d4ff"/>
<rect x="437.55" y="354.98" width="5.62" height="4.72" fill="#fff4f4"/>
<rect x="442.82" y="354.98" width="5.62" height="4.72" fill="#fff4f4"/>
<rect x="448.09" y="354.98" width="5.62" height="4.72" fill="#9b9bff"/>
<rect x="453.36" y="354.98" width="5.62" height="4.72" fill="#ffb5b5"/>
<rect x="458.63" y="354.98" width="5.62" height="4.72" fill="#e8e8ff"/>
<rect x="463.90" y="354.98" width="5.62" height="4.72" fill="#9b9bff"/>
<rect x="469.17" y="354.98" width="5.62" height="4.72" fill="#b5b5ff"/>
<rect x="474.44" y="354.98" width="5.62" height="4.72" fill="#7f7fff"/>
<rect x="479.71" y="354.98" width="5.62" height="4.72" fill="#9b9bff"/>
<rect x="484.98" y="354.98" width="5.62" height="4.72" fill="#7f7fff"/>
<rect x="490.25" y="354.98" width="5.62" height="4.72" fill="#b5b5ff"/>
<rect x="411.20" y="359.35" width="5.62" height="4.72" fill="#e8e8ff"/>
<rect x="416.47" y="359.35" width="5.62" height="4.72" fill="#e8e8ff"/>
<rect x="421.74" y="359.35" width="5.62" height="4.72" fill="#e8e8ff"/>
<rect x="427.01" y="359.35" width="5.62" height="4.72" fill="#e8e8ff"/>
<rect x="432.28" y="359.35" width="5.62" height="4.72" fill="#dbdbff"/>
<rect x="437.55" y="359.35" width="5.62" height="4.72" fill="#e8e8ff"/>
<rect x="442.82" y="359.35" width="5.62" height="4.72" fill="#ffd4d4"/>
<rect x="448.09" y="359.35" width="5.62" height="4.72" fill="#e8e8ff"/>
<rect x="453.36" y="359.35" width="5.62" height="4.72" fill="#e8e8ff"/>
<rect x="458.63" y="359.35" width="5.62" height="4.72" fill="#e8e8ff"/>
<rect x="463.90" y="359.35" width="5.62" height="4.72" fill="#e8e8ff"/>
<rect x="469.17" y="359.35" width="5.62" height="4.72" fill="#e8e8ff"/>
<rect x="474.44" y="359.35" width="5.62" height="4.72" fill="#e8e8ff"/>
<rect x="479.71" y="359.35" width="5.62" height="4.72" fill="#e8e8ff"/>
<rect x="484.98" y="359.35" width="5.62" height="4.72" fill="#ff0000"/>
<rect x="490.25" y="359.35" width="5.62" height="4.72" fill="#e8e8ff"/>
<rect x="411.20" y="363.72" width="5.62" height="4.72" fill="#f4f4ff"/>
<rect x="416.47" y="363.72" width="5.62" height="4.72" fill="#fff4f4"/>
<rect x="421.74" y="363.72" width="5.62" height="4.72" fill="#ffffff"/>
<rect x="427.01" y="363.72" width="5.62" height="4.72" fill="#d4d4ff"/>
<rect x="432.28" y="363.72" width="5.62" height="4.72" fill="#c5c5ff"/>
<rect x="437.55" y="363.72" width="5.62" height="4.72" fill="#c5c5ff"/>
<rect x="442.82" y="363.72" width="5.62" height="4.72" fill="#c5c5ff"/>
<rect x="448.09" y="363.72" width="5.62" height="4.72" fill="#ffb5b5"/>
<rect x="453.36" y="363.72" width="5.62" height="4.72" fill="#f8f8ff"/>
<rect x="458.63" y="363.72" width="5.62" height="4.72" fill="#d4d4ff"/>
<rect x="463.90" y="363.72" width="5.62" height="4.72" fill="#d4d4ff"/>
<rect x="469.17" y="363.72" width="5.62" height="4.72" fill="#ffffff"/>
<rect x="474.44" y="363.72" width="5.62" height="4.72" fill="#c5c5ff"/>
<rect x="479.71" y="363.72" width="5.62" height="4.72" fill="#ff0000"/>
<rect x="484.98" y="363.72" width="5.62" height="4.72" fill="#d4d4ff"/>
<rect x="490.25" y="363.72" width="5.62" height="4.72" fill="#e8e8ff"/>
<rect x="411.20" y="368.09" width="5.62" height="4.72" fill="#dbdbff"/>
<rect x="416.47" y="368.09" width="5.62" height="4.72" fill="#4d4dff"/>
<rect x="421.74" y="368.09" width="5.62" height="4.72" fill="#b5b5ff"/>
<rect x="427.01" y="368.09" width="5.62" height="4.72" fill="#d4d4ff"/>
<rect x="432.28" y="368.09" width="5.62" height="4.72" fill="#fff8f8"/>
<rect x="437.55" y="368.09" width="5.62" height="4.72" fill="#e8e8ff"/>
<rect x="442.82" y="368.09" width="5.62" height="4.72" fill="#6b6bff"/>
<rect x="448.09" y="368.09" width="5.62" height="4.72" fill="#6b6bff"/>
<rect x="453.36" y="368.09" width="5.62" height="4.72" fill="#6b6bff"/>
<rect x="458.63" y="368.09" width="5.62" height="4.72" fill="#ffe8e8"/>
<rect x="463.90" y="368.09" width="5.62" height="4.72" fill="#ffadad"/>
<rect x="469.17" y="368.09" width="5.62" height="4.72" fill="#ffb5b5"/>
<rect x="474.44" y="368.09" width="5.62" height="4.72" fill="#6b6bff"/>
<rect x="479.71" y="368.09" width="5.62" height="4.72" fill="#ff6b6b"/>
<rect x="484.98" y="368.09" width="5.62" height="4.72" fill="#ffadad"/>
<rect x="490.25" y="368.09" width="5.62" height="4.72" fill="#ffadad"/>
<rect x="411.20" y="372.46" width="5.62" height="4.72" fill="#e8e8ff"/>
<rect x="416.47" y="372.46" width="5.62" height="4.72" fill="#e8e8ff"/>
<rect x="421.74" y="372.46" width="5.62" height="4.72" fill="#e8e8ff"/>
<rect x="427.01" y="372.46" width="5.62" height="4.72" fill="#e8e8ff"/>
<rect x="432.28" y="372.46" width="5.62" height="4.72" fill="#e8e8ff"/>
<rect x="437.55" y="372.46" width="5.62" height="4.72" fill="#e8e8ff"/>
<rect x="442.82" y="372.46" width="5.62" height="4.72" fill="#e8e8ff"/>
<rect x="448.09" y="372.46" width="5.62" height="4.72" fill="#e8e8ff"/>
<rect x="453.36" y="372.46" width="5.62" height="4.72" fill="#dbdbff"/>
<rect x="458.63" y="372.46" width="5.62" height="4.72" fill="#e8e8ff"/>
<rect x="463.90" y="372.46" width="5.62" height="4.72" fill="#dbdbff"/>
<rect x="469.17" y="372.46" width="5.62" height="4.72" fill="#ff0000"/>
<rect x="474.44" y="372.46" width="5.62" height="4.72" fill="#dbdbff"/>
<rect x="479.71" y="372.46" width="5.62" height="4.72" fill="#f4f4ff"/>
<rect x="484.98" y="372.46" width="5.62" height="4.72" fill="#f4f4ff"/>
<rect x="490.25" y="372.46" width="5.62" height="4.72" fill="#f4f4ff"/>
<rect x="411.20" y="376.83" width="5.62" height="4.72" fill="#9b9bff"/>
<rect x="416.47" y="376.83" width="5.62" height="4.72" fill="#adadff"/>
<rect x="421.74" y="376.83" width="5.62" height="4.72" fill="#9b9bff"/>
<rect x="427.01" y="376.83" width="5.62" height="4.72" fill="#c5c5ff"/>
<rect x="432.28" y="376.83" width="5.62" height="4.72" fill="#dbdbff"/>
<rect x="437.55" y="376.83" width="5.62" height="4.72" fill="#ffffff"/>
<rect x="442.82" y="376.83" width="5.62" height="4.72" fill="#ffc5c5"/>
<rect x="448.09" y="376.83" width="5.62" height="4.72" fill="#ffffff"/>
<rect x="453.36" y="376.83" width="5.62" height="4.72" fill="#ffffff"/>
<rect x="458.63" y="376.83" width="5.62" height="4.72" fill="#fff4f4"/>
<rect x="463.90" y="376.83" width="5.62" height="4.72" fill="#ffc5c5"/>
<rect x="469.17" y="376.83" width="5.62" height="4.72" fill="#ff3838"/>
<rect x="474.44" y="376.83" width="5.62" height="4.72" fill="#1717ff"/>
<rect x="479.71" y="376.83" width="5.62" height="4.72" fill="#ffe8e8"/>
<rect x="484.98" y="376.83" width="5.62" height="4.72" fill="#e8e8ff"/>
<rect x="490.25" y="376.83" width="5.62" height="4.72" fill="#d4d4ff"/>
<rect x="411.20" y="242.4" width="5.62" height="6.6" fill="#E64B35"/>
<rect x="416.47" y="242.4" width="5.62" height="6.6" fill="#00A087"/>
<rect x="421.74" y="242.4" width="5.62" height="6.6" fill="#E64B35"/>
<rect x="427.01" y="242.4" width="5.62" height="6.6" fill="#E64B35"/>
<rect x="432.28" y="242.4" width="5.62" height="6.6" fill="#3C5488"/>
<rect x="437.55" y="242.4" width="5.62" height="6.6" fill="#00A087"/>
<rect x="442.82" y="242.4" width="5.62" height="6.6" fill="#00A087"/>
<rect x="448.09" y="242.4" width="5.62" height="6.6" fill="#4DBBD5"/>
<rect x="453.36" y="242.4" width="5.62" height="6.6" fill="#4DBBD5"/>
<rect x="458.63" y="242.4" width="5.62" height="6.6" fill="#4DBBD5"/>
<rect x="463.90" y="242.4" width="5.62" height="6.6" fill="#4DBBD5"/>
<rect x="469.17" y="242.4" width="5.62" height="6.6" fill="#3C5488"/>
<rect x="474.44" y="242.4" width="5.62" height="6.6" fill="#00A087"/>
<rect x="479.71" y="242.4" width="5.62" height="6.6" fill="#E64B35"/>
<rect x="484.98" y="242.4" width="5.62" height="6.6" fill="#3C5488"/>
<rect x="490.25" y="242.4" width="5.62" height="6.6" fill="#3C5488"/>
<path d="M392.10,256.65L392.10,261.02M392.10,256.65L411.20,256.65M392.10,261.02L411.20,261.02M368.50,252.28L368.50,258.84M368.50,252.28L411.20,252.28M368.50,258.84L392.10,258.84M401.00,274.13L401.00,278.50M401.00,274.13L411.20,274.13M401.00,278.50L411.20,278.50M391.70,269.76L391.70,276.32M391.70,269.76L411.20,269.76M391.70,276.32L401.00,276.32M406.00,291.62L406.00,295.99M406.00,291.62L411.20,291.62M406.00,295.99L411.20,295.99M401.00,287.25L401.00,293.80M401.00,287.25L411.20,287.25M401.00,293.80L406.00,293.80M409.80,300.36L409.80,304.73M409.80,300.36L411.20,300.36M409.80,304.73L411.20,304.73M409.80,309.10L409.80,313.46M409.80,309.10L411.20,309.10M409.80,313.46L411.20,313.46M406.60,302.54L406.60,311.28M406.60,302.54L409.80,302.54M406.60,311.28L409.80,311.28M406.60,317.83L406.60,322.20M406.60,317.83L411.20,317.83M406.60,322.20L411.20,322.20M401.70,306.91L401.70,320.02M401.70,306.91L406.60,306.91M401.70,320.02L406.60,320.02M396.70,290.52L396.70,313.46M396.70,290.52L401.00,290.52M396.70,313.46L401.70,313.46M391.10,282.88L391.10,301.99M391.10,282.88L411.20,282.88M391.10,301.99L396.70,301.99M386.70,273.04L386.70,292.43M386.70,273.04L391.70,273.04M386.70,292.43L391.10,292.43M382.10,265.39L382.10,282.74M382.10,265.39L411.20,265.39M382.10,282.74L386.70,282.74M396.70,326.57L396.70,330.94M396.70,326.57L411.20,326.57M396.70,330.94L411.20,330.94M399.20,335.31L399.20,339.69M399.20,335.31L411.20,335.31M399.20,339.69L411.20,339.69M404.20,352.80L404.20,357.16M404.20,352.80L411.20,352.80M404.20,357.16L411.20,357.16M396.70,348.43L396.70,354.98M396.70,348.43L411.20,348.43M396.70,354.98L404.20,354.98M391.70,344.06L391.70,351.70M391.70,344.06L411.20,344.06M391.70,351.70L396.70,351.70M386.70,337.50L386.70,347.88M386.70,337.50L399.20,337.50M386.70,347.88L391.70,347.88M382.10,328.76L382.10,342.69M382.10,328.76L396.70,328.76M382.10,342.69L386.70,342.69M377.40,274.07L377.40,335.72M377.40,274.07L382.10,274.07M377.40,335.72L382.10,335.72M399.20,374.64L399.20,379.01M399.20,374.64L411.20,374.64M399.20,379.01L411.20,379.01M386.70,370.27L386.70,376.83M386.70,370.27L411.20,370.27M386.70,376.83L399.20,376.83M382.10,365.90L382.10,373.55M382.10,365.90L411.20,365.90M382.10,373.55L386.70,373.55M377.40,361.53L377.40,369.73M377.40,361.53L411.20,361.53M377.40,369.73L382.10,369.73M368.10,304.90L368.10,365.63M368.10,304.90L377.40,304.90M368.10,365.63L377.40,365.63M363.50,255.56L363.50,335.26M363.50,255.56L368.50,255.56M363.50,335.26L368.10,335.26" stroke="#333" stroke-width="0.85" fill="none" stroke-linecap="square"/>
<path d="M413.83,233.70L419.10,233.70M413.83,233.70L413.83,242.40M419.10,233.70L419.10,242.40M424.38,233.70L429.64,233.70M424.38,233.70L424.38,242.40M429.64,233.70L429.64,242.40M416.47,225.80L427.01,225.80M416.47,225.80L416.47,233.70M427.01,225.80L427.01,233.70M440.19,235.60L445.45,235.60M440.19,235.60L440.19,242.40M445.45,235.60L445.45,242.40M461.26,239.60L466.53,239.60M461.26,239.60L461.26,242.40M466.53,239.60L466.53,242.40M456.00,237.60L463.90,237.60M456.00,237.60L456.00,242.40M463.90,237.60L463.90,239.60M450.72,233.70L459.95,233.70M450.72,233.70L450.72,242.40M459.95,233.70L459.95,237.60M442.82,229.70L455.34,229.70M442.82,229.70L442.82,235.60M455.34,229.70L455.34,233.70M434.91,225.80L449.08,225.80M434.91,225.80L434.91,242.40M449.08,225.80L449.08,229.70M421.74,218.50L442.00,218.50M421.74,218.50L421.74,225.80M442.00,218.50L442.00,225.80M487.62,235.60L492.88,235.60M487.62,235.60L487.62,242.40M492.88,235.60L492.88,242.40M482.34,229.70L490.25,229.70M482.34,229.70L482.34,242.40M490.25,229.70L490.25,235.60M477.07,225.80L486.30,225.80M477.07,225.80L477.07,242.40M486.30,225.80L486.30,229.70M471.81,218.50L481.69,218.50M471.81,218.50L471.81,242.40M481.69,218.50L481.69,225.80M431.87,213.90L476.75,213.90M431.87,213.90L431.87,218.50M476.75,213.90L476.75,218.50" stroke="#333" stroke-width="0.85" fill="none" stroke-linecap="square"/>
<text x="498.5" y="255.38" font-size="5.55" font-style="italic" font-weight="bold" fill="#222" transform="rotate(0.02 498.5 255.38)">Cladophialophora</text>
<text x="498.5" y="259.75" font-size="5.55" font-style="italic" font-weight="bold" fill="#222" transform="rotate(0.02 498.5 259.75)">Saitozyma</text>
<text x="498.5" y="264.12" font-size="5.55" font-style="italic" font-weight="bold" fill="#222" transform="rotate(0.02 498.5 264.12)">Dyonisia</text>
<text x="498.5" y="268.50" font-size="5.55" font-style="italic" font-weight="bold" fill="#222" transform="rotate(0.02 498.5 268.50)">Clathrosphaerina</text>
<text x="498.5" y="272.87" font-size="5.55" font-style="italic" font-weight="bold" fill="#222" transform="rotate(0.02 498.5 272.87)">Neonectria</text>
<text x="498.5" y="277.24" font-size="5.55" font-style="italic" font-weight="bold" fill="#222" transform="rotate(0.02 498.5 277.24)">Pseudeurotiaceae_gen_Incertae_sedis</text>
<text x="498.5" y="281.61" font-size="5.55" font-style="italic" font-weight="bold" fill="#222" transform="rotate(0.02 498.5 281.61)">Aspergillus</text>
<text x="498.5" y="285.98" font-size="5.55" font-style="italic" font-weight="bold" fill="#222" transform="rotate(0.02 498.5 285.98)">Talaromyces</text>
<text x="498.5" y="290.35" font-size="5.55" font-style="italic" font-weight="bold" fill="#222" transform="rotate(0.02 498.5 290.35)">Exophiala</text>
<text x="498.5" y="294.72" font-size="5.55" font-style="italic" font-weight="bold" fill="#222" transform="rotate(0.02 498.5 294.72)">Solicoccozyma</text>
<text x="498.5" y="299.09" font-size="5.55" font-style="italic" font-weight="bold" fill="#222" transform="rotate(0.02 498.5 299.09)">Chaetothyriales_gen_Incertae_sedis</text>
<text x="498.5" y="303.46" font-size="5.55" font-style="italic" font-weight="bold" fill="#222" transform="rotate(0.02 498.5 303.46)">Oidiodendron</text>
<text x="498.5" y="307.83" font-size="5.55" font-style="italic" font-weight="bold" fill="#222" transform="rotate(0.02 498.5 307.83)">Geminibasidium</text>
<text x="498.5" y="312.20" font-size="5.55" font-style="italic" font-weight="bold" fill="#222" transform="rotate(0.02 498.5 312.20)">Botryoderma</text>
<text x="498.5" y="316.56" font-size="5.55" font-style="italic" font-weight="bold" fill="#222" transform="rotate(0.02 498.5 316.56)">Trechispora</text>
<text x="498.5" y="320.94" font-size="5.55" font-style="italic" font-weight="bold" fill="#222" transform="rotate(0.02 498.5 320.94)">Trichoderma</text>
<text x="498.5" y="325.31" font-size="5.55" font-style="italic" font-weight="bold" fill="#222" transform="rotate(0.02 498.5 325.31)">Pseudogymnoascus</text>
<text x="498.5" y="329.68" font-size="5.55" font-style="italic" font-weight="bold" fill="#222" transform="rotate(0.02 498.5 329.68)">Fusarium</text>
<text x="498.5" y="334.05" font-size="5.55" font-style="italic" font-weight="bold" fill="#222" transform="rotate(0.02 498.5 334.05)">Clonostachys</text>
<text x="498.5" y="338.42" font-size="5.55" font-style="italic" font-weight="bold" fill="#222" transform="rotate(0.02 498.5 338.42)">Neopyrenochaeta</text>
<text x="498.5" y="342.79" font-size="5.55" font-style="italic" font-weight="bold" fill="#222" transform="rotate(0.02 498.5 342.79)">Pleotrichocladium</text>
<text x="498.5" y="347.16" font-size="5.55" font-style="italic" font-weight="bold" fill="#222" transform="rotate(0.02 498.5 347.16)">Paraphaeosphaeria</text>
<text x="498.5" y="351.53" font-size="5.55" font-style="italic" font-weight="bold" fill="#222" transform="rotate(0.02 498.5 351.53)">Simplicillium</text>
<text x="498.5" y="355.90" font-size="5.55" font-style="italic" font-weight="bold" fill="#222" transform="rotate(0.02 498.5 355.90)">Penicillium</text>
<text x="498.5" y="360.26" font-size="5.55" font-style="italic" font-weight="bold" fill="#222" transform="rotate(0.02 498.5 360.26)">Fusicolla</text>
<text x="498.5" y="364.63" font-size="5.55" font-style="italic" font-weight="bold" fill="#222" transform="rotate(0.02 498.5 364.63)">Polyporales_gen_Incertae_sedis</text>
<text x="498.5" y="369.00" font-size="5.55" font-style="italic" font-weight="bold" fill="#222" transform="rotate(0.02 498.5 369.00)">Pyrenochaetopsis</text>
<text x="498.5" y="373.38" font-size="5.55" font-style="italic" font-weight="bold" fill="#222" transform="rotate(0.02 498.5 373.38)">Humicola</text>
<text x="498.5" y="377.75" font-size="5.55" font-style="italic" font-weight="bold" fill="#222" transform="rotate(0.02 498.5 377.75)">Plectosphaerella</text>
<text x="498.5" y="382.12" font-size="5.55" font-style="italic" font-weight="bold" fill="#222" transform="rotate(0.02 498.5 382.12)">Arcopilus</text>
<text x="413.83" y="383.8" font-size="5.6" fill="#222" dominant-baseline="central" transform="rotate(90 413.83 383.8)">CK4</text>
<text x="419.10" y="383.8" font-size="5.6" fill="#222" dominant-baseline="central" transform="rotate(90 419.10 383.8)">ZS2</text>
<text x="424.38" y="383.8" font-size="5.6" fill="#222" dominant-baseline="central" transform="rotate(90 424.38 383.8)">CK1</text>
<text x="429.64" y="383.8" font-size="5.6" fill="#222" dominant-baseline="central" transform="rotate(90 429.64 383.8)">CK3</text>
<text x="434.91" y="383.8" font-size="5.6" fill="#222" dominant-baseline="central" transform="rotate(90 434.91 383.8)">XS3</text>
<text x="440.19" y="383.8" font-size="5.6" fill="#222" dominant-baseline="central" transform="rotate(90 440.19 383.8)">ZS1</text>
<text x="445.45" y="383.8" font-size="5.6" fill="#222" dominant-baseline="central" transform="rotate(90 445.45 383.8)">ZS4</text>
<text x="450.72" y="383.8" font-size="5.6" fill="#222" dominant-baseline="central" transform="rotate(90 450.72 383.8)">XX1</text>
<text x="456.00" y="383.8" font-size="5.6" fill="#222" dominant-baseline="central" transform="rotate(90 456.00 383.8)">XX4</text>
<text x="461.26" y="383.8" font-size="5.6" fill="#222" dominant-baseline="central" transform="rotate(90 461.26 383.8)">XX3</text>
<text x="466.53" y="383.8" font-size="5.6" fill="#222" dominant-baseline="central" transform="rotate(90 466.53 383.8)">XX2</text>
<text x="471.81" y="383.8" font-size="5.6" fill="#222" dominant-baseline="central" transform="rotate(90 471.81 383.8)">XS1</text>
<text x="477.07" y="383.8" font-size="5.6" fill="#222" dominant-baseline="central" transform="rotate(90 477.07 383.8)">ZS3</text>
<text x="482.34" y="383.8" font-size="5.6" fill="#222" dominant-baseline="central" transform="rotate(90 482.34 383.8)">CK2</text>
<text x="487.62" y="383.8" font-size="5.6" fill="#222" dominant-baseline="central" transform="rotate(90 487.62 383.8)">XS4</text>
<text x="492.88" y="383.8" font-size="5.6" fill="#222" dominant-baseline="central" transform="rotate(90 492.88 383.8)">XS2</text>
<rect x="631.4" y="254.4" width="4.8" height="39.5" fill="url(#gc)"/>
<text x="637.8" y="258.9" font-size="5.8" fill="#333">3.75</text>
<text x="637.8" y="276.9" font-size="5.8" fill="#333">0.00</text>
<text x="637.8" y="293.7" font-size="5.8" fill="#333">-1.92</text>
<text x="653.8" y="250.5" font-size="5.5" font-weight="bold" fill="#444">Group</text>
<rect x="655.2" y="254.4" width="9.8" height="8.0" fill="#E64B35"/>
<text x="667" y="260.0" font-size="4.8" font-weight="bold" fill="#444">CK</text>
<rect x="655.2" y="262.2" width="9.8" height="8.0" fill="#4DBBD5"/>
<text x="667" y="267.8" font-size="4.8" font-weight="bold" fill="#444">XX</text>
<rect x="655.2" y="270.0" width="9.8" height="8.0" fill="#00A087"/>
<text x="667" y="275.6" font-size="4.8" font-weight="bold" fill="#444">ZS</text>
<rect x="655.2" y="277.9" width="9.8" height="8.2" fill="#3C5488"/>
<text x="667" y="283.5" font-size="4.8" font-weight="bold" fill="#444">XS</text>
<text x="5.5" y="18.7" font-size="13.5" font-weight="bold" fill="#111">a</text>
<text x="349.6" y="18.9" font-size="13.5" font-weight="bold" fill="#111">b</text>
<text x="1.2" y="241.6" font-size="14" font-weight="normal" fill="#111">c</text>
<text x="348.2" y="241.6" font-size="14" font-weight="normal" fill="#111">d</text>
</g>
</svg></body></html>
